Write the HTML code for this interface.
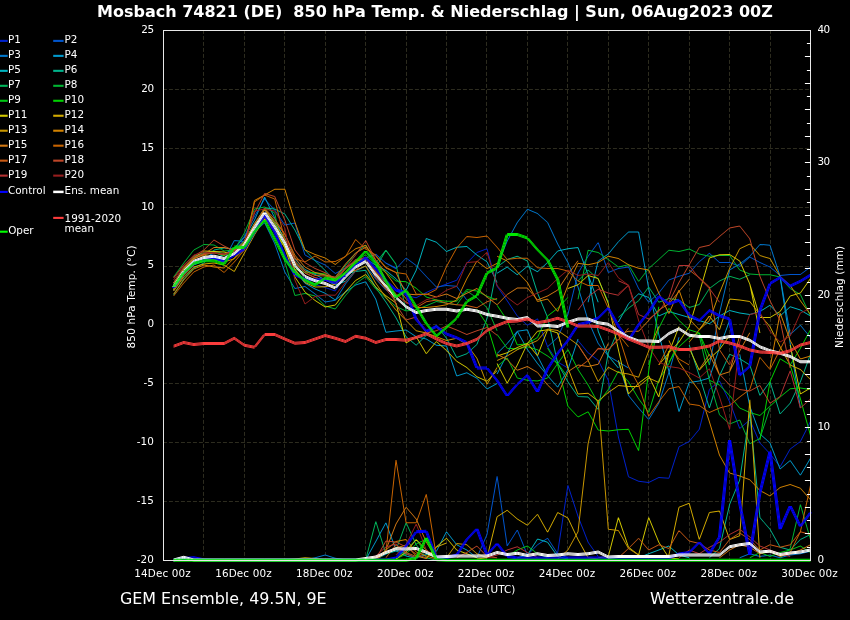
<!DOCTYPE html>
<html lang="de"><head><meta charset="utf-8"><title>Mosbach 74821 (DE) 850 hPa Temp. &amp; Niederschlag</title>
<style>html,body{margin:0;padding:0;background:#000;}body{width:850px;height:620px;overflow:hidden;}svg{display:block;}text{font-family:"DejaVu Sans", "Liberation Sans", sans-serif;fill:#fff;}</style></head><body>
<svg width="850" height="620" viewBox="0 0 850 620">
<rect width="850" height="620" fill="#000"/>
<path d="M203.50 30.50V560.50M244.50 30.50V560.50M284.50 30.50V560.50M325.50 30.50V560.50M365.50 30.50V560.50M406.50 30.50V560.50M446.50 30.50V560.50M486.50 30.50V560.50M527.50 30.50V560.50M567.50 30.50V560.50M608.50 30.50V560.50M648.50 30.50V560.50M689.50 30.50V560.50M729.50 30.50V560.50M770.50 30.50V560.50" fill="none" stroke="#2d2c1f" stroke-width="1" stroke-dasharray="4 2" stroke-dashoffset="0.6"/>
<path d="M163.50 501.50H810.50M163.50 442.50H810.50M163.50 383.50H810.50M163.50 324.50H810.50M163.50 266.50H810.50M163.50 207.50H810.50M163.50 148.50H810.50M163.50 89.50H810.50" fill="none" stroke="#2d2c1f" stroke-width="1" stroke-dasharray="4 2" stroke-dashoffset="0.56"/>
<g stroke="none">
<path fill="#0022cc" d="M426.3 292L436.4 287.4L436.4 288.4L426.3 293ZM436.4 287.4L446.5 283.5L446.5 284.5L436.4 288.4ZM446.5 283.5L456.7 279.7L456.7 280.7L446.5 284.5ZM457.2 280.2L456.2 280.2L466.3 263.3L467.3 263.3ZM467.3 263.3L466.3 263.3L476.4 252.6L477.4 252.6ZM476.9 252.1L487 248.3L487 249.3L476.9 253.1ZM486.5 248.8L487.5 248.8L497.6 286.3L496.6 286.3ZM496.6 286.3L497.6 286.3L507.7 300.7L506.7 300.7ZM506.7 300.7L507.7 300.7L517.8 316L516.8 316ZM517.3 315.5L527.4 324.7L527.4 325.7L517.3 316.5ZM527.4 324.7L537.5 318.3L537.5 319.3L527.4 325.7ZM537 318.8L538 318.8L548.1 346.7L547.1 346.7ZM547.1 346.7L548.1 346.7L558.2 362L557.2 362ZM557.7 361.5L567.9 367.6L567.9 368.6L557.7 362.5ZM577.5 340.4L578.5 340.4L588.6 352.7L587.6 352.7ZM588.1 352.2L598.2 359.8L598.2 360.8L588.1 353.2ZM597.7 360.3L598.7 360.3L608.8 380.3L607.8 380.3ZM607.8 380.3L608.8 380.3L618.9 437L617.9 437ZM617.9 437L618.9 437L629 476.7L628 476.7ZM689.7 441.5L688.7 441.5L698.8 429.3L699.8 429.3ZM699.8 429.3L698.8 429.3L708.9 389.5L709.9 389.5ZM709.4 389L719.5 380.5L719.5 381.5L709.4 390ZM719 381L720 381L730.1 401.7L729.1 401.7ZM729.1 401.7L730.1 401.7L740.2 428.6L739.2 428.6ZM739.7 428.1L749.8 419.6L749.8 420.6L739.7 429.1ZM749.3 420.1L750.3 420.1L760.4 443L759.4 443ZM759.4 443L760.4 443L770.5 453.7L769.5 453.7ZM769.5 453.7L770.5 453.7L780.6 466.8L779.6 466.8ZM780.6 466.8L779.6 466.8L789.7 449.1L790.7 449.1ZM790.2 448.6L800.4 441L800.4 442L790.2 449.6ZM800.9 441.5L799.9 441.5L810 421.5L811 421.5ZM628.5 476.2L638.6 480.8L638.6 481.8L628.5 477.2ZM638.6 480.8L648.7 482L648.7 483L638.6 481.8ZM648.7 482L658.8 477L658.8 478L648.7 483ZM658.8 477L668.9 477.8L668.9 478.8L658.8 478ZM669.4 478.3L668.4 478.3L678.5 446.8L679.5 446.8ZM679 446.3L689.2 441L689.2 442L679 447.3ZM547.6 557.2L557.7 552L557.7 553L547.6 558.2ZM558.2 552.5L557.2 552.5L567.4 485.2L568.4 485.2ZM567.4 485.2L568.4 485.2L578.5 516.3L577.5 516.3ZM577.5 516.3L578.5 516.3L588.6 542.2L587.6 542.2ZM587.6 542.2L588.6 542.2L598.7 556.4L597.7 556.4ZM174.1 289.7L173.1 289.7L183.2 274.2L184.2 274.2ZM183.7 273.7L193.8 264.6L193.8 265.6L183.7 274.7ZM193.8 264.6L203.9 259.8L203.9 260.8L193.8 265.6ZM203.9 259.8L214 252.1L214 253.1L203.9 260.8ZM214 252.1L224.1 254.5L224.1 255.5L214 253.1ZM224.1 254.5L234.3 248.3L234.3 249.3L224.1 255.5ZM234.3 248.3L244.4 239.7L244.4 240.7L234.3 249.3ZM244.9 240.2L243.9 240.2L254 224.3L255 224.3ZM255 224.3L254 224.3L264.1 209.4L265.1 209.4ZM264.1 209.4L265.1 209.4L275.2 231.1L274.2 231.1ZM274.2 231.1L275.2 231.1L285.3 247.6L284.3 247.6ZM284.3 247.6L285.3 247.6L295.4 271.3L294.4 271.3ZM294.4 271.3L295.4 271.3L305.5 281.8L304.5 281.8ZM305 281.3L315.1 284.1L315.1 285.1L305 282.3ZM315.1 284.1L325.2 287L325.2 288L315.1 285.1ZM325.2 287L335.3 290.5L335.3 291.5L325.2 288ZM335.8 291L334.8 291L345 274.3L346 274.3ZM345.5 273.8L355.6 263.7L355.6 264.7L345.5 274.8ZM355.6 263.7L365.7 258.2L365.7 259.2L355.6 264.7ZM365.2 258.7L366.2 258.7L376.3 272.1L375.3 272.1ZM375.3 272.1L376.3 272.1L386.4 282.5L385.4 282.5ZM385.9 282L396 290.5L396 291.5L385.9 283ZM396 290.5L406.1 295L406.1 296L396 291.5ZM406.1 295L416.2 297.3L416.2 298.3L406.1 296ZM416.2 297.3L426.3 292L426.3 293L416.2 298.3Z"/>
<path fill="#0055cc" d="M375.8 253.6L385.9 262.8L385.9 263.8L375.8 254.6ZM385.9 262.8L396 268.2L396 269.2L385.9 263.8ZM396.5 268.7L395.5 268.7L405.6 258L406.6 258ZM406.1 257.5L416.2 265.1L416.2 266.1L406.1 258.5ZM415.7 265.6L416.7 265.6L426.8 276.4L425.8 276.4ZM425.8 276.4L426.8 276.4L436.9 287.1L435.9 287.1ZM436.4 286.6L446.5 285.1L446.5 286.1L436.4 287.6ZM446.5 285.1L456.7 285.8L456.7 286.8L446.5 286.1ZM456.2 286.3L457.2 286.3L467.3 300.1L466.3 300.1ZM568.4 314.5L567.4 314.5L577.5 273.2L578.5 273.2ZM578.5 273.2L577.5 273.2L587.6 256.3L588.6 256.3ZM588.6 256.3L587.6 256.3L597.7 242.5L598.7 242.5ZM597.7 242.5L598.7 242.5L608.8 272.4L607.8 272.4ZM608.3 271.9L618.4 268.1L618.4 269.1L608.3 272.9ZM618.4 268.1L628.5 266.6L628.5 267.6L618.4 269.1ZM547.6 346.2L557.7 337L557.7 338L547.6 347.2ZM558.2 337.5L557.2 337.5L567.4 314.5L568.4 314.5ZM628 267.1L629 267.1L639.1 288.5L638.1 288.5ZM638.1 288.5L639.1 288.5L649.2 302.3L648.2 302.3ZM648.7 301.8L658.8 292.6L658.8 293.6L648.7 302.8ZM659.3 293.1L658.3 293.1L668.4 280.1L669.4 280.1ZM668.9 279.6L679 275.8L679 276.8L668.9 280.6ZM679 275.8L689.2 272.7L689.2 273.7L679 276.8ZM689.7 273.2L688.7 273.2L698.8 261.7L699.8 261.7ZM699.3 261.2L709.4 252.8L709.4 253.8L699.3 262.2ZM709.4 252.8L719.5 262L719.5 263L709.4 253.8ZM719.5 262L729.6 262L729.6 263L719.5 263ZM729.6 262L739.7 265.8L739.7 266.8L729.6 263ZM739.7 265.8L749.8 256.6L749.8 257.6L739.7 266.8ZM749.8 256.6L759.9 262L759.9 263L749.8 257.6ZM759.9 262L770 266.6L770 267.6L759.9 263ZM770 266.6L780.1 275L780.1 276L770 267.6ZM780.1 275L790.2 273.9L790.2 274.9L780.1 276ZM790.2 273.9L800.4 273.9L800.4 274.9L790.2 274.9ZM800.4 273.9L810.5 266.6L810.5 267.6L800.4 274.9ZM477.4 557.7L476.4 557.7L486.5 534.4L487.5 534.4ZM487.5 534.4L486.5 534.4L496.6 476.2L497.6 476.2ZM496.6 476.2L497.6 476.2L507.7 546L506.7 546ZM507.7 546L506.7 546L516.8 530L517.8 530ZM516.8 530L517.8 530L527.9 555.1L526.9 555.1ZM527.9 555.1L526.9 555.1L537 544.8L538 544.8ZM537.5 544.3L547.6 537.8L547.6 538.8L537.5 545.3ZM547.1 538.3L548.1 538.3L558.2 553.8L557.2 553.8ZM557.7 553.3L567.9 557.2L567.9 558.2L557.7 554.3ZM174.1 290.7L173.1 290.7L183.2 275.2L184.2 275.2ZM184.2 275.2L183.2 275.2L193.3 264.7L194.3 264.7ZM193.8 264.2L203.9 259.8L203.9 260.8L193.8 265.2ZM203.9 259.8L214 252.3L214 253.3L203.9 260.8ZM214 252.3L224.1 254.8L224.1 255.8L214 253.3ZM224.1 254.8L234.3 248L234.3 249L224.1 255.8ZM234.8 248.5L233.8 248.5L243.9 236.3L244.9 236.3ZM244.9 236.3L243.9 236.3L254 216.3L255 216.3ZM255 216.3L254 216.3L264.1 198.9L265.1 198.9ZM264.1 198.9L265.1 198.9L275.2 210L274.2 210ZM274.2 210L275.2 210L285.3 225L284.3 225ZM284.8 224.5L294.9 222.5L294.9 223.5L284.8 225.5ZM294.4 223L295.4 223L305.5 255L304.5 255ZM305 254.5L315.1 260L315.1 261L305 255.5ZM315.1 260L325.2 264.5L325.2 265.5L315.1 261ZM325.2 264.5L335.3 273L335.3 274L325.2 265.5ZM335.3 273L345.5 267.5L345.5 268.5L335.3 274ZM345.5 267.5L355.6 260.5L355.6 261.5L345.5 268.5ZM355.6 260.5L365.7 257.5L365.7 258.5L355.6 261.5ZM365.7 257.5L375.8 254L375.8 255L365.7 258.5ZM375.8 254L385.9 262.5L385.9 263.5L375.8 255ZM385.9 262.5L396 267.5L396 268.5L385.9 263.5Z"/>
<path fill="#0077cc" d="M497.6 265.5L496.6 265.5L506.7 241L507.7 241ZM507.7 241L506.7 241L516.8 222.6L517.8 222.6ZM517.8 222.6L516.8 222.6L526.9 209.3L527.9 209.3ZM527.4 208.8L537.5 212.9L537.5 213.9L527.4 209.8ZM537.5 212.9L547.6 222.1L547.6 223.1L537.5 213.9ZM547.1 222.6L548.1 222.6L558.2 244.1L557.2 244.1ZM557.2 244.1L558.2 244.1L568.4 262.5L567.4 262.5ZM567.4 262.5L568.4 262.5L578.5 287L577.5 287ZM577.5 287L578.5 287L588.6 320.6L587.6 320.6ZM587.6 320.6L588.6 320.6L598.7 343.6L597.7 343.6ZM597.7 343.6L598.7 343.6L608.8 355.9L607.8 355.9ZM608.3 355.4L618.4 361.5L618.4 362.5L608.3 356.4ZM618.4 361.5L628.5 367.6L628.5 368.6L618.4 362.5ZM617.9 362L618.9 362L629 395.6L628 395.6ZM720 312.9L719 312.9L729.1 270.1L730.1 270.1ZM729.6 269.6L739.7 263.5L739.7 264.5L729.6 270.6ZM739.7 263.5L749.8 255.8L749.8 256.8L739.7 264.5ZM709.9 365L708.9 365L719 312.9L720 312.9ZM628 395.6L629 395.6L639.1 407.9L638.1 407.9ZM638.1 407.9L639.1 407.9L649.2 419.4L648.2 419.4ZM649.2 419.4L648.2 419.4L658.3 403.3L659.3 403.3ZM659.3 403.3L658.3 403.3L668.4 372.6L669.4 372.6ZM669.4 372.6L668.4 372.6L678.5 337.3L679.5 337.3ZM750.3 256.3L749.3 256.3L759.4 244.4L760.4 244.4ZM759.9 243.9L770 244.8L770 245.8L759.9 244.9ZM769.5 245.3L770.5 245.3L780.6 276.3L779.6 276.3ZM779.6 276.3L780.6 276.3L790.7 334.4L789.7 334.4ZM790.2 333.9L800.4 324.7L800.4 325.7L790.2 334.9ZM799.9 325.2L800.9 325.2L811 337.5L810 337.5ZM739.7 557.2L749.8 553.3L749.8 554.3L739.7 558.2ZM749.8 553.3L759.9 555.9L759.9 556.9L749.8 554.3ZM759.9 555.9L770 554.6L770 555.6L759.9 556.9ZM770 554.6L780.1 557.2L780.1 558.2L770 555.6ZM780.1 557.2L790.2 554.6L790.2 555.6L780.1 558.2ZM790.2 554.6L800.4 553.3L800.4 554.3L790.2 555.6ZM800.4 553.3L810.5 550.7L810.5 551.7L800.4 554.3ZM305 559.3L315.1 557.2L315.1 558.2L305 560.3ZM315.1 557.2L325.2 554.6L325.2 555.6L315.1 558.2ZM325.2 554.6L335.3 557.7L335.3 558.7L325.2 555.6ZM335.3 557.7L345.5 559.3L345.5 560.3L335.3 558.7ZM174.1 289L173.1 289L183.2 274L184.2 274ZM183.7 273.5L193.8 263.5L193.8 264.5L183.7 274.5ZM193.8 263.5L203.9 259.5L203.9 260.5L193.8 264.5ZM203.9 259.5L214 258.5L214 259.5L203.9 260.5ZM214 258.5L224.1 259.5L224.1 260.5L214 259.5ZM224.6 260L223.6 260L233.8 240.5L234.8 240.5ZM234.3 240L244.4 241L244.4 242L234.3 241ZM244.4 241L254.5 231.2L254.5 232.2L244.4 242ZM254.5 231.2L264.6 222.3L264.6 223.3L254.5 232.2ZM264.1 222.8L265.1 222.8L275.2 243.5L274.2 243.5ZM274.2 243.5L275.2 243.5L285.3 272L284.3 272ZM284.3 272L285.3 272L295.4 288.5L294.4 288.5ZM294.9 288L305 286L305 287L294.9 289ZM305 286L315.1 293.5L315.1 294.5L305 287ZM315.1 293.5L325.2 301.5L325.2 302.5L315.1 294.5ZM325.2 301.5L335.3 299.7L335.3 300.7L325.2 302.5ZM335.8 300.2L334.8 300.2L345 283.9L346 283.9ZM346 283.9L345 283.9L355.1 270.9L356.1 270.9ZM355.6 270.4L365.7 265.4L365.7 266.4L355.6 271.4ZM365.2 265.9L366.2 265.9L376.3 278.9L375.3 278.9ZM375.3 278.9L376.3 278.9L386.4 289.9L385.4 289.9ZM385.9 289.4L396 293L396 294L385.9 290.4Z"/>
<path fill="#0099cc" d="M375.3 299.2L376.3 299.2L386.4 332.2L385.4 332.2ZM385.9 331.7L396 330.5L396 331.5L385.9 332.7ZM396 330.5L406.1 329.4L406.1 330.4L396 331.5ZM406.1 329.4L416.2 336.3L416.2 337.3L406.1 330.4ZM416.2 336.3L426.3 338.6L426.3 339.6L416.2 337.3ZM426.3 338.6L436.4 344.7L436.4 345.7L426.3 339.6ZM436.4 344.7L446.5 345.5L446.5 346.5L436.4 345.7ZM446 346L447 346L457.2 375.9L456.2 375.9ZM456.7 375.4L466.8 372.3L466.8 373.3L456.7 376.4ZM466.8 372.3L476.9 377.7L476.9 378.7L466.8 373.3ZM476.4 378.2L477.4 378.2L487.5 388.9L486.5 388.9ZM487 388.4L497.1 383.1L497.1 384.1L487 389.4ZM588.6 302.3L587.6 302.3L597.7 260.9L598.7 260.9ZM598.2 260.4L608.3 253.5L608.3 254.5L598.2 261.4ZM608.8 254L607.8 254L617.9 241.8L618.9 241.8ZM618.4 241.3L628.5 231.6L628.5 232.6L618.4 242.3ZM497.1 353.1L507.2 343.1L507.2 344.1L497.1 354.1ZM507.7 343.6L506.7 343.6L516.8 331.3L517.8 331.3ZM517.3 330.8L527.4 329.3L527.4 330.3L517.3 331.8ZM526.9 329.8L527.9 329.8L538 355.9L537 355.9ZM537 355.9L538 355.9L548.1 375.7L547.1 375.7ZM497.6 374.1L496.6 374.1L506.7 354.2L507.7 354.2ZM507.7 354.2L506.7 354.2L516.8 331.3L517.8 331.3ZM516.8 331.3L517.8 331.3L527.9 349.6L526.9 349.6ZM526.9 349.6L527.9 349.6L538 363.4L537 363.4ZM537 363.4L538 363.4L548.1 375.7L547.1 375.7ZM547.1 375.7L548.1 375.7L558.2 387.2L557.2 387.2ZM558.2 387.2L557.2 387.2L567.4 369.5L568.4 369.5ZM568.4 369.5L567.4 369.5L577.5 338.9L578.5 338.9ZM628.5 231.6L638.6 231.6L638.6 232.6L628.5 232.6ZM638.1 232.1L639.1 232.1L649.2 288.5L648.2 288.5ZM648.2 288.5L649.2 288.5L659.3 334.4L658.3 334.4ZM658.3 334.4L659.3 334.4L669.4 371.1L668.4 371.1ZM668.4 371.1L669.4 371.1L679.5 411.7L678.5 411.7ZM679.5 411.7L678.5 411.7L688.7 382.6L689.7 382.6ZM689.2 382.1L699.3 380.5L699.3 381.5L689.2 383.1ZM699.3 380.5L709.4 377.5L709.4 378.5L699.3 381.5ZM709.9 378L708.9 378L719 348.1L720 348.1ZM720 348.1L719 348.1L729.1 320.5L730.1 320.5ZM779.6 276.9L780.6 276.9L790.7 343.6L789.7 343.6ZM789.7 343.6L790.7 343.6L800.9 408L799.9 408ZM739.2 354.2L740.2 354.2L750.3 406.3L749.3 406.3ZM749.3 406.3L750.3 406.3L760.4 433.9L759.4 433.9ZM759.9 433.4L770 442.5L770 443.5L759.9 434.4ZM769.5 443L770.5 443L780.6 469.1L779.6 469.1ZM780.1 468.6L790.2 460.1L790.2 461.1L780.1 469.6ZM789.7 460.6L790.7 460.6L800.9 475.2L799.9 475.2ZM800.9 475.2L799.9 475.2L810 458.3L811 458.3ZM385.4 522.8L386.4 522.8L396.5 549.9L395.5 549.9ZM396 549.4L406.1 553.3L406.1 554.3L396 550.4ZM406.1 553.3L416.2 557.2L416.2 558.2L406.1 554.3ZM416.2 557.2L436.4 550.7L436.4 551.7L416.2 558.2ZM436.9 551.2L435.9 551.2L446 531.8L447 531.8ZM446 531.8L447 531.8L457.2 544.8L456.2 544.8ZM456.7 544.3L466.8 549.4L466.8 550.4L456.7 545.3ZM466.8 549.4L476.9 557.2L476.9 558.2L466.8 550.4ZM366.2 559.8L365.2 559.8L375.3 541.4L376.3 541.4ZM376.3 541.4L375.3 541.4L385.4 522.8L386.4 522.8ZM174.1 290L173.1 290L183.2 274L184.2 274ZM183.7 273.5L193.8 263.5L193.8 264.5L183.7 274.5ZM193.8 263.5L203.9 260L203.9 261L193.8 264.5ZM203.9 260L214 258.8L214 259.8L203.9 261ZM214 258.8L224.1 253.7L224.1 254.7L214 259.8ZM224.1 253.7L234.3 247.7L234.3 248.7L224.1 254.7ZM234.8 248.2L233.8 248.2L243.9 237.6L244.9 237.6ZM244.9 237.6L243.9 237.6L254 220L255 220ZM255 220L254 220L264.1 197L265.1 197ZM264.1 197L265.1 197L275.2 218L274.2 218ZM274.2 218L275.2 218L285.3 242L284.3 242ZM284.3 242L285.3 242L295.4 270.2L294.4 270.2ZM294.4 270.2L295.4 270.2L305.5 283.3L304.5 283.3ZM305 282.8L315.1 288.4L315.1 289.4L305 283.8ZM315.1 288.4L325.2 292.7L325.2 293.7L315.1 289.4ZM325.2 292.7L335.3 299.6L335.3 300.6L325.2 293.7ZM335.3 299.6L345.5 291.6L345.5 292.6L335.3 300.6ZM345.5 291.6L355.6 284.5L355.6 285.5L345.5 292.6ZM355.6 284.5L365.7 281.3L365.7 282.3L355.6 285.5ZM365.2 281.8L366.2 281.8L376.3 299.2L375.3 299.2Z"/>
<path fill="#00b4c0" d="M395.5 278.7L396.5 278.7L406.6 290.2L405.6 290.2ZM406.6 290.2L405.6 290.2L415.7 270.2L416.7 270.2ZM416.7 270.2L415.7 270.2L425.8 238.5L426.8 238.5ZM426.3 238L436.4 241.7L436.4 242.7L426.3 239ZM436.4 241.7L446.5 250.9L446.5 251.9L436.4 242.7ZM446.5 250.9L456.7 246.7L456.7 247.7L446.5 251.9ZM456.7 246.7L466.8 246L466.8 247L456.7 247.7ZM466.8 246L476.9 254.4L476.9 255.4L466.8 247ZM476.9 254.4L487 261.3L487 262.3L476.9 255.4ZM486.5 261.8L487.5 261.8L497.6 282.5L496.6 282.5ZM497.1 272.7L507.2 266.6L507.2 267.6L497.1 273.7ZM507.2 266.6L517.3 274.2L517.3 275.2L507.2 267.6ZM517.3 274.2L527.4 265.8L527.4 266.8L517.3 275.2ZM527.4 265.8L537.5 271.2L537.5 272.2L527.4 266.8ZM537.5 271.2L547.6 262L547.6 263L537.5 272.2ZM548.1 262.5L547.1 262.5L557.2 251L558.2 251ZM557.7 250.5L567.9 248.2L567.9 249.2L557.7 251.5ZM567.9 248.2L578 246.9L578 247.9L567.9 249.2ZM577.5 247.4L578.5 247.4L588.6 274.7L587.6 274.7ZM587.6 274.7L588.6 274.7L598.7 302.3L597.7 302.3ZM587.6 274.7L588.6 274.7L598.7 331.3L597.7 331.3ZM597.7 331.3L598.7 331.3L608.8 355.9L607.8 355.9ZM607.8 355.9L608.8 355.9L618.9 368.1L617.9 368.1ZM618.9 322.1L617.9 322.1L628 303.7L629 303.7ZM628.5 303.2L638.6 293.3L638.6 294.3L628.5 304.2ZM638.6 293.3L648.7 297.1L648.7 298.1L638.6 294.3ZM648.2 297.6L649.2 297.6L659.3 316L658.3 316ZM658.8 315.5L668.9 310.9L668.9 311.9L658.8 316.5ZM668.9 310.9L679 314L679 315L668.9 311.9ZM679 314L689.2 317L689.2 318L679 315ZM689.2 317L699.3 320.1L699.3 321.1L689.2 318ZM699.3 320.1L709.4 323.2L709.4 324.2L699.3 321.1ZM709.4 323.2L719.5 315.5L719.5 316.5L709.4 324.2ZM719.5 315.5L729.6 310.1L729.6 311.1L719.5 316.5ZM729.6 310.1L739.7 312.4L739.7 313.4L729.6 311.1ZM739.7 312.4L749.8 314L749.8 315L739.7 313.4ZM749.8 314L759.9 310.9L759.9 311.9L749.8 315ZM759.9 310.9L770 304.8L770 305.8L759.9 311.9ZM769.5 305.3L770.5 305.3L780.6 316L779.6 316ZM780.1 315.5L790.2 306.3L790.2 307.3L780.1 316.5ZM790.2 306.3L800.4 309.4L800.4 310.4L790.2 307.3ZM800.4 309.4L810.5 315.5L810.5 316.5L800.4 310.4ZM517.3 557.2L527.4 554.6L527.4 555.6L517.3 558.2ZM527.9 555.1L526.9 555.1L537 539.1L538 539.1ZM537.5 538.6L547.6 541.7L547.6 542.7L537.5 539.6ZM547.1 542.2L548.1 542.2L558.2 556.4L557.2 556.4ZM557.7 555.9L567.9 558.5L567.9 559.5L557.7 556.9ZM638.6 557.2L648.7 553.3L648.7 554.3L638.6 558.2ZM648.7 553.3L658.8 549.4L658.8 550.4L648.7 554.3ZM658.8 549.4L668.9 545.5L668.9 546.5L658.8 550.4ZM668.9 545.5L679 554.6L679 555.6L668.9 546.5ZM679 554.6L689.2 557.2L689.2 558.2L679 555.6ZM375.8 559L385.9 553.5L385.9 554.5L375.8 560ZM385.9 553.5L396 550.5L396 551.5L385.9 554.5ZM396 550.5L406.1 555.5L406.1 556.5L396 551.5ZM406.1 555.5L416.2 558L416.2 559L406.1 556.5ZM173.6 283.1L183.7 273.6L183.7 274.6L173.6 284.1ZM183.7 273.6L193.8 264.2L193.8 265.2L183.7 274.6ZM193.8 264.2L203.9 260.5L203.9 261.5L193.8 265.2ZM203.9 260.5L214 258.7L214 259.7L203.9 261.5ZM214 258.7L224.1 254.6L224.1 255.6L214 259.7ZM224.1 254.6L234.3 250.3L234.3 251.3L224.1 255.6ZM234.3 250.3L244.4 240.6L244.4 241.6L234.3 251.3ZM244.9 241.1L243.9 241.1L254 223.4L255 223.4ZM255 223.4L254 223.4L264.1 208.4L265.1 208.4ZM264.1 208.4L265.1 208.4L275.2 222.7L274.2 222.7ZM274.2 222.7L275.2 222.7L285.3 237.9L284.3 237.9ZM284.3 237.9L285.3 237.9L295.4 259.1L294.4 259.1ZM294.4 259.1L295.4 259.1L305.5 269.6L304.5 269.6ZM305 269.1L315.1 274.1L315.1 275.1L305 270.1ZM315.1 274.1L325.2 279.2L325.2 280.2L315.1 275.1ZM325.2 279.2L335.3 284.6L335.3 285.6L325.2 280.2ZM335.3 284.6L345.5 280.7L345.5 281.7L335.3 285.6ZM346 281.2L345 281.2L355.1 270.5L356.1 270.5ZM356.1 270.5L355.1 270.5L365.2 258.7L366.2 258.7ZM365.7 258.2L375.8 264.8L375.8 265.8L365.7 259.2ZM375.8 264.8L385.9 269.9L385.9 270.9L375.8 265.8ZM385.9 269.9L396 278.2L396 279.2L385.9 270.9Z"/>
<path fill="#00b48c" d="M406.1 336.3L416.2 344.7L416.2 345.7L406.1 337.3ZM416.2 344.7L426.3 334.8L426.3 335.8L416.2 345.7ZM426.3 334.8L436.4 324.8L436.4 325.8L426.3 335.8ZM435.9 325.3L436.9 325.3L447 338.3L446 338.3ZM446 338.3L447 338.3L457.2 357.5L456.2 357.5ZM456.7 357L466.8 353.2L466.8 354.2L456.7 358ZM466.8 353.2L476.9 344L476.9 345L466.8 354.2ZM477.4 344.5L476.4 344.5L486.5 318.4L487.5 318.4ZM487.5 318.4L486.5 318.4L496.6 267.1L497.6 267.1ZM497.1 266.6L507.2 258.9L507.2 259.9L497.1 267.6ZM507.2 258.9L517.3 255.8L517.3 256.8L507.2 259.9ZM517.3 255.8L527.4 260.4L527.4 261.4L517.3 256.8ZM526.9 260.9L527.9 260.9L538 293L537 293ZM537 293L538 293L548.1 317.5L547.1 317.5ZM547.1 317.5L548.1 317.5L558.2 363.5L557.2 363.5ZM557.2 363.5L558.2 363.5L568.4 381.8L567.4 381.8ZM567.4 381.8L568.4 381.8L578.5 396.4L577.5 396.4ZM578 395.9L588.1 396.6L588.1 397.6L578 396.9ZM587.6 397.1L588.6 397.1L598.7 409.4L597.7 409.4ZM598.7 409.4L597.7 409.4L607.8 352.7L608.8 352.7ZM608.8 352.7L607.8 352.7L617.9 329.7L618.9 329.7ZM688.7 345L689.7 345L699.8 375.7L698.8 375.7ZM698.8 375.7L699.8 375.7L709.9 407.9L708.9 407.9ZM709.9 407.9L708.9 407.9L719 375.7L720 375.7ZM720 375.7L719 375.7L729.1 354.2L730.1 354.2ZM729.6 353.7L739.7 358.3L739.7 359.3L729.6 354.7ZM739.7 358.3L749.8 364.4L749.8 365.4L739.7 359.3ZM749.3 364.9L750.3 364.9L760.4 395.6L759.4 395.6ZM760.4 395.6L759.4 395.6L769.5 381.8L770.5 381.8ZM769.5 381.8L770.5 381.8L780.6 414L779.6 414ZM780.6 414L779.6 414L789.7 403.3L790.7 403.3ZM790.7 403.3L789.7 403.3L799.9 381.8L800.9 381.8ZM800.9 381.8L799.9 381.8L810 354.2L811 354.2ZM709.4 557.2L719.5 548.1L719.5 549.1L709.4 558.2ZM720 548.6L719 548.6L729.1 504.6L730.1 504.6ZM730.1 504.6L729.1 504.6L739.2 480.1L740.2 480.1ZM740.2 480.1L739.2 480.1L749.3 412.8L750.3 412.8ZM749.3 412.8L750.3 412.8L760.4 517.6L759.4 517.6ZM759.4 517.6L760.4 517.6L770.5 529.2L769.5 529.2ZM769.5 529.2L770.5 529.2L780.6 547.3L779.6 547.3ZM780.1 546.8L790.2 549.4L790.2 550.4L780.1 547.8ZM790.7 549.9L789.7 549.9L799.9 539.6L800.9 539.6ZM800.4 539.1L810.5 533.9L810.5 534.9L800.4 540.1ZM174.1 295L173.1 295L183.2 279L184.2 279ZM184.2 279L183.2 279L193.3 268L194.3 268ZM193.8 267.5L203.9 262.5L203.9 263.5L193.8 268.5ZM204.4 263L203.4 263L213.5 250L214.5 250ZM214 249.5L224.1 247.5L224.1 248.5L214 250.5ZM224.1 247.5L234.3 248.5L234.3 249.5L224.1 248.5ZM234.3 248.5L244.4 249.5L244.4 250.5L234.3 249.5ZM244.9 250L243.9 250L254 230.3L255 230.3ZM255 230.3L254 230.3L264.1 208L265.1 208ZM264.6 207.5L274.7 208.5L274.7 209.5L264.6 208.5ZM274.7 208.5L284.8 213.5L284.8 214.5L274.7 209.5ZM284.3 214L285.3 214L295.4 230L294.4 230ZM294.4 230L295.4 230L305.5 250L304.5 250ZM304.5 250L305.5 250L315.6 260.8L314.6 260.8ZM315.1 260.3L325.2 270.1L325.2 271.1L315.1 261.3ZM324.7 270.6L325.7 270.6L335.8 281.7L334.8 281.7ZM335.3 281.2L345.5 273.5L345.5 274.5L335.3 282.2ZM345.5 273.5L355.6 271L355.6 272L345.5 274.5ZM355.6 271L365.7 269.8L365.7 270.8L355.6 272ZM365.2 270.3L366.2 270.3L376.3 287.5L375.3 287.5ZM375.3 287.5L376.3 287.5L386.4 302L385.4 302ZM385.4 302L386.4 302L396.5 317.7L395.5 317.7ZM395.5 317.7L396.5 317.7L406.6 336.8L405.6 336.8Z"/>
<path fill="#00b45a" d="M376.3 267.9L375.3 267.9L385.4 250.3L386.4 250.3ZM385.4 250.3L386.4 250.3L396.5 264.6L395.5 264.6ZM395.5 264.6L396.5 264.6L406.6 310.9L405.6 310.9ZM578.5 280.9L577.5 280.9L587.6 270.1L588.6 270.1ZM588.1 269.6L598.2 278.8L598.2 279.8L588.1 270.6ZM597.7 279.3L598.7 279.3L608.8 302.3L607.8 302.3ZM709.4 288L719.5 280.4L719.5 281.4L709.4 289ZM719.5 280.4L729.6 275.8L729.6 276.8L719.5 281.4ZM729.6 275.8L739.7 278.8L739.7 279.8L729.6 276.8ZM739.7 278.8L749.8 274.2L749.8 275.2L739.7 279.8ZM618.4 317L628.5 307.8L628.5 308.8L618.4 318ZM628.5 307.8L638.6 300.2L638.6 301.2L628.5 308.8ZM639.1 300.7L638.1 300.7L648.2 286.9L649.2 286.9ZM648.2 286.9L649.2 286.9L659.3 302.2L658.3 302.2ZM658.8 301.7L668.9 297.9L668.9 298.9L658.8 302.7ZM668.9 297.9L679 299.4L679 300.4L668.9 298.9ZM679 299.4L689.2 307.1L689.2 308.1L679 300.4ZM689.2 307.1L699.3 304L699.3 305L689.2 308.1ZM699.8 304.5L698.8 304.5L708.9 288.5L709.9 288.5ZM375.3 521.5L376.3 521.5L386.4 553.8L385.4 553.8ZM385.9 553.3L396 549.4L396 550.4L385.9 554.3ZM396.5 549.9L395.5 549.9L405.6 522.8L406.6 522.8ZM405.6 522.8L406.6 522.8L416.7 544.8L415.7 544.8ZM415.7 544.8L416.7 544.8L426.8 557.7L425.8 557.7ZM426.3 557.2L436.4 559.8L436.4 560.8L426.3 558.2ZM366.2 559.8L365.2 559.8L375.3 521.5L376.3 521.5ZM174.1 282.9L173.1 282.9L183.2 267.7L184.2 267.7ZM184.2 267.7L183.2 267.7L193.3 256.6L194.3 256.6ZM193.8 256.1L203.9 252L203.9 253L193.8 257.1ZM203.9 252L214 250.5L214 251.5L203.9 253ZM214 250.5L224.1 253.5L224.1 254.5L214 251.5ZM224.1 253.5L234.3 250.2L234.3 251.2L224.1 254.5ZM234.3 250.2L244.4 241.1L244.4 242.1L234.3 251.2ZM244.9 241.6L243.9 241.6L254 231.2L255 231.2ZM255 231.2L254 231.2L264.1 215.3L265.1 215.3ZM264.1 215.3L265.1 215.3L275.2 231.3L274.2 231.3ZM274.2 231.3L275.2 231.3L285.3 246L284.3 246ZM284.3 246L285.3 246L295.4 261.2L294.4 261.2ZM294.9 260.7L305 270.7L305 271.7L294.9 261.7ZM305 270.7L315.1 272.9L315.1 273.9L305 271.7ZM315.1 272.9L325.2 274.7L325.2 275.7L315.1 273.9ZM325.2 274.7L335.3 277.8L335.3 278.8L325.2 275.7ZM335.8 278.3L334.8 278.3L345 265.6L346 265.6ZM346 265.6L345 265.6L355.1 253.3L356.1 253.3ZM355.6 252.8L365.7 244.5L365.7 245.5L355.6 253.8ZM365.2 245L366.2 245L376.3 263L375.3 263ZM376.3 263L375.3 263L385.4 250L386.4 250ZM385.4 250L386.4 250L396.5 264L395.5 264Z"/>
<path fill="#00b432" d="M446.5 302.7L456.7 304.2L456.7 305.2L446.5 303.7ZM457.2 304.7L456.2 304.7L466.3 290.9L467.3 290.9ZM466.8 290.4L476.9 297.3L476.9 298.3L466.8 291.4ZM476.9 297.3L487 307.3L487 308.3L476.9 298.3ZM486.5 307.8L487.5 307.8L497.6 330.8L496.6 330.8ZM578.5 299.2L577.5 299.2L587.6 250.2L588.6 250.2ZM588.1 249.7L598.2 252L598.2 253L588.1 250.7ZM598.2 252L608.3 258.9L608.3 259.9L598.2 253ZM608.3 258.9L618.4 266.6L618.4 267.6L608.3 259.9ZM618.4 266.6L628.5 264.3L628.5 265.3L618.4 267.6ZM628 264.8L629 264.8L639.1 281.6L638.1 281.6ZM639.1 281.6L638.1 281.6L648.2 268.6L649.2 268.6ZM648.7 268.1L658.8 258.9L658.8 259.9L648.7 269.1ZM658.8 258.9L668.9 249.7L668.9 250.7L658.8 259.9ZM668.9 249.7L679 250.9L679 251.9L668.9 250.7ZM679 250.9L689.2 248.6L689.2 249.6L679 251.9ZM689.2 248.6L699.3 253.5L699.3 254.5L689.2 249.6ZM699.3 253.5L709.4 255.8L709.4 256.8L699.3 254.5ZM709.4 255.8L719.5 255.1L719.5 256.1L709.4 256.8ZM719.5 255.1L729.6 255.1L729.6 256.1L719.5 256.1ZM729.1 255.6L730.1 255.6L740.2 270.1L739.2 270.1ZM739.7 269.6L749.8 273.5L749.8 274.5L739.7 270.6ZM698.8 335.8L699.8 335.8L709.9 380.3L708.9 380.3ZM708.9 380.3L709.9 380.3L720 414.8L719 414.8ZM719.5 414.3L729.6 423.5L729.6 424.5L719.5 415.3ZM729.6 423.5L739.7 419.6L739.7 420.6L729.6 424.5ZM739.2 420.1L740.2 420.1L750.3 443.8L749.3 443.8ZM749.8 273.5L759.9 274.2L759.9 275.2L749.8 274.5ZM759.9 274.2L770 274.2L770 275.2L759.9 275.2ZM770 274.2L780.1 276.5L780.1 277.5L770 275.2ZM779.6 277L780.6 277L790.7 288.5L789.7 288.5ZM790.2 288L800.4 294L800.4 295L790.2 289ZM799.9 294.5L800.9 294.5L811 316L810 316ZM749.8 443.3L759.9 437.9L759.9 438.9L749.8 444.3ZM760.4 438.4L759.4 438.4L769.5 407.7L770.5 407.7ZM396 557.2L406.1 549.4L406.1 550.4L396 558.2ZM406.6 549.9L405.6 549.9L415.7 539.6L416.7 539.6ZM415.7 539.6L416.7 539.6L426.8 553.8L425.8 553.8ZM426.3 553.3L436.4 557.2L436.4 558.2L426.3 554.3ZM780.1 557.2L790.2 548.1L790.2 549.1L780.1 558.2ZM790.7 548.6L789.7 548.6L799.9 504.6L800.9 504.6ZM799.9 504.6L800.9 504.6L811 539.6L810 539.6ZM174.1 277L173.1 277L183.2 263L184.2 263ZM184.2 263L183.2 263L193.3 250L194.3 250ZM193.8 249.5L203.9 244L203.9 245L193.8 250.5ZM203.9 244L214 244.5L214 245.5L203.9 245ZM214 244.5L224.1 250.5L224.1 251.5L214 245.5ZM224.1 250.5L234.3 249.5L234.3 250.5L224.1 251.5ZM234.8 250L233.8 250L243.9 233.1L244.9 233.1ZM244.9 233.1L243.9 233.1L254 209L255 209ZM254.5 208.5L264.6 206.5L264.6 207.5L254.5 209.5ZM264.6 206.5L274.7 212.5L274.7 213.5L264.6 207.5ZM274.2 213L275.2 213L285.3 262L284.3 262ZM284.3 262L285.3 262L295.4 295.5L294.4 295.5ZM294.9 295L305 293L305 294L294.9 296ZM305 293L315.1 295.5L315.1 296.5L305 294ZM315.1 295.5L325.2 305.5L325.2 306.5L315.1 296.5ZM325.2 305.5L335.3 308.5L335.3 309.5L325.2 306.5ZM335.8 309L334.8 309L345 295.6L346 295.6ZM346 295.6L345 295.6L355.1 283.7L356.1 283.7ZM355.6 283.2L365.7 276.1L365.7 277.1L355.6 284.2ZM365.2 276.6L366.2 276.6L376.3 288.9L375.3 288.9ZM375.8 288.4L385.9 297.5L385.9 298.5L375.8 289.4ZM385.9 297.5L396 306L396 307L385.9 298.5ZM396 306L406.1 310.5L406.1 311.5L396 307ZM406.1 310.5L416.2 309.1L416.2 310.1L406.1 311.5ZM416.2 309.1L426.3 305.3L426.3 306.3L416.2 310.1ZM426.3 305.3L436.4 301L436.4 302L426.3 306.3ZM436.4 301L446.5 302.7L446.5 303.7L436.4 302Z"/>
<path fill="#00c814" d="M396 280.5L406.1 281.2L406.1 282.2L396 281.5ZM406.1 281.2L416.2 287.7L416.2 288.7L406.1 282.2ZM416.2 287.7L426.3 296.6L426.3 297.6L416.2 288.7ZM426.3 296.6L436.4 299.6L436.4 300.6L426.3 297.6ZM436.4 299.6L446.5 300.8L446.5 301.8L436.4 300.6ZM446.5 300.8L456.7 300.7L456.7 301.7L446.5 301.8ZM457.2 301.2L456.2 301.2L466.3 289.4L467.3 289.4ZM466.8 288.9L476.9 290.4L476.9 291.4L466.8 289.9ZM476.9 290.4L487 295.8L487 296.8L476.9 291.4ZM487 295.8L497.1 299.6L497.1 300.6L487 296.8ZM496.6 334.4L497.6 334.4L507.7 348.2L506.7 348.2ZM507.2 347.7L517.3 348.5L517.3 349.5L507.2 348.7ZM517.3 348.5L527.4 346.2L527.4 347.2L517.3 349.5ZM527.4 346.2L537.5 349.2L537.5 350.2L527.4 347.2ZM537.5 349.2L547.6 355.4L547.6 356.4L537.5 350.2ZM547.6 355.4L557.7 362.9L557.7 363.9L547.6 356.4ZM557.2 363.4L558.2 363.4L568.4 377.3L567.4 377.3ZM497.1 366L507.2 357.5L507.2 358.5L497.1 367ZM506.7 358L507.7 358L517.8 378L516.8 378ZM517.3 377.5L527.4 379.8L527.4 380.8L517.3 378.5ZM527.4 379.8L537.5 380.5L537.5 381.5L527.4 380.8ZM537.5 380.5L547.6 377.5L547.6 378.5L537.5 381.5ZM548.1 378L547.1 378L557.2 363.4L558.2 363.4ZM558.2 363.4L557.2 363.4L567.4 349.6L568.4 349.6ZM567.4 349.6L568.4 349.6L578.5 369.5L577.5 369.5ZM577.5 369.5L578.5 369.5L588.6 384.9L587.6 384.9ZM587.6 384.9L588.6 384.9L598.7 403.3L597.7 403.3ZM598.7 403.3L597.7 403.3L607.8 389.5L608.8 389.5ZM608.8 389.5L607.8 389.5L617.9 371.1L618.9 371.1ZM617.9 371.1L618.9 371.1L629 381.8L628 381.8ZM649.2 365L648.2 365L658.3 328.3L659.3 328.3ZM659.3 328.3L658.3 328.3L668.4 308.3L669.4 308.3ZM668.4 308.3L669.4 308.3L679.5 320.6L678.5 320.6ZM679 320.1L689.2 329.3L689.2 330.3L679 321.1ZM689.2 329.3L699.3 332.4L699.3 333.4L689.2 330.3ZM698.8 332.9L699.8 332.9L709.9 365L708.9 365ZM628 381.8L629 381.8L639.1 398.7L638.1 398.7ZM638.1 398.7L639.1 398.7L649.2 412.5L648.2 412.5ZM649.2 412.5L648.2 412.5L658.3 380.3L659.3 380.3ZM659.3 380.3L658.3 380.3L668.4 363.4L669.4 363.4ZM669.4 363.4L668.4 363.4L678.5 340.4L679.5 340.4ZM709.4 379.8L719.5 384.4L719.5 385.4L709.4 380.8ZM719 384.9L720 384.9L730.1 395.6L729.1 395.6ZM729.1 395.6L730.1 395.6L740.2 407.9L739.2 407.9ZM739.7 407.4L749.8 412L749.8 413L739.7 408.4ZM749.8 412L759.9 415L759.9 416L749.8 413ZM759.9 415L770 405.8L770 406.8L759.9 416ZM770 405.8L780.1 396.6L780.1 397.6L770 406.8ZM780.1 396.6L790.2 388.2L790.2 389.2L780.1 397.6ZM790.2 388.2L800.4 387.4L800.4 388.4L790.2 389.2ZM800.4 387.4L810.5 389L810.5 390L800.4 388.4ZM507.2 555.9L517.3 549.4L517.3 550.4L507.2 556.9ZM517.3 549.4L527.4 545.5L527.4 546.5L517.3 550.4ZM527.4 545.5L537.5 553.3L537.5 554.3L527.4 546.5ZM537.5 553.3L547.6 557.2L547.6 558.2L537.5 554.3ZM749.8 557.2L759.9 552L759.9 553L749.8 558.2ZM759.9 552L770 555.9L770 556.9L759.9 553ZM770 555.9L780.1 552L780.1 553L770 556.9ZM780.1 552L790.2 549.4L790.2 550.4L780.1 553ZM790.2 549.4L800.4 545.5L800.4 546.5L790.2 550.4ZM800.4 545.5L810.5 552L810.5 553L800.4 546.5ZM396 558.5L406.1 553.5L406.1 554.5L396 559.5ZM406.1 553.5L416.2 543.5L416.2 544.5L406.1 554.5ZM416.2 543.5L426.3 538.5L426.3 539.5L416.2 544.5ZM425.8 539L426.8 539L436.9 557L435.9 557ZM174.1 290.1L173.1 290.1L183.2 268L184.2 268ZM183.7 267.5L193.8 257.6L193.8 258.6L183.7 268.5ZM193.8 257.6L203.9 252.7L203.9 253.7L193.8 258.6ZM203.9 252.7L214 251.3L214 252.3L203.9 253.7ZM214 251.3L224.1 254.7L224.1 255.7L214 252.3ZM224.1 254.7L234.3 249.2L234.3 250.2L224.1 255.7ZM234.3 249.2L244.4 240.8L244.4 241.8L234.3 250.2ZM244.9 241.3L243.9 241.3L254 223.9L255 223.9ZM255 223.9L254 223.9L264.1 208.5L265.1 208.5ZM264.1 208.5L265.1 208.5L275.2 223.6L274.2 223.6ZM274.2 223.6L275.2 223.6L285.3 246.6L284.3 246.6ZM284.3 246.6L285.3 246.6L295.4 269.6L294.4 269.6ZM294.4 269.6L295.4 269.6L305.5 280.5L304.5 280.5ZM305 280L315.1 283.3L315.1 284.3L305 281ZM315.1 283.3L325.2 278.5L325.2 279.5L315.1 284.3ZM325.2 278.5L335.3 279.7L335.3 280.7L325.2 279.5ZM335.8 280.2L334.8 280.2L345 269.2L346 269.2ZM345.5 268.7L355.6 260.5L355.6 261.5L345.5 269.7ZM355.6 260.5L365.7 254.2L365.7 255.2L355.6 261.5ZM365.2 254.7L366.2 254.7L376.3 265.3L375.3 265.3ZM375.8 264.8L385.9 272.1L385.9 273.1L375.8 265.8ZM385.9 272.1L396 280.5L396 281.5L385.9 273.1Z"/>
<path fill="#00d200" d="M476.4 309.2L477.4 309.2L487.5 324.5L486.5 324.5ZM486.5 324.5L487.5 324.5L497.6 357.5L496.6 357.5ZM496.6 305.3L497.6 305.3L507.7 320.6L506.7 320.6ZM506.7 320.6L507.7 320.6L517.8 345.1L516.8 345.1ZM517.3 344.6L527.4 343.1L527.4 344.1L517.3 345.6ZM527.4 343.1L537.5 337L537.5 338L527.4 344.1ZM538 337.5L537 337.5L547.1 316L548.1 316ZM547.6 315.5L557.7 307.8L557.7 308.8L547.6 316.5ZM558.2 308.3L557.2 308.3L567.4 297.6L568.4 297.6ZM547.1 348.1L548.1 348.1L558.2 364.9L557.2 364.9ZM557.2 364.9L558.2 364.9L568.4 406.3L567.4 406.3ZM567.4 406.3L568.4 406.3L578.5 417.1L577.5 417.1ZM578 416.6L588.1 411.2L588.1 412.2L578 417.6ZM587.6 411.7L588.6 411.7L598.7 430.1L597.7 430.1ZM598.2 429.6L608.3 430.4L608.3 431.4L598.2 430.6ZM608.3 430.4L618.4 429.3L618.4 430.3L608.3 431.4ZM618.4 429.3L628.5 428.8L628.5 429.8L618.4 430.3ZM669.4 362L668.4 362L678.5 346.7L679.5 346.7ZM679 346.2L689.2 337L689.2 338L679 347.2ZM689.2 337L699.3 332.4L699.3 333.4L689.2 338ZM698.8 332.9L699.8 332.9L709.9 355.9L708.9 355.9ZM628 429.3L629 429.3L639.1 450.7L638.1 450.7ZM639.1 450.7L638.1 450.7L648.2 371.1L649.2 371.1ZM649.2 371.1L648.2 371.1L658.3 306.7L659.3 306.7ZM790.7 364.9L789.7 364.9L799.9 348.2L800.9 348.2ZM800.9 348.2L799.9 348.2L810 329.8L811 329.8ZM760.4 440L759.4 440L769.5 381.8L770.5 381.8ZM770.5 381.8L769.5 381.8L779.6 358.8L780.6 358.8ZM780.1 358.3L790.2 364.4L790.2 365.4L780.1 359.3ZM789.7 364.9L790.7 364.9L800.9 398.7L799.9 398.7ZM799.9 398.7L800.9 398.7L811 435.4L810 435.4ZM174.1 283.2L173.1 283.2L183.2 267.5L184.2 267.5ZM184.2 267.5L183.2 267.5L193.3 257L194.3 257ZM193.8 256.5L203.9 254L203.9 255L193.8 257.5ZM203.9 254L214 252.1L214 253.1L203.9 255ZM214 252.1L224.1 255.2L224.1 256.2L214 253.1ZM224.1 255.2L234.3 250.3L234.3 251.3L224.1 256.2ZM234.3 250.3L244.4 240.9L244.4 241.9L234.3 251.3ZM244.9 241.4L243.9 241.4L254 224.4L255 224.4ZM254.5 223.9L264.6 215.2L264.6 216.2L254.5 224.9ZM264.1 215.7L265.1 215.7L275.2 230.1L274.2 230.1ZM274.2 230.1L275.2 230.1L285.3 246.8L284.3 246.8ZM284.3 246.8L285.3 246.8L295.4 269L294.4 269ZM294.9 268.5L305 272.2L305 273.2L294.9 269.5ZM305 272.2L315.1 272.2L315.1 273.2L305 273.2ZM315.1 272.2L325.2 273.6L325.2 274.6L315.1 273.2ZM325.2 273.6L335.3 280.8L335.3 281.8L325.2 274.6ZM335.3 280.8L345.5 273.3L345.5 274.3L335.3 281.8ZM346 273.8L345 273.8L355.1 263.6L356.1 263.6ZM355.6 263.1L365.7 257.7L365.7 258.7L355.6 264.1ZM365.2 258.2L366.2 258.2L376.3 271.1L375.3 271.1ZM375.3 271.1L376.3 271.1L386.4 282.2L385.4 282.2ZM385.4 282.2L386.4 282.2L396.5 300.9L395.5 300.9Z"/>
<path fill="#d2c800" d="M395.5 303.1L396.5 303.1L406.6 342.9L405.6 342.9ZM406.1 342.4L416.2 336.3L416.2 337.3L406.1 343.4ZM415.7 336.8L416.7 336.8L426.8 353.7L425.8 353.7ZM426.8 353.7L425.8 353.7L435.9 341.4L436.9 341.4ZM436.4 340.9L446.5 350.1L446.5 351.1L436.4 341.9ZM446 350.6L447 350.6L457.2 361.3L456.2 361.3ZM456.7 360.8L466.8 367L466.8 368L456.7 361.8ZM466.8 367L476.9 376.2L476.9 377.2L466.8 368ZM476.9 376.2L487 380.8L487 381.8L476.9 377.2ZM487.5 381.3L486.5 381.3L496.6 370.5L497.6 370.5ZM567.9 288L578 284.2L578 285.2L567.9 289ZM578 284.2L588.1 275L588.1 276L578 285.2ZM588.1 275L598.2 278.1L598.2 279.1L588.1 276ZM597.7 278.6L598.7 278.6L608.8 303.7L607.8 303.7ZM607.8 303.7L608.8 303.7L618.9 349.7L617.9 349.7ZM617.9 349.7L618.9 349.7L629 394.1L628 394.1ZM497.1 355.4L507.2 352.3L507.2 353.3L497.1 356.4ZM507.2 352.3L517.3 346.9L517.3 347.9L507.2 353.3ZM517.3 346.9L527.4 343.1L527.4 344.1L517.3 347.9ZM527.9 343.6L526.9 343.6L537 331.3L538 331.3ZM537.5 330.8L547.6 329.3L547.6 330.3L537.5 331.8ZM547.6 329.3L557.7 332.4L557.7 333.4L547.6 330.3ZM557.2 332.9L558.2 332.9L568.4 368.1L567.4 368.1ZM496.6 363.4L497.6 363.4L507.7 383.3L506.7 383.3ZM507.7 383.3L506.7 383.3L516.8 364.9L517.8 364.9ZM517.8 364.9L516.8 364.9L526.9 343.6L527.9 343.6ZM526.9 343.6L527.9 343.6L538 355.7L537 355.7ZM538 355.7L537 355.7L547.1 329.8L548.1 329.8ZM699.8 293L698.8 293L708.9 257.9L709.9 257.9ZM709.4 257.4L719.5 254.3L719.5 255.3L709.4 258.4ZM719.5 254.3L729.6 254L729.6 255L719.5 255.3ZM729.6 254L739.7 260.4L739.7 261.4L729.6 255ZM739.2 260.9L740.2 260.9L750.3 283.9L749.3 283.9ZM659.3 365L658.3 365L668.4 352.8L669.4 352.8ZM669.4 352.8L668.4 352.8L678.5 342.1L679.5 342.1ZM679.5 342.1L678.5 342.1L688.7 326.7L689.7 326.7ZM689.7 326.7L688.7 326.7L698.8 293L699.8 293ZM617.9 360.3L618.9 360.3L629 394.1L628 394.1ZM629 394.1L628 394.1L638.1 383.3L639.1 383.3ZM638.6 382.8L648.7 375.2L648.7 376.2L638.6 383.8ZM648.2 375.7L649.2 375.7L659.3 397.1L658.3 397.1ZM659.3 397.1L658.3 397.1L668.4 352.8L669.4 352.8ZM669.4 352.8L668.4 352.8L678.5 326.6L679.5 326.6ZM688.7 348.1L689.7 348.1L699.8 370.3L698.8 370.3ZM699.8 370.3L698.8 370.3L708.9 358.8L709.9 358.8ZM709.4 358.3L719.5 349.1L719.5 350.1L709.4 359.3ZM720 349.6L719 349.6L729.1 335.8L730.1 335.8ZM749.3 283.9L750.3 283.9L760.4 333L759.4 333ZM800.9 293L799.9 293L810 278.6L811 278.6ZM749.3 283.9L750.3 283.9L760.4 317.5L759.4 317.5ZM759.9 317L770 317L770 318L759.9 318ZM770 317L780.1 310.9L780.1 311.9L770 318ZM780.6 311.4L779.6 311.4L789.7 296.1L790.7 296.1ZM790.2 295.6L800.4 292.5L800.4 293.5L790.2 296.6ZM789.7 345L790.7 345L800.9 394.1L799.9 394.1ZM800.4 393.6L810.5 387.4L810.5 388.4L800.4 394.6ZM426.8 557.7L425.8 557.7L435.9 546.8L436.9 546.8ZM436.4 546.3L446.5 537.8L446.5 538.8L436.4 547.3ZM446 538.3L447 538.3L457.2 549.9L456.2 549.9ZM456.7 549.4L466.8 553.3L466.8 554.3L456.7 550.4ZM466.8 553.3L476.9 557.2L476.9 558.2L466.8 554.3ZM598.2 557.2L608.3 555.9L608.3 556.9L598.2 558.2ZM608.8 556.4L607.8 556.4L617.9 517.6L618.9 517.6ZM617.9 517.6L618.9 517.6L629 547.3L628 547.3ZM628.5 546.8L638.6 554.6L638.6 555.6L628.5 547.8ZM639.1 555.1L638.1 555.1L648.2 517.6L649.2 517.6ZM648.2 517.6L649.2 517.6L659.3 542.2L658.3 542.2ZM658.3 542.2L659.3 542.2L669.4 557.7L668.4 557.7ZM668.9 557.2L679 558.5L679 559.5L668.9 558.2ZM396 558.5L406.1 551.5L406.1 552.5L396 559.5ZM406.6 552L405.6 552L415.7 539.5L416.7 539.5ZM415.7 539.5L416.7 539.5L426.8 550L425.8 550ZM426.3 549.5L436.4 557.5L436.4 558.5L426.3 550.5ZM174.1 283L173.1 283L183.2 269L184.2 269ZM184.2 269L183.2 269L193.3 258L194.3 258ZM193.8 257.5L203.9 250.5L203.9 251.5L193.8 258.5ZM203.9 250.5L214 251L214 252L203.9 251.5ZM214 251L224.1 251.5L224.1 252.5L214 252ZM224.1 251.5L234.3 254.5L234.3 255.5L224.1 252.5ZM234.3 254.5L244.4 244.5L244.4 245.5L234.3 255.5ZM244.9 245L243.9 245L254 230.6L255 230.6ZM255 230.6L254 230.6L264.1 216L265.1 216ZM264.1 216L265.1 216L275.2 230.8L274.2 230.8ZM274.2 230.8L275.2 230.8L285.3 248.1L284.3 248.1ZM284.3 248.1L285.3 248.1L295.4 277L294.4 277ZM294.4 277L295.4 277L305.5 292L304.5 292ZM305 291.5L315.1 300L315.1 301L305 292.5ZM315.1 300L325.2 306.5L325.2 307.5L315.1 301ZM325.2 306.5L335.3 304.4L335.3 305.4L325.2 307.5ZM335.8 304.9L334.8 304.9L345 291.7L346 291.7ZM346 291.7L345 291.7L355.1 280.6L356.1 280.6ZM355.6 280.1L365.7 274.1L365.7 275.1L355.6 281.1ZM365.2 274.6L366.2 274.6L376.3 287.1L375.3 287.1ZM375.8 286.6L385.9 295.2L385.9 296.2L375.8 287.6ZM385.9 295.2L396 302.6L396 303.6L385.9 296.2Z"/>
<path fill="#d2aa00" d="M557.2 332.7L558.2 332.7L568.4 368L567.4 368ZM567.4 368L568.4 368L578.5 394.1L577.5 394.1ZM578 393.6L588.1 392.8L588.1 393.8L578 394.6ZM588.1 392.8L598.2 400.5L598.2 401.5L588.1 393.8ZM598.2 400.5L608.3 392L608.3 393L598.2 401.5ZM608.3 392L618.4 385.1L618.4 386.1L608.3 393ZM618.4 385.1L628.5 385.9L628.5 386.9L618.4 386.1ZM699.8 329.8L698.8 329.8L708.9 316L709.9 316ZM708.9 316L709.9 316L720 329.8L719 329.8ZM720 329.8L719 329.8L729.1 299.1L730.1 299.1ZM729.6 298.6L739.7 299.4L739.7 300.4L729.6 299.6ZM739.7 299.4L749.8 300.9L749.8 301.9L739.7 300.4ZM628.5 385.9L638.6 385.9L638.6 386.9L628.5 386.9ZM638.6 385.9L648.7 377.5L648.7 378.5L638.6 386.9ZM648.7 377.5L658.8 382.1L658.8 383.1L648.7 378.5ZM659.3 382.6L658.3 382.6L668.4 351.1L669.4 351.1ZM749.3 301.4L750.3 301.4L760.4 314.5L759.4 314.5ZM759.4 314.5L760.4 314.5L770.5 326.7L769.5 326.7ZM769.5 326.7L770.5 326.7L780.6 346.7L779.6 346.7ZM779.6 346.7L780.6 346.7L790.7 365.1L789.7 365.1ZM790.2 364.6L800.4 369L800.4 370L790.2 365.6ZM800.4 369L810.5 379L810.5 380L800.4 370ZM476.9 558.5L487 557.2L487 558.2L476.9 559.5ZM487.5 557.7L486.5 557.7L496.6 516.8L497.6 516.8ZM497.1 516.3L507.2 509.8L507.2 510.8L497.1 517.3ZM507.2 509.8L517.3 518.4L517.3 519.4L507.2 510.8ZM517.3 518.4L527.4 524.8L527.4 525.8L517.3 519.4ZM527.9 525.3L526.9 525.3L537 514.2L538 514.2ZM537 514.2L538 514.2L548.1 532.3L547.1 532.3ZM548.1 532.3L547.1 532.3L557.2 512.4L558.2 512.4ZM557.7 511.9L567.9 517.6L567.9 518.6L557.7 512.9ZM567.4 518.1L568.4 518.1L578.5 539.6L577.5 539.6ZM577.5 539.6L578.5 539.6L588.6 557.7L587.6 557.7ZM588.1 557.2L598.2 558.5L598.2 559.5L588.1 558.2ZM658.8 557.2L668.9 554.6L668.9 555.6L658.8 558.2ZM669.4 555.1L668.4 555.1L678.5 507.2L679.5 507.2ZM679 506.7L689.2 502.8L689.2 503.8L679 507.7ZM688.7 503.3L689.7 503.3L699.8 539.6L698.8 539.6ZM699.8 539.6L698.8 539.6L708.9 512.4L709.9 512.4ZM709.4 511.9L719.5 510.6L719.5 511.6L709.4 512.9ZM719 511.1L720 511.1L730.1 539.6L729.1 539.6ZM729.6 539.1L739.7 535.2L739.7 536.2L729.6 540.1ZM740.2 535.7L739.2 535.7L749.3 399.8L750.3 399.8ZM749.3 399.8L750.3 399.8L760.4 557.7L759.4 557.7ZM284.8 559.3L294.9 558.5L294.9 559.5L284.8 560.3ZM294.9 558.5L305 557.2L305 558.2L294.9 559.5ZM305 557.2L315.1 558L315.1 559L305 558.2ZM315.1 558L325.2 559.3L325.2 560.3L315.1 559ZM426.8 559L425.8 559L435.9 547L436.9 547ZM436.4 546.5L446.5 542.5L446.5 543.5L436.4 547.5ZM174.1 291L173.1 291L183.2 277L184.2 277ZM183.7 276.5L193.8 266.5L193.8 267.5L183.7 277.5ZM193.8 266.5L203.9 263.5L203.9 264.5L193.8 267.5ZM203.9 263.5L214 262.5L214 263.5L203.9 264.5ZM214 262.5L224.1 264.5L224.1 265.5L214 263.5ZM224.1 264.5L234.3 271L234.3 272L224.1 265.5ZM234.8 271.5L233.8 271.5L243.9 253L244.9 253ZM244.9 253L243.9 253L254 234.7L255 234.7ZM255 234.7L254 234.7L264.1 218.5L265.1 218.5ZM264.1 218.5L265.1 218.5L275.2 230.9L274.2 230.9ZM274.2 230.9L275.2 230.9L285.3 247.1L284.3 247.1ZM284.3 247.1L285.3 247.1L295.4 269.3L294.4 269.3ZM294.4 269.3L295.4 269.3L305.5 282.4L304.5 282.4ZM305 281.9L315.1 286.5L315.1 287.5L305 282.9ZM315.1 286.5L325.2 286.3L325.2 287.3L315.1 287.5ZM325.2 286.3L335.3 283.8L335.3 284.8L325.2 287.3ZM335.8 284.3L334.8 284.3L345 272.1L346 272.1ZM346 272.1L345 272.1L355.1 261.5L356.1 261.5ZM355.6 261L365.7 257.6L365.7 258.6L355.6 262ZM365.2 258.1L366.2 258.1L376.3 271.8L375.3 271.8ZM375.3 271.8L376.3 271.8L386.4 288.9L385.4 288.9ZM385.9 288.4L396 294.2L396 295.2L385.9 289.4Z"/>
<path fill="#c89600" d="M416.2 330.2L426.3 332.5L426.3 333.5L416.2 331.2ZM426.3 332.5L436.4 336.3L436.4 337.3L426.3 333.5ZM436.4 336.3L446.5 340.1L446.5 341.1L436.4 337.3ZM446.5 340.1L456.7 337.8L456.7 338.8L446.5 341.1ZM456.7 337.8L466.8 344L466.8 345L456.7 338.8ZM466.3 344.5L467.3 344.5L477.4 358.3L476.4 358.3ZM476.4 358.3L477.4 358.3L487.5 384.3L486.5 384.3ZM487.5 384.3L486.5 384.3L496.6 367.5L497.6 367.5ZM497.1 359.9L507.2 355.4L507.2 356.4L497.1 360.9ZM507.2 355.4L517.3 349.2L517.3 350.2L507.2 356.4ZM517.3 349.2L527.4 344.6L527.4 345.6L517.3 350.2ZM527.4 344.6L537.5 340L537.5 341L527.4 345.6ZM538 340.5L537 340.5L547.1 329L548.1 329ZM547.6 328.5L557.7 330.1L557.7 331.1L547.6 329.5ZM557.7 330.1L567.9 337L567.9 338L557.7 331.1ZM567.9 337L578 344.6L578 345.6L567.9 338ZM577.5 345.1L578.5 345.1L588.6 360.4L587.6 360.4ZM587.6 360.4L588.6 360.4L598.7 381.8L597.7 381.8ZM598.7 381.8L597.7 381.8L607.8 367.2L608.8 367.2ZM608.3 366.7L618.4 372.1L618.4 373.1L608.3 367.7ZM618.4 372.1L628.5 373.6L628.5 374.6L618.4 373.1ZM720 293L719 293L729.1 268.6L730.1 268.6ZM730.1 268.6L729.1 268.6L739.2 248.7L740.2 248.7ZM739.7 248.2L749.8 243.6L749.8 244.6L739.7 249.2ZM689.7 342.1L688.7 342.1L698.8 329.8L699.8 329.8ZM699.3 329.3L709.4 320.1L709.4 321.1L699.3 330.3ZM709.9 320.6L708.9 320.6L719 293L720 293ZM628.5 373.6L638.6 376.7L638.6 377.7L628.5 374.6ZM639.1 377.2L638.1 377.2L648.2 351.1L649.2 351.1ZM649.2 351.1L648.2 351.1L658.3 326.6L659.3 326.6ZM749.3 244.1L750.3 244.1L760.4 255.6L759.4 255.6ZM759.9 255.1L770 258.1L770 259.1L759.9 256.1ZM769.5 258.6L770.5 258.6L780.6 276.3L779.6 276.3ZM780.1 275.8L790.2 284.9L790.2 285.9L780.1 276.8ZM789.7 285.4L790.7 285.4L800.9 300.7L799.9 300.7ZM799.9 300.7L800.9 300.7L811 314.5L810 314.5ZM447 557.7L446 557.7L456.2 543.5L457.2 543.5ZM456.7 543L466.8 544.3L466.8 545.3L456.7 544ZM466.8 544.3L476.9 553.3L476.9 554.3L466.8 545.3ZM476.9 553.3L487 557.2L487 558.2L476.9 554.3ZM557.7 558.5L567.9 549.4L567.9 550.4L557.7 559.5ZM568.4 549.9L567.4 549.9L577.5 531.8L578.5 531.8ZM578.5 531.8L577.5 531.8L587.6 443.8L588.6 443.8ZM588.6 443.8L587.6 443.8L597.7 399.8L598.7 399.8ZM597.7 399.8L598.7 399.8L608.8 529.2L607.8 529.2ZM608.3 528.7L618.4 530L618.4 531L608.3 529.7ZM617.9 530.5L618.9 530.5L629 548.6L628 548.6ZM628.5 548.1L638.6 554.6L638.6 555.6L628.5 549.1ZM638.6 554.6L648.7 557.2L648.7 558.2L638.6 555.6ZM365.7 559L375.8 557L375.8 558L365.7 560ZM375.8 557L385.9 551.5L385.9 552.5L375.8 558ZM385.9 551.5L396 547.5L396 548.5L385.9 552.5ZM396 547.5L406.1 544.5L406.1 545.5L396 548.5ZM405.6 545L406.6 545L416.7 556L415.7 556ZM416.2 555.5L426.3 558L426.3 559L416.2 556.5ZM174.1 289.7L173.1 289.7L183.2 268.7L184.2 268.7ZM184.2 268.7L183.2 268.7L193.3 258.4L194.3 258.4ZM193.8 257.9L203.9 254.3L203.9 255.3L193.8 258.9ZM203.9 254.3L214 259.3L214 260.3L203.9 255.3ZM214 259.3L224.1 261.4L224.1 262.4L214 260.3ZM224.1 261.4L234.3 258.2L234.3 259.2L224.1 262.4ZM234.3 258.2L244.4 248.8L244.4 249.8L234.3 259.2ZM244.9 249.3L243.9 249.3L254 230.6L255 230.6ZM255 230.6L254 230.6L264.1 209.6L265.1 209.6ZM264.1 209.6L265.1 209.6L275.2 223.6L274.2 223.6ZM274.2 223.6L275.2 223.6L285.3 238.7L284.3 238.7ZM284.3 238.7L285.3 238.7L295.4 262.4L294.4 262.4ZM294.4 262.4L295.4 262.4L305.5 273L304.5 273ZM305 272.5L315.1 277.3L315.1 278.3L305 273.5ZM315.1 277.3L325.2 279.4L325.2 280.4L315.1 278.3ZM325.2 279.4L335.3 283.3L335.3 284.3L325.2 280.4ZM335.8 283.8L334.8 283.8L345 273.3L346 273.3ZM345.5 272.8L355.6 269.8L355.6 270.8L345.5 273.8ZM355.6 269.8L365.7 265.6L365.7 266.6L355.6 270.8ZM365.2 266.1L366.2 266.1L376.3 283.3L375.3 283.3ZM375.3 283.3L376.3 283.3L386.4 297.6L385.4 297.6ZM385.4 297.6L386.4 297.6L396.5 310L395.5 310ZM395.5 310L396.5 310L406.6 320.6L405.6 320.6ZM406.1 320.1L416.2 330.2L416.2 331.2L406.1 321.1Z"/>
<path fill="#d28200" d="M446.5 304.2L456.7 299.6L456.7 300.6L446.5 305.2ZM457.2 300.1L456.2 300.1L466.3 278.7L467.3 278.7ZM467.3 278.7L466.3 278.7L476.4 261L477.4 261ZM476.9 260.5L487 268.2L487 269.2L476.9 261.5ZM487 268.2L497.1 262.8L497.1 263.8L487 269.2ZM497.1 255.8L507.2 260.4L507.2 261.4L497.1 256.8ZM506.7 260.9L507.7 260.9L517.8 271.7L516.8 271.7ZM516.8 271.7L517.8 271.7L527.9 282.4L526.9 282.4ZM526.9 282.4L527.9 282.4L538 301.4L537 301.4ZM568.4 285.4L567.4 285.4L577.5 263.2L578.5 263.2ZM578 262.7L588.1 264.3L588.1 265.3L578 263.7ZM588.1 264.3L598.2 262L598.2 263L588.1 265.3ZM598.2 262L608.3 255.8L608.3 256.8L598.2 263ZM608.3 255.8L618.4 258.1L618.4 259.1L608.3 256.8ZM618.4 258.1L628.5 264.3L628.5 265.3L618.4 259.1ZM537.5 300.9L547.6 298.6L547.6 299.6L537.5 301.9ZM547.1 299.1L548.1 299.1L558.2 311.4L557.2 311.4ZM558.2 311.4L557.2 311.4L567.4 285.4L568.4 285.4ZM628.5 264.3L638.6 267.8L638.6 268.8L628.5 265.3ZM638.6 267.8L648.7 269.6L648.7 270.6L638.6 268.8ZM648.2 270.1L649.2 270.1L659.3 293L658.3 293ZM658.3 293L659.3 293L669.4 313.7L668.4 313.7ZM669.4 313.7L668.4 313.7L678.5 289.9L679.5 289.9ZM678.5 289.9L679.5 289.9L689.7 319.1L688.7 319.1ZM688.7 319.1L689.7 319.1L699.8 329.8L698.8 329.8ZM699.8 329.8L698.8 329.8L708.9 316L709.9 316ZM668.4 340.4L669.4 340.4L679.5 361.9L678.5 361.9ZM678.5 361.9L679.5 361.9L689.7 377.2L688.7 377.2ZM688.7 377.2L689.7 377.2L699.8 391L698.8 391ZM698.8 391L699.8 391L709.9 421.7L708.9 421.7ZM708.9 421.7L709.9 421.7L720 455.3L719 455.3ZM770.5 368.1L769.5 368.1L779.6 312.9L780.6 312.9ZM779.6 312.9L780.6 312.9L790.7 340.5L789.7 340.5ZM789.7 340.5L790.7 340.5L800.9 358.9L799.9 358.9ZM800.4 358.4L810.5 355.4L810.5 356.4L800.4 359.4ZM719 455.3L720 455.3L730.1 472.9L729.1 472.9ZM729.6 472.4L739.7 475.5L739.7 476.5L729.6 473.4ZM739.7 475.5L749.8 479.3L749.8 480.3L739.7 476.5ZM749.3 479.8L750.3 479.8L760.4 490.5L759.4 490.5ZM759.9 490L770 495.4L770 496.4L759.9 491ZM770 495.4L780.1 487L780.1 488L770 496.4ZM780.1 487L790.2 483.9L790.2 484.9L780.1 488ZM790.2 483.9L800.4 487.7L800.4 488.7L790.2 484.9ZM799.9 488.2L800.9 488.2L811 499.7L810 499.7ZM375.8 558.5L385.9 549.5L385.9 550.5L375.8 559.5ZM385.9 549.5L396 541L396 542L385.9 550.5ZM396 541L406.1 539L406.1 540L396 542ZM405.6 539.5L406.6 539.5L416.7 552L415.7 552ZM416.2 551.5L426.3 555.5L426.3 556.5L416.2 552.5ZM426.3 555.5L436.4 558.5L436.4 559.5L426.3 556.5ZM174.1 294L173.1 294L183.2 280L184.2 280ZM184.2 280L183.2 280L193.3 269L194.3 269ZM193.8 268.5L203.9 264.5L203.9 265.5L193.8 269.5ZM203.9 264.5L214 266.5L214 267.5L203.9 265.5ZM214 266.5L224.1 267.5L224.1 268.5L214 267.5ZM224.1 267.5L234.3 257.5L234.3 258.5L224.1 268.5ZM234.8 258L233.8 258L243.9 247L244.9 247ZM244.9 247L243.9 247L254 200.5L255 200.5ZM254.5 200L264.6 194.5L264.6 195.5L254.5 201ZM264.6 194.5L274.7 188.8L274.7 189.8L264.6 195.5ZM274.7 188.8L284.8 188.8L284.8 189.8L274.7 189.8ZM284.3 189.3L285.3 189.3L295.4 222L294.4 222ZM294.4 222L295.4 222L305.5 250L304.5 250ZM305 249.5L315.1 254L315.1 255L305 250.5ZM315.1 254L325.2 257.4L325.2 258.4L315.1 255ZM325.2 257.4L335.3 264L335.3 265L325.2 258.4ZM335.3 264L345.5 255.7L345.5 256.7L335.3 265ZM345.5 255.7L355.6 248.2L355.6 249.2L345.5 256.7ZM355.6 248.2L365.7 244.7L365.7 245.7L355.6 249.2ZM365.2 245.2L366.2 245.2L376.3 260.3L375.3 260.3ZM375.3 260.3L376.3 260.3L386.4 272.8L385.4 272.8ZM385.4 272.8L386.4 272.8L396.5 286.7L395.5 286.7ZM395.5 286.7L396.5 286.7L406.6 298.7L405.6 298.7ZM406.1 298.2L416.2 307L416.2 308L406.1 299.2ZM416.2 307L426.3 307L426.3 308L416.2 308ZM426.3 307L436.4 306.1L436.4 307.1L426.3 308ZM436.4 306.1L446.5 304.2L446.5 305.2L436.4 307.1Z"/>
<path fill="#d27814" d="M406.1 293.5L416.2 294.3L416.2 295.3L406.1 294.5ZM416.2 294.3L426.3 293.5L426.3 294.5L416.2 295.3ZM426.3 293.5L436.4 296.6L436.4 297.6L426.3 294.5ZM436.4 296.6L446.5 293.5L446.5 294.5L436.4 297.6ZM446.5 293.5L456.7 298.1L456.7 299.1L446.5 294.5ZM456.7 298.1L466.8 292.7L466.8 293.7L456.7 299.1ZM466.8 292.7L476.9 288.1L476.9 289.1L466.8 293.7ZM476.9 288.1L487 296.6L487 297.6L476.9 289.1ZM487 296.6L497.1 304.2L497.1 305.2L487 297.6ZM497.6 304.7L496.6 304.7L506.7 294.5L507.7 294.5ZM507.2 294L517.3 287.6L517.3 288.6L507.2 295ZM517.3 287.6L527.4 287.6L527.4 288.6L517.3 288.6ZM526.9 288.1L527.9 288.1L538 299.9L537 299.9ZM537.5 299.4L547.6 295.6L547.6 296.6L537.5 300.4ZM547.6 295.6L557.7 289.4L557.7 290.4L547.6 296.6ZM558.2 289.9L557.2 289.9L567.4 274.6L568.4 274.6ZM568.4 274.6L567.4 274.6L577.5 260.8L578.5 260.8ZM497.1 353.7L507.2 359.1L507.2 360.1L497.1 354.7ZM506.7 359.6L507.7 359.6L517.8 370.3L516.8 370.3ZM517.3 369.8L527.4 366L527.4 367L517.3 370.8ZM527.4 366L537.5 372.1L537.5 373.1L527.4 367ZM537 372.6L538 372.6L548.1 384.9L547.1 384.9ZM547.6 384.4L557.7 394.3L557.7 395.3L547.6 385.4ZM558.2 394.8L557.2 394.8L567.4 371.8L568.4 371.8ZM567.9 371.3L578 364.4L578 365.4L567.9 372.3ZM578 364.4L588.1 366L588.1 367L578 365.4ZM588.1 366L598.2 363.7L598.2 364.7L588.1 367ZM598.7 364.2L597.7 364.2L607.8 343.5L608.8 343.5ZM618.4 333.9L628.5 330.8L628.5 331.8L618.4 334.9ZM628.5 330.8L638.6 330.8L638.6 331.8L628.5 331.8ZM639.1 331.3L638.1 331.3L648.2 320.6L649.2 320.6ZM649.2 320.6L648.2 320.6L658.3 309.9L659.3 309.9ZM658.8 309.4L668.9 303.2L668.9 304.2L658.8 310.4ZM669.4 303.7L668.4 303.7L678.5 291.5L679.5 291.5ZM679.5 291.5L678.5 291.5L688.7 279.2L689.7 279.2ZM708.9 345L709.9 345L720 374.9L719 374.9ZM719.5 374.4L729.6 371.3L729.6 372.3L719.5 375.4ZM730.1 371.8L729.1 371.8L739.2 351.1L740.2 351.1ZM740.2 351.1L739.2 351.1L749.3 332.7L750.3 332.7ZM699.8 369.5L698.8 369.5L708.9 354.2L709.9 354.2ZM708.9 354.2L709.9 354.2L720 374.9L719 374.9ZM730.1 371.8L729.1 371.8L739.2 335.8L740.2 335.8ZM376.3 560.3L375.3 560.3L385.4 549.9L386.4 549.9ZM386.4 549.9L385.4 549.9L395.5 524L396.5 524ZM396.5 524L395.5 524L405.6 507.2L406.6 507.2ZM405.6 507.2L406.6 507.2L416.7 518.9L415.7 518.9ZM415.7 518.9L416.7 518.9L426.8 542.2L425.8 542.2ZM425.8 542.2L426.8 542.2L436.9 557.7L435.9 557.7ZM436.4 557.2L446.5 559.8L446.5 560.8L436.4 558.2ZM719.5 557.2L729.6 549.4L729.6 550.4L719.5 558.2ZM729.6 549.4L739.7 544.3L739.7 545.3L729.6 550.4ZM739.7 544.3L749.8 546.8L749.8 547.8L739.7 545.3ZM749.8 546.8L759.9 553.3L759.9 554.3L749.8 547.8ZM759.9 553.3L770 550.7L770 551.7L759.9 554.3ZM770 550.7L780.1 555.9L780.1 556.9L770 551.7ZM780.1 555.9L790.2 553.3L790.2 554.3L780.1 556.9ZM790.2 553.3L800.4 549.4L800.4 550.4L790.2 554.3ZM800.4 549.4L810.5 544.3L810.5 545.3L800.4 550.4ZM174.1 285L173.1 285L183.2 270L184.2 270ZM184.2 270L183.2 270L193.3 259L194.3 259ZM193.8 258.5L203.9 253.5L203.9 254.5L193.8 259.5ZM203.9 253.5L214 247L214 248L203.9 254.5ZM214 247L224.1 247L224.1 248L214 248ZM224.1 247L234.3 249.5L234.3 250.5L224.1 248ZM234.3 249.5L244.4 242.5L244.4 243.5L234.3 250.5ZM244.9 243L243.9 243L254 223.6L255 223.6ZM255 223.6L254 223.6L264.1 209.3L265.1 209.3ZM264.1 209.3L265.1 209.3L275.2 221.2L274.2 221.2ZM274.2 221.2L275.2 221.2L285.3 234.3L284.3 234.3ZM284.3 234.3L285.3 234.3L295.4 255.3L294.4 255.3ZM294.4 255.3L295.4 255.3L305.5 266.9L304.5 266.9ZM305 266.4L315.1 271.9L315.1 272.9L305 267.4ZM315.1 271.9L325.2 274.4L325.2 275.4L315.1 272.9ZM325.2 274.4L335.3 276.8L335.3 277.8L325.2 275.4ZM335.8 277.3L334.8 277.3L345 264L346 264ZM346 264L345 264L355.1 253L356.1 253ZM355.6 252.5L365.7 246.8L365.7 247.8L355.6 253.5ZM365.7 246.8L375.8 255.5L375.8 256.5L365.7 247.8ZM375.3 256L376.3 256L386.4 268L385.4 268ZM385.9 267.5L396 272L396 273L385.9 268.5ZM395.5 272.5L396.5 272.5L406.6 294L405.6 294Z"/>
<path fill="#c86400" d="M375.3 255.7L376.3 255.7L386.4 267.2L385.4 267.2ZM385.9 266.7L396 272L396 273L385.9 267.7ZM396 272L406.1 273.6L406.1 274.6L396 273ZM405.6 274.1L406.6 274.1L416.7 294L415.7 294ZM416.2 293.5L426.3 294.3L426.3 295.3L416.2 294.5ZM426.3 294.3L436.4 288.9L436.4 289.9L426.3 295.3ZM436.9 289.4L435.9 289.4L446 266.4L447 266.4ZM447 266.4L446 266.4L456.2 248L457.2 248ZM457.2 248L456.2 248L466.3 236.5L467.3 236.5ZM466.8 236L476.9 237.1L476.9 238.1L466.8 237ZM476.9 237.1L487 235.5L487 236.5L476.9 238.1ZM486.5 236L487.5 236L497.6 247.2L496.6 247.2ZM496.6 247.2L497.6 247.2L507.7 259.4L506.7 259.4ZM507.2 258.9L517.3 257.7L517.3 258.7L507.2 259.9ZM517.3 257.7L527.4 257.7L527.4 258.7L517.3 258.7ZM527.4 257.7L537.5 267.3L537.5 268.3L527.4 258.7ZM537.5 267.3L547.6 268.1L547.6 269.1L537.5 268.3ZM547.6 268.1L557.7 268.1L557.7 269.1L547.6 269.1ZM557.7 268.1L567.9 270.4L567.9 271.4L557.7 269.1ZM567.9 270.4L578 280.4L578 281.4L567.9 271.4ZM578 280.4L588.1 284.9L588.1 285.9L578 281.4ZM588.1 284.9L598.2 284.9L598.2 285.9L588.1 285.9ZM597.7 285.4L598.7 285.4L608.8 308.3L607.8 308.3ZM607.8 308.3L608.8 308.3L618.9 334.4L617.9 334.4ZM617.9 334.4L618.9 334.4L629 346.7L628 346.7ZM659.3 365L658.3 365L668.4 345.1L669.4 345.1ZM668.4 345.1L669.4 345.1L679.5 358.9L678.5 358.9ZM679 358.4L689.2 364.5L689.2 365.5L679 359.4ZM617.9 334.4L618.9 334.4L629 366.5L628 366.5ZM628 366.5L629 366.5L639.1 384.9L638.1 384.9ZM638.1 384.9L639.1 384.9L649.2 416.3L648.2 416.3ZM649.2 416.3L648.2 416.3L658.3 401.7L659.3 401.7ZM659.3 401.7L658.3 401.7L668.4 388.7L669.4 388.7ZM668.9 388.2L679 385.9L679 386.9L668.9 389.2ZM678.5 386.4L679.5 386.4L689.7 404L688.7 404ZM689.2 403.5L699.3 405.1L699.3 406.1L689.2 404.5ZM699.3 405.1L709.4 412L709.4 413L699.3 406.1ZM709.4 412L719.5 407.4L719.5 408.4L709.4 413ZM719.5 407.4L729.6 405.1L729.6 406.1L719.5 408.4ZM729.6 405.1L739.7 396.6L739.7 397.6L729.6 406.1ZM739.7 396.6L749.8 389L749.8 390L739.7 397.6ZM750.3 389.5L749.3 389.5L759.4 357.3L760.4 357.3ZM759.4 357.3L760.4 357.3L770.5 369.5L769.5 369.5ZM770.5 369.5L769.5 369.5L779.6 349.6L780.6 349.6ZM780.6 349.6L779.6 349.6L789.7 329.7L790.7 329.7ZM375.8 559.8L385.9 552L385.9 553L375.8 560.8ZM386.4 552.5L385.4 552.5L395.5 460.1L396.5 460.1ZM395.5 460.1L396.5 460.1L406.6 522.8L405.6 522.8ZM406.1 522.3L416.2 522.3L416.2 523.3L406.1 523.3ZM416.7 522.8L415.7 522.8L425.8 494.3L426.8 494.3ZM425.8 494.3L426.8 494.3L436.9 556.4L435.9 556.4ZM436.4 555.9L446.5 559.8L446.5 560.8L436.4 556.9ZM780.1 554.6L790.2 552L790.2 553L780.1 555.6ZM790.7 552.5L789.7 552.5L799.9 531.8L800.9 531.8ZM800.9 531.8L799.9 531.8L810 485.2L811 485.2ZM174.1 296L173.1 296L183.2 283L184.2 283ZM184.2 283L183.2 283L193.3 272L194.3 272ZM193.8 271.5L203.9 266.5L203.9 267.5L193.8 272.5ZM203.9 266.5L214 264.5L214 265.5L203.9 267.5ZM214 264.5L224.1 272L224.1 273L214 265.5ZM224.6 272.5L223.6 272.5L233.8 262L234.8 262ZM234.8 262L233.8 262L243.9 250L244.9 250ZM244.9 250L243.9 250L254 202L255 202ZM254.5 201.5L264.6 194.5L264.6 195.5L254.5 202.5ZM264.6 194.5L274.7 198.5L274.7 199.5L264.6 195.5ZM274.2 199L275.2 199L285.3 240L284.3 240ZM284.3 240L285.3 240L295.4 258.5L294.4 258.5ZM294.9 258L305 261.5L305 262.5L294.9 259ZM305 261.5L315.1 255.5L315.1 256.5L305 262.5ZM315.1 255.5L325.2 261.5L325.2 262.5L315.1 256.5ZM325.2 261.5L335.3 261L335.3 262L325.2 262.5ZM335.3 261L345.5 256L345.5 257L335.3 262ZM346 256.5L345 256.5L355.1 239.5L356.1 239.5ZM355.6 239L365.7 248.5L365.7 249.5L355.6 240ZM365.7 248.5L375.8 254.5L375.8 255.5L365.7 249.5Z"/>
<path fill="#c85a14" d="M416.2 307.3L426.3 301.2L426.3 302.2L416.2 308.3ZM426.3 301.2L436.4 299.6L436.4 300.6L426.3 302.2ZM436.4 299.6L446.5 302.7L446.5 303.7L436.4 300.6ZM446.5 302.7L456.7 304.2L456.7 305.2L446.5 303.7ZM456.7 304.2L466.8 305L466.8 306L456.7 305.2ZM466.8 305L476.9 307.3L476.9 308.3L466.8 306ZM476.9 307.3L487 301.2L487 302.2L476.9 308.3ZM487 301.2L497.1 298.1L497.1 299.1L487 302.2ZM578 367.6L588.1 359.9L588.1 360.9L578 368.6ZM588.6 360.4L587.6 360.4L597.7 348.2L598.7 348.2ZM598.2 347.7L608.3 349.2L608.3 350.2L598.2 348.7ZM608.3 349.2L618.4 339.3L618.4 340.3L608.3 350.2ZM618.9 339.8L617.9 339.8L628 328.3L629 328.3ZM689.2 269.5L699.3 277.2L699.3 278.2L689.2 270.5ZM699.3 277.2L709.4 286.4L709.4 287.4L699.3 278.2ZM708.9 286.9L709.9 286.9L720 349.7L719 349.7ZM719 349.7L720 349.7L730.1 365L729.1 365ZM386.4 557.7L385.4 557.7L395.5 544.8L396.5 544.8ZM396 544.3L406.1 552L406.1 553L396 545.3ZM406.1 552L416.2 555.9L416.2 556.9L406.1 553ZM416.2 555.9L426.3 549.4L426.3 550.4L416.2 556.9ZM426.3 549.4L436.4 557.2L436.4 558.2L426.3 550.4ZM618.4 557.2L628.5 548.1L628.5 549.1L618.4 558.2ZM629 548.6L628 548.6L638.1 538.3L639.1 538.3ZM638.1 538.3L639.1 538.3L649.2 549.9L648.2 549.9ZM648.7 549.4L658.8 544.3L658.8 545.3L648.7 550.4ZM658.8 544.3L668.9 548.1L668.9 549.1L658.8 545.3ZM669.4 548.6L668.4 548.6L678.5 530.5L679.5 530.5ZM678.5 530.5L679.5 530.5L689.7 540.9L688.7 540.9ZM689.2 540.4L699.3 543L699.3 544L689.2 541.4ZM699.3 543L709.4 549.4L709.4 550.4L699.3 544ZM709.4 549.4L719.5 552L719.5 553L709.4 550.4ZM720 552.5L719 552.5L729.1 539.6L730.1 539.6ZM729.6 539.1L739.7 532.6L739.7 533.6L729.6 540.1ZM739.7 532.6L749.8 539.1L749.8 540.1L739.7 533.6ZM749.3 539.6L750.3 539.6L760.4 549.9L759.4 549.9ZM759.9 549.4L770 544.3L770 545.3L759.9 550.4ZM770 544.3L780.1 546.8L780.1 547.8L770 545.3ZM780.1 546.8L790.2 544.3L790.2 545.3L780.1 547.8ZM790.7 544.8L789.7 544.8L799.9 531.8L800.9 531.8ZM800.4 531.3L810.5 533.9L810.5 534.9L800.4 532.3ZM174.1 290.3L173.1 290.3L183.2 275.2L184.2 275.2ZM184.2 275.2L183.2 275.2L193.3 264.6L194.3 264.6ZM193.8 264.1L203.9 254.2L203.9 255.2L193.8 265.1ZM203.9 254.2L214 252.3L214 253.3L203.9 255.2ZM214 252.3L224.1 254.6L224.1 255.6L214 253.3ZM224.1 254.6L234.3 250.3L234.3 251.3L224.1 255.6ZM234.3 250.3L244.4 246.9L244.4 247.9L234.3 251.3ZM244.9 247.4L243.9 247.4L254 224.2L255 224.2ZM255 224.2L254 224.2L264.1 208L265.1 208ZM264.1 208L265.1 208L275.2 219.1L274.2 219.1ZM274.2 219.1L275.2 219.1L285.3 233.8L284.3 233.8ZM284.3 233.8L285.3 233.8L295.4 257.6L294.4 257.6ZM294.4 257.6L295.4 257.6L305.5 270.9L304.5 270.9ZM305 270.4L315.1 274.9L315.1 275.9L305 271.4ZM315.1 274.9L325.2 275.5L325.2 276.5L315.1 275.9ZM325.2 275.5L335.3 278.3L335.3 279.3L325.2 276.5ZM335.8 278.8L334.8 278.8L345 268.3L346 268.3ZM345.5 267.8L355.6 260.4L355.6 261.4L345.5 268.8ZM355.6 260.4L365.7 256.7L365.7 257.7L355.6 261.4ZM365.2 257.2L366.2 257.2L376.3 272.4L375.3 272.4ZM375.8 271.9L385.9 281.9L385.9 282.9L375.8 272.9ZM385.4 282.4L386.4 282.4L396.5 293.9L395.5 293.9ZM396 293.4L406.1 301.6L406.1 302.6L396 294.4ZM406.1 301.6L416.2 307.3L416.2 308.3L406.1 302.6Z"/>
<path fill="#be4628" d="M395.5 304.6L396.5 304.6L406.6 319.9L405.6 319.9ZM406.1 319.4L416.2 316.4L416.2 317.4L406.1 320.4ZM415.7 316.9L416.7 316.9L426.8 333L425.8 333ZM426.3 332.5L436.4 330.2L436.4 331.2L426.3 333.5ZM436.4 330.2L446.5 325.6L446.5 326.6L436.4 331.2ZM446.5 325.6L456.7 329.4L456.7 330.4L446.5 326.6ZM456.7 329.4L466.8 334L466.8 335L456.7 330.4ZM466.8 334L476.9 330.2L476.9 331.2L466.8 335ZM476.9 330.2L487 327.1L487 328.1L476.9 331.2ZM487 327.1L497.1 334.8L497.1 335.8L487 328.1ZM577.5 345L578.5 345L588.6 360.3L587.6 360.3ZM588.6 360.3L587.6 360.3L597.7 348.8L598.7 348.8ZM598.2 348.3L608.3 349.1L608.3 350.1L598.2 349.3ZM608.8 349.6L607.8 349.6L617.9 338.9L618.9 338.9ZM669.4 302.3L668.4 302.3L678.5 282.4L679.5 282.4ZM679.5 282.4L678.5 282.4L688.7 264.8L689.7 264.8ZM689.7 264.8L688.7 264.8L698.8 247.4L699.8 247.4ZM699.3 246.9L709.4 244.8L709.4 245.8L699.3 247.9ZM709.4 244.8L719.5 235.9L719.5 236.9L709.4 245.8ZM719.5 235.9L729.6 227.5L729.6 228.5L719.5 236.9ZM729.6 227.5L739.7 225.6L739.7 226.6L729.6 228.5ZM739.2 226.1L740.2 226.1L750.3 238.7L749.3 238.7ZM719 374.1L720 374.1L730.1 384.9L729.1 384.9ZM729.6 384.4L739.7 389L739.7 390L729.6 385.4ZM739.7 389L749.8 390.5L749.8 391.5L739.7 390ZM749.3 238.7L750.3 238.7L760.4 276.3L759.4 276.3ZM759.4 276.3L760.4 276.3L770.5 300.7L769.5 300.7ZM769.5 300.7L770.5 300.7L780.6 320.6L779.6 320.6ZM779.6 320.6L780.6 320.6L790.7 368.1L789.7 368.1ZM749.8 390.5L759.9 385.1L759.9 386.1L749.8 391.5ZM759.4 385.6L760.4 385.6L770.5 403.3L769.5 403.3ZM770 402.8L780.1 395.9L780.1 396.9L770 403.8ZM456.7 557.2L466.8 552L466.8 553L456.7 558.2ZM466.8 552L476.9 545.5L476.9 546.5L466.8 553ZM476.4 546L477.4 546L487.5 556.4L486.5 556.4ZM487 555.9L497.1 557.2L497.1 558.2L487 556.9ZM376.3 559L375.3 559L385.4 541L386.4 541ZM385.9 540.5L396 541.5L396 542.5L385.9 541.5ZM396 541.5L406.1 546.5L406.1 547.5L396 542.5ZM406.1 546.5L416.2 553.5L416.2 554.5L406.1 547.5ZM416.2 553.5L426.3 557.5L426.3 558.5L416.2 554.5ZM174.1 278L173.1 278L183.2 265L184.2 265ZM183.7 264.5L193.8 255.5L193.8 256.5L183.7 265.5ZM193.8 255.5L203.9 249.5L203.9 250.5L193.8 256.5ZM203.9 249.5L214 239.5L214 240.5L203.9 250.5ZM214 239.5L224.1 245.5L224.1 246.5L214 240.5ZM224.1 245.5L234.3 250.5L234.3 251.5L224.1 246.5ZM234.3 250.5L244.4 240.5L244.4 241.5L234.3 251.5ZM244.9 241L243.9 241L254 213L255 213ZM255 213L254 213L264.1 193.5L265.1 193.5ZM264.6 193L274.7 196L274.7 197L264.6 194ZM274.2 196.5L275.2 196.5L285.3 220L284.3 220ZM284.3 220L285.3 220L295.4 250L294.4 250ZM294.4 250L295.4 250L305.5 262.8L304.5 262.8ZM305 262.3L315.1 268L315.1 269L305 263.3ZM315.1 268L325.2 272.2L325.2 273.2L315.1 269ZM325.2 272.2L335.3 278L335.3 279L325.2 273.2ZM335.8 278.5L334.8 278.5L345 268L346 268ZM346 268L345 268L355.1 255L356.1 255ZM356.1 255L355.1 255L365.2 240.5L366.2 240.5ZM365.2 240.5L366.2 240.5L376.3 260L375.3 260ZM375.3 260L376.3 260L386.4 280.4L385.4 280.4ZM385.4 280.4L386.4 280.4L396.5 304.6L395.5 304.6Z"/>
<path fill="#b43232" d="M578.5 309.9L577.5 309.9L587.6 296.8L588.6 296.8ZM588.1 296.3L598.2 288.7L598.2 289.7L588.1 297.3ZM598.2 288.7L608.3 292.5L608.3 293.5L598.2 289.7ZM608.3 292.5L618.4 294.8L618.4 295.8L608.3 293.5ZM618.4 294.8L628.5 284.8L628.5 285.8L618.4 295.8ZM669.4 297.6L668.4 297.6L678.5 265.5L679.5 265.5ZM679 265L689.2 265L689.2 266L679 266ZM688.7 265.5L689.7 265.5L699.8 278.6L698.8 278.6ZM699.3 278.1L709.4 288L709.4 289L699.3 279.1ZM708.9 288.5L709.9 288.5L720 302.3L719 302.3ZM618.4 280.2L628.5 284.8L628.5 285.8L618.4 281.2ZM628 285.3L629 285.3L639.1 314.5L638.1 314.5ZM638.6 314L648.7 318.6L648.7 319.6L638.6 315ZM648.7 318.6L658.8 310.9L658.8 311.9L648.7 319.6ZM659.3 311.4L658.3 311.4L668.4 297.6L669.4 297.6ZM780.6 396.4L779.6 396.4L789.7 370.8L790.7 370.8ZM789.7 370.8L790.7 370.8L800.9 407.9L799.9 407.9ZM800.4 407.4L810.5 398.5L810.5 399.5L800.4 408.4ZM487 557.2L497.1 554.6L497.1 555.6L487 558.2ZM497.1 554.6L507.2 549.4L507.2 550.4L497.1 555.6ZM507.2 549.4L517.3 546.3L517.3 547.3L507.2 550.4ZM517.3 546.3L527.4 552L527.4 553L517.3 547.3ZM527.4 552L537.5 557.2L537.5 558.2L527.4 553ZM679 557.2L689.2 549.4L689.2 550.4L679 558.2ZM689.2 549.4L699.3 553.3L699.3 554.3L689.2 550.4ZM699.3 553.3L709.4 546.8L709.4 547.8L699.3 554.3ZM709.4 546.8L719.5 541.7L719.5 542.7L709.4 547.8ZM719.5 541.7L729.6 533.9L729.6 534.9L719.5 542.7ZM729.6 533.9L739.7 528.7L739.7 529.7L729.6 534.9ZM739.7 528.7L749.8 536.5L749.8 537.5L739.7 529.7ZM749.8 536.5L759.9 545.5L759.9 546.5L749.8 537.5ZM759.9 545.5L770 549.4L770 550.4L759.9 546.5ZM770 549.4L780.1 553.3L780.1 554.3L770 550.4ZM780.1 553.3L790.2 555.9L790.2 556.9L780.1 554.3ZM365.7 559L375.8 555.5L375.8 556.5L365.7 560ZM375.8 555.5L385.9 546.5L385.9 547.5L375.8 556.5ZM385.9 546.5L396 543.5L396 544.5L385.9 547.5ZM396 543.5L406.1 553.5L406.1 554.5L396 544.5ZM406.1 553.5L416.2 557.5L416.2 558.5L406.1 554.5ZM174.1 282.9L173.1 282.9L183.2 267.3L184.2 267.3ZM183.7 266.8L193.8 257L193.8 258L183.7 267.8ZM193.8 257L203.9 253L203.9 254L193.8 258ZM203.9 253L214 252.3L214 253.3L203.9 254ZM214 252.3L224.1 253.6L224.1 254.6L214 253.3ZM224.1 253.6L234.3 249.9L234.3 250.9L224.1 254.6ZM234.3 249.9L244.4 246.7L244.4 247.7L234.3 250.9ZM244.9 247.2L243.9 247.2L254 230.8L255 230.8ZM255 230.8L254 230.8L264.1 216.5L265.1 216.5ZM264.1 216.5L265.1 216.5L275.2 230.9L274.2 230.9ZM274.7 230.4L284.8 239.2L284.8 240.2L274.7 231.4ZM284.3 239.7L285.3 239.7L295.4 261.3L294.4 261.3ZM294.4 261.3L295.4 261.3L305.5 272.9L304.5 272.9ZM305 272.4L315.1 277L315.1 278L305 273.4ZM315.1 277L325.2 279.9L325.2 280.9L315.1 278ZM325.2 279.9L335.3 281L335.3 282L325.2 280.9ZM335.8 281.5L334.8 281.5L345 268.5L346 268.5ZM345.5 268L355.6 258.9L355.6 259.9L345.5 269ZM355.6 258.9L365.7 257.3L365.7 258.3L355.6 259.9ZM365.2 257.8L366.2 257.8L376.3 278L375.3 278ZM375.3 278L376.3 278L386.4 289L385.4 289ZM385.4 289L386.4 289L396.5 301.7L395.5 301.7Z"/>
<path fill="#961e1e" d="M436.4 296.6L446.5 289.7L446.5 290.7L436.4 297.6ZM446.5 289.7L456.7 285.8L456.7 286.8L446.5 290.7ZM457.2 286.3L456.2 286.3L466.3 262.6L467.3 262.6ZM466.8 262.1L476.9 261.3L476.9 262.3L466.8 263.1ZM476.9 261.3L487 251.8L487 252.8L476.9 262.3ZM486.5 252.3L487.5 252.3L497.6 285.6L496.6 285.6ZM547.6 288L557.7 278.1L557.7 279.1L547.6 289ZM557.7 278.1L567.9 269.6L567.9 270.6L557.7 279.1ZM567.9 269.6L578 275L578 276L567.9 270.6ZM578 275L588.1 273.5L588.1 274.5L578 276ZM588.1 273.5L598.2 275L598.2 276L588.1 274.5ZM598.7 275.5L597.7 275.5L607.8 262.5L608.8 262.5ZM607.8 262.5L608.8 262.5L618.9 277.8L617.9 277.8ZM618.4 277.3L628.5 284.8L628.5 285.8L618.4 278.3ZM496.6 285.6L497.6 285.6L507.7 297.3L506.7 297.3ZM507.2 296.8L517.3 304.5L517.3 305.5L507.2 297.8ZM517.3 304.5L527.4 297.1L527.4 298.1L517.3 305.5ZM527.4 297.1L537.5 292.5L537.5 293.5L527.4 298.1ZM537.5 292.5L547.6 288L547.6 289L537.5 293.5ZM618.4 293.3L628.5 284.8L628.5 285.8L618.4 294.3ZM628 285.3L629 285.3L639.1 320.6L638.1 320.6ZM638.1 320.6L639.1 320.6L649.2 346.7L648.2 346.7ZM648.2 346.7L649.2 346.7L659.3 361.9L658.3 361.9ZM730.1 365L729.1 365L739.2 342.1L740.2 342.1ZM740.2 342.1L739.2 342.1L749.3 314.5L750.3 314.5ZM658.8 361.4L668.9 366L668.9 367L658.8 362.4ZM668.9 366L679 367.5L679 368.5L668.9 367ZM679 367.5L689.2 372.1L689.2 373.1L679 368.5ZM689.2 372.1L699.3 377.5L699.3 378.5L689.2 373.1ZM699.3 377.5L709.4 368.3L709.4 369.3L699.3 378.5ZM708.9 368.8L709.9 368.8L720 397.1L719 397.1ZM719 397.1L720 397.1L730.1 429.3L729.1 429.3ZM730.1 429.3L729.1 429.3L739.2 342.1L740.2 342.1ZM749.8 314L759.9 311.7L759.9 312.7L749.8 315ZM759.4 312.2L760.4 312.2L770.5 331.3L769.5 331.3ZM769.5 331.3L770.5 331.3L780.6 342.1L779.6 342.1ZM780.1 341.6L790.2 335.4L790.2 336.4L780.1 342.6ZM790.7 335.9L789.7 335.9L799.9 312.9L800.9 312.9ZM800.4 312.4L810.5 307.8L810.5 308.8L800.4 313.4ZM396.5 555.1L395.5 555.1L405.6 544.8L406.6 544.8ZM406.6 544.8L405.6 544.8L415.7 524L416.7 524ZM415.7 524L416.7 524L426.8 549.9L425.8 549.9ZM426.3 549.4L436.4 557.2L436.4 558.2L426.3 550.4ZM174.1 280L173.1 280L183.2 266L184.2 266ZM184.2 266L183.2 266L193.3 255L194.3 255ZM193.8 254.5L203.9 251.5L203.9 252.5L193.8 255.5ZM203.9 251.5L214 252.5L214 253.5L203.9 252.5ZM214 252.5L224.1 253.5L224.1 254.5L214 253.5ZM224.1 253.5L234.3 252.5L234.3 253.5L224.1 254.5ZM234.3 252.5L244.4 243.5L244.4 244.5L234.3 253.5ZM244.9 244L243.9 244L254 211L255 211ZM254.5 210.5L264.6 208.5L264.6 209.5L254.5 211.5ZM264.6 208.5L274.7 210.5L274.7 211.5L264.6 209.5ZM274.2 211L275.2 211L285.3 228L284.3 228ZM284.3 228L285.3 228L295.4 280L294.4 280ZM294.4 280L295.4 280L305.5 304L304.5 304ZM305 303.5L315.1 296L315.1 297L305 304.5ZM315.1 296L325.2 294.5L325.2 295.5L315.1 297ZM325.2 294.5L335.3 294.7L335.3 295.7L325.2 295.5ZM335.8 295.2L334.8 295.2L345 282.2L346 282.2ZM346 282.2L345 282.2L355.1 270.9L356.1 270.9ZM356.1 270.9L355.1 270.9L365.2 258L366.2 258ZM365.2 258L366.2 258L376.3 271.3L375.3 271.3ZM375.3 271.3L376.3 271.3L386.4 282.1L385.4 282.1ZM385.4 282.1L386.4 282.1L396.5 294.6L395.5 294.6ZM396 294.1L406.1 302.5L406.1 303.5L396 295.1ZM406.1 302.5L416.2 305.3L416.2 306.3L406.1 303.5ZM416.2 305.3L426.3 299.2L426.3 300.2L416.2 306.3ZM426.3 299.2L436.4 296.6L436.4 297.6L426.3 300.2Z"/>
<path fill="#0000ff" d="M173.6 558.5L183.7 557L183.7 558L173.6 559.5ZM183.7 557L193.8 556.3L193.8 557.3L183.7 558ZM193.8 556.3L203.9 558.3L203.9 559.3L193.8 557.3ZM203.9 558.3L214 558.5L214 559.5L203.9 559.3ZM214 558.5L224.1 558.5L224.1 559.5L214 559.5ZM224.1 558.5L234.3 558.5L234.3 559.5L224.1 559.5ZM234.3 558.5L244.4 558.5L244.4 559.5L234.3 559.5ZM244.4 558.5L254.5 558.5L254.5 559.5L244.4 559.5ZM254.5 558.5L264.6 558.5L264.6 559.5L254.5 559.5ZM264.6 558.5L274.7 558.5L274.7 559.5L264.6 559.5ZM274.7 558.5L284.8 558.5L284.8 559.5L274.7 559.5ZM284.8 558.5L294.9 558.5L294.9 559.5L284.8 559.5ZM294.9 558.5L305 558.5L305 559.5L294.9 559.5ZM305 558.5L315.1 558.5L315.1 559.5L305 559.5ZM315.1 558.5L325.2 558.5L325.2 559.5L315.1 559.5ZM325.2 558.5L335.3 558.5L335.3 559.5L325.2 559.5ZM335.3 558.5L345.5 558.5L345.5 559.5L335.3 559.5ZM345.5 558.5L355.6 558.5L355.6 559.5L345.5 559.5ZM355.6 558.5L365.7 558.5L365.7 559.5L355.6 559.5ZM365.7 558.5L375.8 558.5L375.8 559.5L365.7 559.5ZM375.8 558.5L385.9 558.5L385.9 559.5L375.8 559.5ZM385.9 558.5L396 556.5L396 557.5L385.9 559.5ZM395.5 558L394.5 558L404.6 546L405.6 546ZM405.6 546L404.6 546L414.7 531.8L415.7 531.8ZM416.2 530.3L426.3 529.8L426.3 530.8L416.2 531.3ZM424.8 531.3L425.8 531.3L435.9 557.7L434.9 557.7ZM436.4 556.2L446.5 556.2L446.5 557.2L436.4 557.2ZM446.5 556.2L456.7 553.5L456.7 554.5L446.5 557.2ZM456.2 555L455.2 555L465.3 539.6L466.3 539.6ZM466.3 539.6L465.3 539.6L475.4 528.7L476.4 528.7ZM475.4 528.7L476.4 528.7L486.5 555L485.5 555ZM486.5 555L485.5 555L495.6 543.5L496.6 543.5ZM495.6 543.5L496.6 543.5L506.7 556.5L505.7 556.5ZM507.2 555L517.3 556.5L517.3 557.5L507.2 556ZM517.3 556.5L527.4 556.5L527.4 557.5L517.3 557.5ZM527.4 556.5L537.5 556.5L537.5 557.5L527.4 557.5ZM537.5 556.5L547.6 556.5L547.6 557.5L537.5 557.5ZM547.6 556.5L557.7 556.5L557.7 557.5L547.6 557.5ZM557.7 556.5L567.9 556.5L567.9 557.5L557.7 557.5ZM567.9 556.5L578 556.5L578 557.5L567.9 557.5ZM578 556.5L588.1 556.5L588.1 557.5L578 557.5ZM588.1 556.5L598.2 556.5L598.2 557.5L588.1 557.5ZM598.2 556.5L608.3 556.5L608.3 557.5L598.2 557.5ZM608.3 556.5L618.4 556.5L618.4 557.5L608.3 557.5ZM618.4 556.5L628.5 556.5L628.5 557.5L618.4 557.5ZM628.5 556.5L638.6 556.5L638.6 557.5L628.5 557.5ZM638.6 556.5L648.7 556.5L648.7 557.5L638.6 557.5ZM648.7 556.5L658.8 556.5L658.8 557.5L648.7 557.5ZM658.8 556.5L668.9 556.5L668.9 557.5L658.8 557.5ZM668.9 556.5L679 552.5L679 553.5L668.9 557.5ZM679 552.5L689.2 551L689.2 552L679 553.5ZM688.7 552.5L687.7 552.5L697.8 542.2L698.8 542.2ZM697.8 542.2L698.8 542.2L708.9 553.8L707.9 553.8ZM708.9 553.8L707.9 553.8L718 537L719 537ZM719 537L718 537L728.1 439.9L729.1 439.9ZM728.1 439.9L729.1 439.9L739.2 503.3L738.2 503.3ZM738.2 503.3L739.2 503.3L749.3 555.1L748.3 555.1ZM749.3 555.1L748.3 555.1L758.4 493L759.4 493ZM759.4 493L758.4 493L768.5 451.6L769.5 451.6ZM768.5 451.6L769.5 451.6L779.6 529.2L778.6 529.2ZM779.6 529.2L778.6 529.2L788.7 505.9L789.7 505.9ZM788.7 505.9L789.7 505.9L799.9 526.6L798.9 526.6ZM799.9 526.6L798.9 526.6L809 512.4L810 512.4ZM173.1 288L172.1 288L182.2 271.5L183.2 271.5ZM183.7 270L193.8 260.5L193.8 261.5L183.7 271ZM193.8 260.5L203.9 257.7L203.9 258.7L193.8 261.5ZM203.9 257.7L214 256.7L214 257.7L203.9 258.7ZM214 256.7L224.1 259.7L224.1 260.7L214 257.7ZM224.1 259.7L234.3 253.5L234.3 254.5L224.1 260.7ZM234.3 253.5L244.4 247.5L244.4 248.5L234.3 254.5ZM243.9 249L242.9 249L253 232L254 232ZM254 232L253 232L263.1 215L264.1 215ZM263.1 215L264.1 215L274.2 232L273.2 232ZM273.2 232L274.2 232L284.3 256L283.3 256ZM283.3 256L284.3 256L294.4 275L293.4 275ZM294.9 273.5L305 277.5L305 278.5L294.9 274.5ZM305 277.5L315.1 278.5L315.1 279.5L305 278.5ZM315.1 278.5L325.2 278L325.2 279L315.1 279.5ZM325.2 278L335.3 281.5L335.3 282.5L325.2 279ZM335.3 281.5L345.5 273.5L345.5 274.5L335.3 282.5ZM345.5 273.5L355.6 264.5L355.6 265.5L345.5 274.5ZM355.6 264.5L365.7 256L365.7 257L355.6 265.5ZM364.2 257.5L365.2 257.5L375.3 269L374.3 269ZM374.3 269L375.3 269L385.4 280.8L384.4 280.8ZM385.9 279.3L396 288.4L396 289.4L385.9 280.3ZM396 288.4L406.1 291L406.1 292L396 289.4ZM404.6 292.5L405.6 292.5L415.7 319.6L414.7 319.6ZM414.7 319.6L415.7 319.6L425.8 331.3L424.8 331.3ZM426.3 329.8L436.4 325.1L436.4 326.1L426.3 330.8ZM436.4 325.1L446.5 332.4L446.5 333.4L436.4 326.1ZM446.5 332.4L456.7 336.3L456.7 337.3L446.5 333.4ZM456.7 336.3L466.8 341L466.8 342L456.7 337.3ZM465.3 342.5L466.3 342.5L476.4 368L475.4 368ZM476.9 366.5L487 366.5L487 367.5L476.9 367.5ZM485.5 368L486.5 368L496.6 380.5L495.6 380.5ZM495.6 380.5L496.6 380.5L506.7 396L505.7 396ZM506.7 396L505.7 396L515.8 384.3L516.8 384.3ZM517.3 382.8L527.4 373.8L527.4 374.8L517.3 383.8ZM525.9 375.3L526.9 375.3L537 392.1L536 392.1ZM537 392.1L536 392.1L546.1 368.8L547.1 368.8ZM547.1 368.8L546.1 368.8L556.2 353.3L557.2 353.3ZM557.2 353.3L556.2 353.3L566.4 340.4L567.4 340.4ZM567.4 340.4L566.4 340.4L576.5 324.8L577.5 324.8ZM578 323.3L588.1 320.7L588.1 321.7L578 324.3ZM588.1 320.7L598.2 316.5L598.2 317.5L588.1 321.7ZM598.2 316.5L608.3 306.5L608.3 307.5L598.2 317.5ZM606.8 308L607.8 308L617.9 326.1L616.9 326.1ZM616.9 326.1L617.9 326.1L628 340.3L627 340.3ZM628 340.3L627 340.3L637.1 324.8L638.1 324.8ZM638.1 324.8L637.1 324.8L647.2 311.9L648.2 311.9ZM648.2 311.9L647.2 311.9L657.3 296.3L658.3 296.3ZM658.8 294.8L668.9 302.6L668.9 303.6L658.8 295.8ZM668.9 302.6L679 298.7L679 299.7L668.9 303.6ZM677.5 300.2L678.5 300.2L688.7 315.2L687.7 315.2ZM689.2 313.7L699.3 318.9L699.3 319.9L689.2 314.7ZM699.3 318.9L709.4 309.1L709.4 310.1L699.3 319.9ZM709.4 309.1L719.5 314.3L719.5 315.3L709.4 310.1ZM719.5 314.3L729.6 317.6L729.6 318.6L719.5 315.3ZM728.1 319.1L729.1 319.1L739.2 375.3L738.2 375.3ZM739.7 373.8L749.8 364.7L749.8 365.7L739.7 374.8ZM749.3 366.2L748.3 366.2L758.4 310.6L759.4 310.6ZM759.4 310.6L758.4 310.6L768.5 283.4L769.5 283.4ZM770 281.9L780.1 276L780.1 277L770 282.9ZM780.1 276L790.2 284.5L790.2 285.5L780.1 277ZM790.2 284.5L800.4 279.8L800.4 280.8L790.2 285.5ZM800.4 279.8L810.5 273.6L810.5 274.6L800.4 280.8Z"/>
<path fill="#0000ff" d="M173.6 559.5L183.7 558L183.7 559L173.6 560.5ZM183.7 558L193.8 557.3L193.8 558.3L183.7 559ZM193.8 557.3L203.9 559.3L203.9 560.3L193.8 558.3ZM203.9 559.3L214 559.5L214 560.5L203.9 560.3ZM214 559.5L224.1 559.5L224.1 560.5L214 560.5ZM224.1 559.5L234.3 559.5L234.3 560.5L224.1 560.5ZM234.3 559.5L244.4 559.5L244.4 560.5L234.3 560.5ZM244.4 559.5L254.5 559.5L254.5 560.5L244.4 560.5ZM254.5 559.5L264.6 559.5L264.6 560.5L254.5 560.5ZM264.6 559.5L274.7 559.5L274.7 560.5L264.6 560.5ZM274.7 559.5L284.8 559.5L284.8 560.5L274.7 560.5ZM284.8 559.5L294.9 559.5L294.9 560.5L284.8 560.5ZM294.9 559.5L305 559.5L305 560.5L294.9 560.5ZM305 559.5L315.1 559.5L315.1 560.5L305 560.5ZM315.1 559.5L325.2 559.5L325.2 560.5L315.1 560.5ZM325.2 559.5L335.3 559.5L335.3 560.5L325.2 560.5ZM335.3 559.5L345.5 559.5L345.5 560.5L335.3 560.5ZM345.5 559.5L355.6 559.5L355.6 560.5L345.5 560.5ZM355.6 559.5L365.7 559.5L365.7 560.5L355.6 560.5ZM365.7 559.5L375.8 559.5L375.8 560.5L365.7 560.5ZM375.8 559.5L385.9 559.5L385.9 560.5L375.8 560.5ZM385.9 559.5L396 557.5L396 558.5L385.9 560.5ZM396.5 558L395.5 558L405.6 546L406.6 546ZM406.6 546L405.6 546L415.7 531.8L416.7 531.8ZM416.2 531.3L426.3 530.8L426.3 531.8L416.2 532.3ZM425.8 531.3L426.8 531.3L436.9 557.7L435.9 557.7ZM436.4 557.2L446.5 557.2L446.5 558.2L436.4 558.2ZM446.5 557.2L456.7 554.5L456.7 555.5L446.5 558.2ZM457.2 555L456.2 555L466.3 539.6L467.3 539.6ZM467.3 539.6L466.3 539.6L476.4 528.7L477.4 528.7ZM476.4 528.7L477.4 528.7L487.5 555L486.5 555ZM487.5 555L486.5 555L496.6 543.5L497.6 543.5ZM496.6 543.5L497.6 543.5L507.7 556.5L506.7 556.5ZM507.2 556L517.3 557.5L517.3 558.5L507.2 557ZM517.3 557.5L527.4 557.5L527.4 558.5L517.3 558.5ZM527.4 557.5L537.5 557.5L537.5 558.5L527.4 558.5ZM537.5 557.5L547.6 557.5L547.6 558.5L537.5 558.5ZM547.6 557.5L557.7 557.5L557.7 558.5L547.6 558.5ZM557.7 557.5L567.9 557.5L567.9 558.5L557.7 558.5ZM567.9 557.5L578 557.5L578 558.5L567.9 558.5ZM578 557.5L588.1 557.5L588.1 558.5L578 558.5ZM588.1 557.5L598.2 557.5L598.2 558.5L588.1 558.5ZM598.2 557.5L608.3 557.5L608.3 558.5L598.2 558.5ZM608.3 557.5L618.4 557.5L618.4 558.5L608.3 558.5ZM618.4 557.5L628.5 557.5L628.5 558.5L618.4 558.5ZM628.5 557.5L638.6 557.5L638.6 558.5L628.5 558.5ZM638.6 557.5L648.7 557.5L648.7 558.5L638.6 558.5ZM648.7 557.5L658.8 557.5L658.8 558.5L648.7 558.5ZM658.8 557.5L668.9 557.5L668.9 558.5L658.8 558.5ZM668.9 557.5L679 553.5L679 554.5L668.9 558.5ZM679 553.5L689.2 552L689.2 553L679 554.5ZM689.7 552.5L688.7 552.5L698.8 542.2L699.8 542.2ZM698.8 542.2L699.8 542.2L709.9 553.8L708.9 553.8ZM709.9 553.8L708.9 553.8L719 537L720 537ZM720 537L719 537L729.1 439.9L730.1 439.9ZM729.1 439.9L730.1 439.9L740.2 503.3L739.2 503.3ZM739.2 503.3L740.2 503.3L750.3 555.1L749.3 555.1ZM750.3 555.1L749.3 555.1L759.4 493L760.4 493ZM760.4 493L759.4 493L769.5 451.6L770.5 451.6ZM769.5 451.6L770.5 451.6L780.6 529.2L779.6 529.2ZM780.6 529.2L779.6 529.2L789.7 505.9L790.7 505.9ZM789.7 505.9L790.7 505.9L800.9 526.6L799.9 526.6ZM800.9 526.6L799.9 526.6L810 512.4L811 512.4ZM174.1 288L173.1 288L183.2 271.5L184.2 271.5ZM183.7 271L193.8 261.5L193.8 262.5L183.7 272ZM193.8 261.5L203.9 258.7L203.9 259.7L193.8 262.5ZM203.9 258.7L214 257.7L214 258.7L203.9 259.7ZM214 257.7L224.1 260.7L224.1 261.7L214 258.7ZM224.1 260.7L234.3 254.5L234.3 255.5L224.1 261.7ZM234.3 254.5L244.4 248.5L244.4 249.5L234.3 255.5ZM244.9 249L243.9 249L254 232L255 232ZM255 232L254 232L264.1 215L265.1 215ZM264.1 215L265.1 215L275.2 232L274.2 232ZM274.2 232L275.2 232L285.3 256L284.3 256ZM284.3 256L285.3 256L295.4 275L294.4 275ZM294.9 274.5L305 278.5L305 279.5L294.9 275.5ZM305 278.5L315.1 279.5L315.1 280.5L305 279.5ZM315.1 279.5L325.2 279L325.2 280L315.1 280.5ZM325.2 279L335.3 282.5L335.3 283.5L325.2 280ZM335.3 282.5L345.5 274.5L345.5 275.5L335.3 283.5ZM345.5 274.5L355.6 265.5L355.6 266.5L345.5 275.5ZM355.6 265.5L365.7 257L365.7 258L355.6 266.5ZM365.2 257.5L366.2 257.5L376.3 269L375.3 269ZM375.3 269L376.3 269L386.4 280.8L385.4 280.8ZM385.9 280.3L396 289.4L396 290.4L385.9 281.3ZM396 289.4L406.1 292L406.1 293L396 290.4ZM405.6 292.5L406.6 292.5L416.7 319.6L415.7 319.6ZM415.7 319.6L416.7 319.6L426.8 331.3L425.8 331.3ZM426.3 330.8L436.4 326.1L436.4 327.1L426.3 331.8ZM436.4 326.1L446.5 333.4L446.5 334.4L436.4 327.1ZM446.5 333.4L456.7 337.3L456.7 338.3L446.5 334.4ZM456.7 337.3L466.8 342L466.8 343L456.7 338.3ZM466.3 342.5L467.3 342.5L477.4 368L476.4 368ZM476.9 367.5L487 367.5L487 368.5L476.9 368.5ZM486.5 368L487.5 368L497.6 380.5L496.6 380.5ZM496.6 380.5L497.6 380.5L507.7 396L506.7 396ZM507.7 396L506.7 396L516.8 384.3L517.8 384.3ZM517.3 383.8L527.4 374.8L527.4 375.8L517.3 384.8ZM526.9 375.3L527.9 375.3L538 392.1L537 392.1ZM538 392.1L537 392.1L547.1 368.8L548.1 368.8ZM548.1 368.8L547.1 368.8L557.2 353.3L558.2 353.3ZM558.2 353.3L557.2 353.3L567.4 340.4L568.4 340.4ZM568.4 340.4L567.4 340.4L577.5 324.8L578.5 324.8ZM578 324.3L588.1 321.7L588.1 322.7L578 325.3ZM588.1 321.7L598.2 317.5L598.2 318.5L588.1 322.7ZM598.2 317.5L608.3 307.5L608.3 308.5L598.2 318.5ZM607.8 308L608.8 308L618.9 326.1L617.9 326.1ZM617.9 326.1L618.9 326.1L629 340.3L628 340.3ZM629 340.3L628 340.3L638.1 324.8L639.1 324.8ZM639.1 324.8L638.1 324.8L648.2 311.9L649.2 311.9ZM649.2 311.9L648.2 311.9L658.3 296.3L659.3 296.3ZM658.8 295.8L668.9 303.6L668.9 304.6L658.8 296.8ZM668.9 303.6L679 299.7L679 300.7L668.9 304.6ZM678.5 300.2L679.5 300.2L689.7 315.2L688.7 315.2ZM689.2 314.7L699.3 319.9L699.3 320.9L689.2 315.7ZM699.3 319.9L709.4 310.1L709.4 311.1L699.3 320.9ZM709.4 310.1L719.5 315.3L719.5 316.3L709.4 311.1ZM719.5 315.3L729.6 318.6L729.6 319.6L719.5 316.3ZM729.1 319.1L730.1 319.1L740.2 375.3L739.2 375.3ZM739.7 374.8L749.8 365.7L749.8 366.7L739.7 375.8ZM750.3 366.2L749.3 366.2L759.4 310.6L760.4 310.6ZM760.4 310.6L759.4 310.6L769.5 283.4L770.5 283.4ZM770 282.9L780.1 277L780.1 278L770 283.9ZM780.1 277L790.2 285.5L790.2 286.5L780.1 278ZM790.2 285.5L800.4 280.8L800.4 281.8L790.2 286.5ZM800.4 280.8L810.5 274.6L810.5 275.6L800.4 281.8Z"/>
<path fill="#0000ff" d="M173.6 560.5L183.7 559L183.7 560L173.6 561.5ZM183.7 559L193.8 558.3L193.8 559.3L183.7 560ZM193.8 558.3L203.9 560.3L203.9 561.3L193.8 559.3ZM203.9 560.3L214 560.5L214 561.5L203.9 561.3ZM214 560.5L224.1 560.5L224.1 561.5L214 561.5ZM224.1 560.5L234.3 560.5L234.3 561.5L224.1 561.5ZM234.3 560.5L244.4 560.5L244.4 561.5L234.3 561.5ZM244.4 560.5L254.5 560.5L254.5 561.5L244.4 561.5ZM254.5 560.5L264.6 560.5L264.6 561.5L254.5 561.5ZM264.6 560.5L274.7 560.5L274.7 561.5L264.6 561.5ZM274.7 560.5L284.8 560.5L284.8 561.5L274.7 561.5ZM284.8 560.5L294.9 560.5L294.9 561.5L284.8 561.5ZM294.9 560.5L305 560.5L305 561.5L294.9 561.5ZM305 560.5L315.1 560.5L315.1 561.5L305 561.5ZM315.1 560.5L325.2 560.5L325.2 561.5L315.1 561.5ZM325.2 560.5L335.3 560.5L335.3 561.5L325.2 561.5ZM335.3 560.5L345.5 560.5L345.5 561.5L335.3 561.5ZM345.5 560.5L355.6 560.5L355.6 561.5L345.5 561.5ZM355.6 560.5L365.7 560.5L365.7 561.5L355.6 561.5ZM365.7 560.5L375.8 560.5L375.8 561.5L365.7 561.5ZM375.8 560.5L385.9 560.5L385.9 561.5L375.8 561.5ZM385.9 560.5L396 558.5L396 559.5L385.9 561.5ZM397.5 558L396.5 558L406.6 546L407.6 546ZM407.6 546L406.6 546L416.7 531.8L417.7 531.8ZM416.2 532.3L426.3 531.8L426.3 532.8L416.2 533.3ZM426.8 531.3L427.8 531.3L437.9 557.7L436.9 557.7ZM436.4 558.2L446.5 558.2L446.5 559.2L436.4 559.2ZM446.5 558.2L456.7 555.5L456.7 556.5L446.5 559.2ZM458.2 555L457.2 555L467.3 539.6L468.3 539.6ZM468.3 539.6L467.3 539.6L477.4 528.7L478.4 528.7ZM477.4 528.7L478.4 528.7L488.5 555L487.5 555ZM488.5 555L487.5 555L497.6 543.5L498.6 543.5ZM497.6 543.5L498.6 543.5L508.7 556.5L507.7 556.5ZM507.2 557L517.3 558.5L517.3 559.5L507.2 558ZM517.3 558.5L527.4 558.5L527.4 559.5L517.3 559.5ZM527.4 558.5L537.5 558.5L537.5 559.5L527.4 559.5ZM537.5 558.5L547.6 558.5L547.6 559.5L537.5 559.5ZM547.6 558.5L557.7 558.5L557.7 559.5L547.6 559.5ZM557.7 558.5L567.9 558.5L567.9 559.5L557.7 559.5ZM567.9 558.5L578 558.5L578 559.5L567.9 559.5ZM578 558.5L588.1 558.5L588.1 559.5L578 559.5ZM588.1 558.5L598.2 558.5L598.2 559.5L588.1 559.5ZM598.2 558.5L608.3 558.5L608.3 559.5L598.2 559.5ZM608.3 558.5L618.4 558.5L618.4 559.5L608.3 559.5ZM618.4 558.5L628.5 558.5L628.5 559.5L618.4 559.5ZM628.5 558.5L638.6 558.5L638.6 559.5L628.5 559.5ZM638.6 558.5L648.7 558.5L648.7 559.5L638.6 559.5ZM648.7 558.5L658.8 558.5L658.8 559.5L648.7 559.5ZM658.8 558.5L668.9 558.5L668.9 559.5L658.8 559.5ZM668.9 558.5L679 554.5L679 555.5L668.9 559.5ZM679 554.5L689.2 553L689.2 554L679 555.5ZM690.7 552.5L689.7 552.5L699.8 542.2L700.8 542.2ZM699.8 542.2L700.8 542.2L710.9 553.8L709.9 553.8ZM710.9 553.8L709.9 553.8L720 537L721 537ZM721 537L720 537L730.1 439.9L731.1 439.9ZM730.1 439.9L731.1 439.9L741.2 503.3L740.2 503.3ZM740.2 503.3L741.2 503.3L751.3 555.1L750.3 555.1ZM751.3 555.1L750.3 555.1L760.4 493L761.4 493ZM761.4 493L760.4 493L770.5 451.6L771.5 451.6ZM770.5 451.6L771.5 451.6L781.6 529.2L780.6 529.2ZM781.6 529.2L780.6 529.2L790.7 505.9L791.7 505.9ZM790.7 505.9L791.7 505.9L801.9 526.6L800.9 526.6ZM801.9 526.6L800.9 526.6L811 512.4L812 512.4ZM175.1 288L174.1 288L184.2 271.5L185.2 271.5ZM183.7 272L193.8 262.5L193.8 263.5L183.7 273ZM193.8 262.5L203.9 259.7L203.9 260.7L193.8 263.5ZM203.9 259.7L214 258.7L214 259.7L203.9 260.7ZM214 258.7L224.1 261.7L224.1 262.7L214 259.7ZM224.1 261.7L234.3 255.5L234.3 256.5L224.1 262.7ZM234.3 255.5L244.4 249.5L244.4 250.5L234.3 256.5ZM245.9 249L244.9 249L255 232L256 232ZM256 232L255 232L265.1 215L266.1 215ZM265.1 215L266.1 215L276.2 232L275.2 232ZM275.2 232L276.2 232L286.3 256L285.3 256ZM285.3 256L286.3 256L296.4 275L295.4 275ZM294.9 275.5L305 279.5L305 280.5L294.9 276.5ZM305 279.5L315.1 280.5L315.1 281.5L305 280.5ZM315.1 280.5L325.2 280L325.2 281L315.1 281.5ZM325.2 280L335.3 283.5L335.3 284.5L325.2 281ZM335.3 283.5L345.5 275.5L345.5 276.5L335.3 284.5ZM345.5 275.5L355.6 266.5L355.6 267.5L345.5 276.5ZM355.6 266.5L365.7 258L365.7 259L355.6 267.5ZM366.2 257.5L367.2 257.5L377.3 269L376.3 269ZM376.3 269L377.3 269L387.4 280.8L386.4 280.8ZM385.9 281.3L396 290.4L396 291.4L385.9 282.3ZM396 290.4L406.1 293L406.1 294L396 291.4ZM406.6 292.5L407.6 292.5L417.7 319.6L416.7 319.6ZM416.7 319.6L417.7 319.6L427.8 331.3L426.8 331.3ZM426.3 331.8L436.4 327.1L436.4 328.1L426.3 332.8ZM436.4 327.1L446.5 334.4L446.5 335.4L436.4 328.1ZM446.5 334.4L456.7 338.3L456.7 339.3L446.5 335.4ZM456.7 338.3L466.8 343L466.8 344L456.7 339.3ZM467.3 342.5L468.3 342.5L478.4 368L477.4 368ZM476.9 368.5L487 368.5L487 369.5L476.9 369.5ZM487.5 368L488.5 368L498.6 380.5L497.6 380.5ZM497.6 380.5L498.6 380.5L508.7 396L507.7 396ZM508.7 396L507.7 396L517.8 384.3L518.8 384.3ZM517.3 384.8L527.4 375.8L527.4 376.8L517.3 385.8ZM527.9 375.3L528.9 375.3L539 392.1L538 392.1ZM539 392.1L538 392.1L548.1 368.8L549.1 368.8ZM549.1 368.8L548.1 368.8L558.2 353.3L559.2 353.3ZM559.2 353.3L558.2 353.3L568.4 340.4L569.4 340.4ZM569.4 340.4L568.4 340.4L578.5 324.8L579.5 324.8ZM578 325.3L588.1 322.7L588.1 323.7L578 326.3ZM588.1 322.7L598.2 318.5L598.2 319.5L588.1 323.7ZM598.2 318.5L608.3 308.5L608.3 309.5L598.2 319.5ZM608.8 308L609.8 308L619.9 326.1L618.9 326.1ZM618.9 326.1L619.9 326.1L630 340.3L629 340.3ZM630 340.3L629 340.3L639.1 324.8L640.1 324.8ZM640.1 324.8L639.1 324.8L649.2 311.9L650.2 311.9ZM650.2 311.9L649.2 311.9L659.3 296.3L660.3 296.3ZM658.8 296.8L668.9 304.6L668.9 305.6L658.8 297.8ZM668.9 304.6L679 300.7L679 301.7L668.9 305.6ZM679.5 300.2L680.5 300.2L690.7 315.2L689.7 315.2ZM689.2 315.7L699.3 320.9L699.3 321.9L689.2 316.7ZM699.3 320.9L709.4 311.1L709.4 312.1L699.3 321.9ZM709.4 311.1L719.5 316.3L719.5 317.3L709.4 312.1ZM719.5 316.3L729.6 319.6L729.6 320.6L719.5 317.3ZM730.1 319.1L731.1 319.1L741.2 375.3L740.2 375.3ZM739.7 375.8L749.8 366.7L749.8 367.7L739.7 376.8ZM751.3 366.2L750.3 366.2L760.4 310.6L761.4 310.6ZM761.4 310.6L760.4 310.6L770.5 283.4L771.5 283.4ZM770 283.9L780.1 278L780.1 279L770 284.9ZM780.1 278L790.2 286.5L790.2 287.5L780.1 279ZM790.2 286.5L800.4 281.8L800.4 282.8L790.2 287.5ZM800.4 281.8L810.5 275.6L810.5 276.6L800.4 282.8Z"/>
<path fill="#ffffff" d="M173.6 558.5L183.7 555.8L183.7 556.8L173.6 559.5ZM183.7 555.8L193.8 558.5L193.8 559.5L183.7 556.8ZM193.8 558.5L203.9 558.5L203.9 559.5L193.8 559.5ZM203.9 558.5L214 558.5L214 559.5L203.9 559.5ZM214 558.5L224.1 558.5L224.1 559.5L214 559.5ZM224.1 558.5L234.3 558.5L234.3 559.5L224.1 559.5ZM234.3 558.5L244.4 558.5L244.4 559.5L234.3 559.5ZM244.4 558.5L254.5 558.5L254.5 559.5L244.4 559.5ZM254.5 558.5L264.6 558.5L264.6 559.5L254.5 559.5ZM264.6 558.5L274.7 558.5L274.7 559.5L264.6 559.5ZM274.7 558.5L284.8 558.5L284.8 559.5L274.7 559.5ZM284.8 558.5L294.9 558.5L294.9 559.5L284.8 559.5ZM294.9 558.5L305 558.5L305 559.5L294.9 559.5ZM305 558.5L315.1 558.5L315.1 559.5L305 559.5ZM315.1 558.5L325.2 558.5L325.2 559.5L315.1 559.5ZM325.2 558.5L335.3 558.5L335.3 559.5L325.2 559.5ZM335.3 558.5L345.5 558.5L345.5 559.5L335.3 559.5ZM345.5 558.5L355.6 558.5L355.6 559.5L345.5 559.5ZM355.6 558.5L365.7 557L365.7 558L355.6 559.5ZM365.7 557L375.8 555.5L375.8 556.5L365.7 558ZM375.8 555.5L385.9 551L385.9 552L375.8 556.5ZM385.9 551L396 547.3L396 548.3L385.9 552ZM396 547.3L406.1 547.5L406.1 548.5L396 548.3ZM406.1 547.5L416.2 547.1L416.2 548.1L406.1 548.5ZM416.2 547.1L426.3 550.8L426.3 551.8L416.2 548.1ZM426.3 550.8L436.4 555.5L436.4 556.5L426.3 551.8ZM436.4 555.5L446.5 554.9L446.5 555.9L436.4 556.5ZM446.5 554.9L456.7 554.4L456.7 555.4L446.5 555.9ZM456.7 554.4L466.8 554.4L466.8 555.4L456.7 555.4ZM466.8 554.4L476.9 554.4L476.9 555.4L466.8 555.4ZM476.9 554.4L487 554.4L487 555.4L476.9 555.4ZM487 554.4L497.1 551L497.1 552L487 555.4ZM497.1 551L507.2 553.1L507.2 554.1L497.1 552ZM507.2 553.1L517.3 551.8L517.3 552.8L507.2 554.1ZM517.3 551.8L527.4 554.1L527.4 555.1L517.3 552.8ZM527.4 554.1L537.5 552.3L537.5 553.3L527.4 555.1ZM537.5 552.3L547.6 554.1L547.6 555.1L537.5 553.3ZM547.6 554.1L557.7 553.6L557.7 554.6L547.6 555.1ZM557.7 553.6L567.9 552.3L567.9 553.3L557.7 554.6ZM567.9 552.3L578 553.1L578 554.1L567.9 553.3ZM578 553.1L588.1 552.3L588.1 553.3L578 554.1ZM588.1 552.3L598.2 550.5L598.2 551.5L588.1 553.3ZM598.2 550.5L608.3 555.5L608.3 556.5L598.2 551.5ZM608.3 555.5L618.4 554.9L618.4 555.9L608.3 556.5ZM618.4 554.9L628.5 554.9L628.5 555.9L618.4 555.9ZM628.5 554.9L638.6 554.9L638.6 555.9L628.5 555.9ZM638.6 554.9L648.7 554.9L648.7 555.9L638.6 555.9ZM648.7 554.9L658.8 554.9L658.8 555.9L648.7 555.9ZM658.8 554.9L668.9 554.9L668.9 555.9L658.8 555.9ZM668.9 554.9L679 553.6L679 554.6L668.9 555.9ZM679 553.6L689.2 553.6L689.2 554.6L679 554.6ZM689.2 553.6L699.3 553.6L699.3 554.6L689.2 554.6ZM699.3 553.6L709.4 553.6L709.4 554.6L699.3 554.6ZM709.4 553.6L719.5 553.6L719.5 554.6L709.4 554.6ZM719.5 553.6L729.6 545.3L729.6 546.3L719.5 554.6ZM729.6 545.3L739.7 543.3L739.7 544.3L729.6 546.3ZM739.7 543.3L749.8 542L749.8 543L739.7 544.3ZM749.8 542L759.9 550.5L759.9 551.5L749.8 543ZM759.9 550.5L770 549.7L770 550.7L759.9 551.5ZM770 549.7L780.1 553.1L780.1 554.1L770 550.7ZM780.1 553.1L790.2 551.5L790.2 552.5L780.1 554.1ZM790.2 551.5L800.4 550.5L800.4 551.5L790.2 552.5ZM800.4 550.5L810.5 548.5L810.5 549.5L800.4 551.5ZM173.1 287L172.1 287L182.2 271.3L183.2 271.3ZM183.7 269.8L193.8 259.7L193.8 260.7L183.7 270.8ZM193.8 259.7L203.9 256L203.9 257L193.8 260.7ZM203.9 256L214 254.8L214 255.8L203.9 257ZM214 254.8L224.1 257L224.1 258L214 255.8ZM224.1 257L234.3 252L234.3 253L224.1 258ZM234.3 252L244.4 243L244.4 244L234.3 253ZM243.9 244.5L242.9 244.5L253 227.5L254 227.5ZM254 227.5L253 227.5L263.1 212.5L264.1 212.5ZM263.1 212.5L264.1 212.5L274.2 227L273.2 227ZM273.2 227L274.2 227L284.3 243L283.3 243ZM283.3 243L284.3 243L294.4 265.5L293.4 265.5ZM293.4 265.5L294.4 265.5L304.5 276.5L303.5 276.5ZM305 275L315.1 279.3L315.1 280.3L305 276ZM315.1 279.3L325.2 282L325.2 283L315.1 280.3ZM325.2 282L335.3 286.5L335.3 287.5L325.2 283ZM334.8 288L333.8 288L344 277L345 277ZM345.5 275.5L355.6 265.5L355.6 266.5L345.5 276.5ZM355.6 265.5L365.7 260L365.7 261L355.6 266.5ZM364.2 261.5L365.2 261.5L375.3 275L374.3 275ZM374.3 275L375.3 275L385.4 286L384.4 286ZM384.4 286L385.4 286L395.5 297.6L394.5 297.6ZM396 296.1L406.1 305.2L406.1 306.2L396 297.1ZM406.1 305.2L416.2 311.1L416.2 312.1L406.1 306.2ZM416.2 311.1L426.3 309.1L426.3 310.1L416.2 312.1ZM426.3 309.1L436.4 307.8L436.4 308.8L426.3 310.1ZM436.4 307.8L446.5 307.8L446.5 308.8L436.4 308.8ZM446.5 307.8L456.7 309.6L456.7 310.6L446.5 308.8ZM456.7 309.6L466.8 307.8L466.8 308.8L456.7 310.6ZM466.8 307.8L476.9 309.6L476.9 310.6L466.8 308.8ZM476.9 309.6L487 313L487 314L476.9 310.6ZM487 313L497.1 314.8L497.1 315.8L487 314ZM497.1 314.8L507.2 316.8L507.2 317.8L497.1 315.8ZM507.2 316.8L517.3 318.1L517.3 319.1L507.2 317.8ZM517.3 318.1L527.4 316.1L527.4 317.1L517.3 319.1ZM527.4 316.1L537.5 324.6L537.5 325.6L527.4 317.1ZM537.5 324.6L547.6 324.1L547.6 325.1L537.5 325.6ZM547.6 324.1L557.7 325.1L557.7 326.1L547.6 325.1ZM557.7 325.1L567.9 320.7L567.9 321.7L557.7 326.1ZM567.9 320.7L578 317.4L578 318.4L567.9 321.7ZM578 317.4L588.1 317.6L588.1 318.6L578 318.4ZM588.1 317.6L598.2 321.2L598.2 322.2L588.1 318.6ZM598.2 321.2L608.3 322.8L608.3 323.8L598.2 322.2ZM608.3 322.8L618.4 329.8L618.4 330.8L608.3 323.8ZM618.4 329.8L628.5 335.7L628.5 336.7L618.4 330.8ZM628.5 335.7L638.6 339.6L638.6 340.6L628.5 336.7ZM638.6 339.6L648.7 339.6L648.7 340.6L638.6 340.6ZM648.7 339.6L658.8 340.1L658.8 341.1L648.7 340.6ZM658.8 340.1L668.9 331.9L668.9 332.9L658.8 341.1ZM668.9 331.9L679 327.2L679 328.2L668.9 332.9ZM679 327.2L689.2 333.7L689.2 334.7L679 328.2ZM689.2 333.7L699.3 335L699.3 336L689.2 334.7ZM699.3 335L709.4 335L709.4 336L699.3 336ZM709.4 335L719.5 337L719.5 338L709.4 336ZM719.5 337L729.6 335L729.6 336L719.5 338ZM729.6 335L739.7 335L739.7 336L729.6 336ZM739.7 335L749.8 338.8L749.8 339.8L739.7 336ZM749.8 338.8L759.9 345.3L759.9 346.3L749.8 339.8ZM759.9 345.3L770 349.2L770 350.2L759.9 346.3ZM770 349.2L780.1 351.8L780.1 352.8L770 350.2ZM780.1 351.8L790.2 354.9L790.2 355.9L780.1 352.8ZM790.2 354.9L800.4 360.3L800.4 361.3L790.2 355.9ZM800.4 360.3L810.5 360.3L810.5 361.3L800.4 361.3Z"/>
<path fill="#ffffff" d="M173.6 559.5L183.7 556.8L183.7 557.8L173.6 560.5ZM183.7 556.8L193.8 559.5L193.8 560.5L183.7 557.8ZM193.8 559.5L203.9 559.5L203.9 560.5L193.8 560.5ZM203.9 559.5L214 559.5L214 560.5L203.9 560.5ZM214 559.5L224.1 559.5L224.1 560.5L214 560.5ZM224.1 559.5L234.3 559.5L234.3 560.5L224.1 560.5ZM234.3 559.5L244.4 559.5L244.4 560.5L234.3 560.5ZM244.4 559.5L254.5 559.5L254.5 560.5L244.4 560.5ZM254.5 559.5L264.6 559.5L264.6 560.5L254.5 560.5ZM264.6 559.5L274.7 559.5L274.7 560.5L264.6 560.5ZM274.7 559.5L284.8 559.5L284.8 560.5L274.7 560.5ZM284.8 559.5L294.9 559.5L294.9 560.5L284.8 560.5ZM294.9 559.5L305 559.5L305 560.5L294.9 560.5ZM305 559.5L315.1 559.5L315.1 560.5L305 560.5ZM315.1 559.5L325.2 559.5L325.2 560.5L315.1 560.5ZM325.2 559.5L335.3 559.5L335.3 560.5L325.2 560.5ZM335.3 559.5L345.5 559.5L345.5 560.5L335.3 560.5ZM345.5 559.5L355.6 559.5L355.6 560.5L345.5 560.5ZM355.6 559.5L365.7 558L365.7 559L355.6 560.5ZM365.7 558L375.8 556.5L375.8 557.5L365.7 559ZM375.8 556.5L385.9 552L385.9 553L375.8 557.5ZM385.9 552L396 548.3L396 549.3L385.9 553ZM396 548.3L406.1 548.5L406.1 549.5L396 549.3ZM406.1 548.5L416.2 548.1L416.2 549.1L406.1 549.5ZM416.2 548.1L426.3 551.8L426.3 552.8L416.2 549.1ZM426.3 551.8L436.4 556.5L436.4 557.5L426.3 552.8ZM436.4 556.5L446.5 555.9L446.5 556.9L436.4 557.5ZM446.5 555.9L456.7 555.4L456.7 556.4L446.5 556.9ZM456.7 555.4L466.8 555.4L466.8 556.4L456.7 556.4ZM466.8 555.4L476.9 555.4L476.9 556.4L466.8 556.4ZM476.9 555.4L487 555.4L487 556.4L476.9 556.4ZM487 555.4L497.1 552L497.1 553L487 556.4ZM497.1 552L507.2 554.1L507.2 555.1L497.1 553ZM507.2 554.1L517.3 552.8L517.3 553.8L507.2 555.1ZM517.3 552.8L527.4 555.1L527.4 556.1L517.3 553.8ZM527.4 555.1L537.5 553.3L537.5 554.3L527.4 556.1ZM537.5 553.3L547.6 555.1L547.6 556.1L537.5 554.3ZM547.6 555.1L557.7 554.6L557.7 555.6L547.6 556.1ZM557.7 554.6L567.9 553.3L567.9 554.3L557.7 555.6ZM567.9 553.3L578 554.1L578 555.1L567.9 554.3ZM578 554.1L588.1 553.3L588.1 554.3L578 555.1ZM588.1 553.3L598.2 551.5L598.2 552.5L588.1 554.3ZM598.2 551.5L608.3 556.5L608.3 557.5L598.2 552.5ZM608.3 556.5L618.4 555.9L618.4 556.9L608.3 557.5ZM618.4 555.9L628.5 555.9L628.5 556.9L618.4 556.9ZM628.5 555.9L638.6 555.9L638.6 556.9L628.5 556.9ZM638.6 555.9L648.7 555.9L648.7 556.9L638.6 556.9ZM648.7 555.9L658.8 555.9L658.8 556.9L648.7 556.9ZM658.8 555.9L668.9 555.9L668.9 556.9L658.8 556.9ZM668.9 555.9L679 554.6L679 555.6L668.9 556.9ZM679 554.6L689.2 554.6L689.2 555.6L679 555.6ZM689.2 554.6L699.3 554.6L699.3 555.6L689.2 555.6ZM699.3 554.6L709.4 554.6L709.4 555.6L699.3 555.6ZM709.4 554.6L719.5 554.6L719.5 555.6L709.4 555.6ZM719.5 554.6L729.6 546.3L729.6 547.3L719.5 555.6ZM729.6 546.3L739.7 544.3L739.7 545.3L729.6 547.3ZM739.7 544.3L749.8 543L749.8 544L739.7 545.3ZM749.8 543L759.9 551.5L759.9 552.5L749.8 544ZM759.9 551.5L770 550.7L770 551.7L759.9 552.5ZM770 550.7L780.1 554.1L780.1 555.1L770 551.7ZM780.1 554.1L790.2 552.5L790.2 553.5L780.1 555.1ZM790.2 552.5L800.4 551.5L800.4 552.5L790.2 553.5ZM800.4 551.5L810.5 549.5L810.5 550.5L800.4 552.5ZM174.1 287L173.1 287L183.2 271.3L184.2 271.3ZM183.7 270.8L193.8 260.7L193.8 261.7L183.7 271.8ZM193.8 260.7L203.9 257L203.9 258L193.8 261.7ZM203.9 257L214 255.8L214 256.8L203.9 258ZM214 255.8L224.1 258L224.1 259L214 256.8ZM224.1 258L234.3 253L234.3 254L224.1 259ZM234.3 253L244.4 244L244.4 245L234.3 254ZM244.9 244.5L243.9 244.5L254 227.5L255 227.5ZM255 227.5L254 227.5L264.1 212.5L265.1 212.5ZM264.1 212.5L265.1 212.5L275.2 227L274.2 227ZM274.2 227L275.2 227L285.3 243L284.3 243ZM284.3 243L285.3 243L295.4 265.5L294.4 265.5ZM294.4 265.5L295.4 265.5L305.5 276.5L304.5 276.5ZM305 276L315.1 280.3L315.1 281.3L305 277ZM315.1 280.3L325.2 283L325.2 284L315.1 281.3ZM325.2 283L335.3 287.5L335.3 288.5L325.2 284ZM335.8 288L334.8 288L345 277L346 277ZM345.5 276.5L355.6 266.5L355.6 267.5L345.5 277.5ZM355.6 266.5L365.7 261L365.7 262L355.6 267.5ZM365.2 261.5L366.2 261.5L376.3 275L375.3 275ZM375.3 275L376.3 275L386.4 286L385.4 286ZM385.4 286L386.4 286L396.5 297.6L395.5 297.6ZM396 297.1L406.1 306.2L406.1 307.2L396 298.1ZM406.1 306.2L416.2 312.1L416.2 313.1L406.1 307.2ZM416.2 312.1L426.3 310.1L426.3 311.1L416.2 313.1ZM426.3 310.1L436.4 308.8L436.4 309.8L426.3 311.1ZM436.4 308.8L446.5 308.8L446.5 309.8L436.4 309.8ZM446.5 308.8L456.7 310.6L456.7 311.6L446.5 309.8ZM456.7 310.6L466.8 308.8L466.8 309.8L456.7 311.6ZM466.8 308.8L476.9 310.6L476.9 311.6L466.8 309.8ZM476.9 310.6L487 314L487 315L476.9 311.6ZM487 314L497.1 315.8L497.1 316.8L487 315ZM497.1 315.8L507.2 317.8L507.2 318.8L497.1 316.8ZM507.2 317.8L517.3 319.1L517.3 320.1L507.2 318.8ZM517.3 319.1L527.4 317.1L527.4 318.1L517.3 320.1ZM527.4 317.1L537.5 325.6L537.5 326.6L527.4 318.1ZM537.5 325.6L547.6 325.1L547.6 326.1L537.5 326.6ZM547.6 325.1L557.7 326.1L557.7 327.1L547.6 326.1ZM557.7 326.1L567.9 321.7L567.9 322.7L557.7 327.1ZM567.9 321.7L578 318.4L578 319.4L567.9 322.7ZM578 318.4L588.1 318.6L588.1 319.6L578 319.4ZM588.1 318.6L598.2 322.2L598.2 323.2L588.1 319.6ZM598.2 322.2L608.3 323.8L608.3 324.8L598.2 323.2ZM608.3 323.8L618.4 330.8L618.4 331.8L608.3 324.8ZM618.4 330.8L628.5 336.7L628.5 337.7L618.4 331.8ZM628.5 336.7L638.6 340.6L638.6 341.6L628.5 337.7ZM638.6 340.6L648.7 340.6L648.7 341.6L638.6 341.6ZM648.7 340.6L658.8 341.1L658.8 342.1L648.7 341.6ZM658.8 341.1L668.9 332.9L668.9 333.9L658.8 342.1ZM668.9 332.9L679 328.2L679 329.2L668.9 333.9ZM679 328.2L689.2 334.7L689.2 335.7L679 329.2ZM689.2 334.7L699.3 336L699.3 337L689.2 335.7ZM699.3 336L709.4 336L709.4 337L699.3 337ZM709.4 336L719.5 338L719.5 339L709.4 337ZM719.5 338L729.6 336L729.6 337L719.5 339ZM729.6 336L739.7 336L739.7 337L729.6 337ZM739.7 336L749.8 339.8L749.8 340.8L739.7 337ZM749.8 339.8L759.9 346.3L759.9 347.3L749.8 340.8ZM759.9 346.3L770 350.2L770 351.2L759.9 347.3ZM770 350.2L780.1 352.8L780.1 353.8L770 351.2ZM780.1 352.8L790.2 355.9L790.2 356.9L780.1 353.8ZM790.2 355.9L800.4 361.3L800.4 362.3L790.2 356.9ZM800.4 361.3L810.5 361.3L810.5 362.3L800.4 362.3Z"/>
<path fill="#ffffff" d="M173.6 560.5L183.7 557.8L183.7 558.8L173.6 561.5ZM183.7 557.8L193.8 560.5L193.8 561.5L183.7 558.8ZM193.8 560.5L203.9 560.5L203.9 561.5L193.8 561.5ZM203.9 560.5L214 560.5L214 561.5L203.9 561.5ZM214 560.5L224.1 560.5L224.1 561.5L214 561.5ZM224.1 560.5L234.3 560.5L234.3 561.5L224.1 561.5ZM234.3 560.5L244.4 560.5L244.4 561.5L234.3 561.5ZM244.4 560.5L254.5 560.5L254.5 561.5L244.4 561.5ZM254.5 560.5L264.6 560.5L264.6 561.5L254.5 561.5ZM264.6 560.5L274.7 560.5L274.7 561.5L264.6 561.5ZM274.7 560.5L284.8 560.5L284.8 561.5L274.7 561.5ZM284.8 560.5L294.9 560.5L294.9 561.5L284.8 561.5ZM294.9 560.5L305 560.5L305 561.5L294.9 561.5ZM305 560.5L315.1 560.5L315.1 561.5L305 561.5ZM315.1 560.5L325.2 560.5L325.2 561.5L315.1 561.5ZM325.2 560.5L335.3 560.5L335.3 561.5L325.2 561.5ZM335.3 560.5L345.5 560.5L345.5 561.5L335.3 561.5ZM345.5 560.5L355.6 560.5L355.6 561.5L345.5 561.5ZM355.6 560.5L365.7 559L365.7 560L355.6 561.5ZM365.7 559L375.8 557.5L375.8 558.5L365.7 560ZM375.8 557.5L385.9 553L385.9 554L375.8 558.5ZM385.9 553L396 549.3L396 550.3L385.9 554ZM396 549.3L406.1 549.5L406.1 550.5L396 550.3ZM406.1 549.5L416.2 549.1L416.2 550.1L406.1 550.5ZM416.2 549.1L426.3 552.8L426.3 553.8L416.2 550.1ZM426.3 552.8L436.4 557.5L436.4 558.5L426.3 553.8ZM436.4 557.5L446.5 556.9L446.5 557.9L436.4 558.5ZM446.5 556.9L456.7 556.4L456.7 557.4L446.5 557.9ZM456.7 556.4L466.8 556.4L466.8 557.4L456.7 557.4ZM466.8 556.4L476.9 556.4L476.9 557.4L466.8 557.4ZM476.9 556.4L487 556.4L487 557.4L476.9 557.4ZM487 556.4L497.1 553L497.1 554L487 557.4ZM497.1 553L507.2 555.1L507.2 556.1L497.1 554ZM507.2 555.1L517.3 553.8L517.3 554.8L507.2 556.1ZM517.3 553.8L527.4 556.1L527.4 557.1L517.3 554.8ZM527.4 556.1L537.5 554.3L537.5 555.3L527.4 557.1ZM537.5 554.3L547.6 556.1L547.6 557.1L537.5 555.3ZM547.6 556.1L557.7 555.6L557.7 556.6L547.6 557.1ZM557.7 555.6L567.9 554.3L567.9 555.3L557.7 556.6ZM567.9 554.3L578 555.1L578 556.1L567.9 555.3ZM578 555.1L588.1 554.3L588.1 555.3L578 556.1ZM588.1 554.3L598.2 552.5L598.2 553.5L588.1 555.3ZM598.2 552.5L608.3 557.5L608.3 558.5L598.2 553.5ZM608.3 557.5L618.4 556.9L618.4 557.9L608.3 558.5ZM618.4 556.9L628.5 556.9L628.5 557.9L618.4 557.9ZM628.5 556.9L638.6 556.9L638.6 557.9L628.5 557.9ZM638.6 556.9L648.7 556.9L648.7 557.9L638.6 557.9ZM648.7 556.9L658.8 556.9L658.8 557.9L648.7 557.9ZM658.8 556.9L668.9 556.9L668.9 557.9L658.8 557.9ZM668.9 556.9L679 555.6L679 556.6L668.9 557.9ZM679 555.6L689.2 555.6L689.2 556.6L679 556.6ZM689.2 555.6L699.3 555.6L699.3 556.6L689.2 556.6ZM699.3 555.6L709.4 555.6L709.4 556.6L699.3 556.6ZM709.4 555.6L719.5 555.6L719.5 556.6L709.4 556.6ZM719.5 555.6L729.6 547.3L729.6 548.3L719.5 556.6ZM729.6 547.3L739.7 545.3L739.7 546.3L729.6 548.3ZM739.7 545.3L749.8 544L749.8 545L739.7 546.3ZM749.8 544L759.9 552.5L759.9 553.5L749.8 545ZM759.9 552.5L770 551.7L770 552.7L759.9 553.5ZM770 551.7L780.1 555.1L780.1 556.1L770 552.7ZM780.1 555.1L790.2 553.5L790.2 554.5L780.1 556.1ZM790.2 553.5L800.4 552.5L800.4 553.5L790.2 554.5ZM800.4 552.5L810.5 550.5L810.5 551.5L800.4 553.5ZM175.1 287L174.1 287L184.2 271.3L185.2 271.3ZM183.7 271.8L193.8 261.7L193.8 262.7L183.7 272.8ZM193.8 261.7L203.9 258L203.9 259L193.8 262.7ZM203.9 258L214 256.8L214 257.8L203.9 259ZM214 256.8L224.1 259L224.1 260L214 257.8ZM224.1 259L234.3 254L234.3 255L224.1 260ZM234.3 254L244.4 245L244.4 246L234.3 255ZM245.9 244.5L244.9 244.5L255 227.5L256 227.5ZM256 227.5L255 227.5L265.1 212.5L266.1 212.5ZM265.1 212.5L266.1 212.5L276.2 227L275.2 227ZM275.2 227L276.2 227L286.3 243L285.3 243ZM285.3 243L286.3 243L296.4 265.5L295.4 265.5ZM295.4 265.5L296.4 265.5L306.5 276.5L305.5 276.5ZM305 277L315.1 281.3L315.1 282.3L305 278ZM315.1 281.3L325.2 284L325.2 285L315.1 282.3ZM325.2 284L335.3 288.5L335.3 289.5L325.2 285ZM336.8 288L335.8 288L346 277L347 277ZM345.5 277.5L355.6 267.5L355.6 268.5L345.5 278.5ZM355.6 267.5L365.7 262L365.7 263L355.6 268.5ZM366.2 261.5L367.2 261.5L377.3 275L376.3 275ZM376.3 275L377.3 275L387.4 286L386.4 286ZM386.4 286L387.4 286L397.5 297.6L396.5 297.6ZM396 298.1L406.1 307.2L406.1 308.2L396 299.1ZM406.1 307.2L416.2 313.1L416.2 314.1L406.1 308.2ZM416.2 313.1L426.3 311.1L426.3 312.1L416.2 314.1ZM426.3 311.1L436.4 309.8L436.4 310.8L426.3 312.1ZM436.4 309.8L446.5 309.8L446.5 310.8L436.4 310.8ZM446.5 309.8L456.7 311.6L456.7 312.6L446.5 310.8ZM456.7 311.6L466.8 309.8L466.8 310.8L456.7 312.6ZM466.8 309.8L476.9 311.6L476.9 312.6L466.8 310.8ZM476.9 311.6L487 315L487 316L476.9 312.6ZM487 315L497.1 316.8L497.1 317.8L487 316ZM497.1 316.8L507.2 318.8L507.2 319.8L497.1 317.8ZM507.2 318.8L517.3 320.1L517.3 321.1L507.2 319.8ZM517.3 320.1L527.4 318.1L527.4 319.1L517.3 321.1ZM527.4 318.1L537.5 326.6L537.5 327.6L527.4 319.1ZM537.5 326.6L547.6 326.1L547.6 327.1L537.5 327.6ZM547.6 326.1L557.7 327.1L557.7 328.1L547.6 327.1ZM557.7 327.1L567.9 322.7L567.9 323.7L557.7 328.1ZM567.9 322.7L578 319.4L578 320.4L567.9 323.7ZM578 319.4L588.1 319.6L588.1 320.6L578 320.4ZM588.1 319.6L598.2 323.2L598.2 324.2L588.1 320.6ZM598.2 323.2L608.3 324.8L608.3 325.8L598.2 324.2ZM608.3 324.8L618.4 331.8L618.4 332.8L608.3 325.8ZM618.4 331.8L628.5 337.7L628.5 338.7L618.4 332.8ZM628.5 337.7L638.6 341.6L638.6 342.6L628.5 338.7ZM638.6 341.6L648.7 341.6L648.7 342.6L638.6 342.6ZM648.7 341.6L658.8 342.1L658.8 343.1L648.7 342.6ZM658.8 342.1L668.9 333.9L668.9 334.9L658.8 343.1ZM668.9 333.9L679 329.2L679 330.2L668.9 334.9ZM679 329.2L689.2 335.7L689.2 336.7L679 330.2ZM689.2 335.7L699.3 337L699.3 338L689.2 336.7ZM699.3 337L709.4 337L709.4 338L699.3 338ZM709.4 337L719.5 339L719.5 340L709.4 338ZM719.5 339L729.6 337L729.6 338L719.5 340ZM729.6 337L739.7 337L739.7 338L729.6 338ZM739.7 337L749.8 340.8L749.8 341.8L739.7 338ZM749.8 340.8L759.9 347.3L759.9 348.3L749.8 341.8ZM759.9 347.3L770 351.2L770 352.2L759.9 348.3ZM770 351.2L780.1 353.8L780.1 354.8L770 352.2ZM780.1 353.8L790.2 356.9L790.2 357.9L780.1 354.8ZM790.2 356.9L800.4 362.3L800.4 363.3L790.2 357.9ZM800.4 362.3L810.5 362.3L810.5 363.3L800.4 363.3Z"/>
<path fill="#fc3d3d" d="M173.6 344.8L183.7 341L183.7 342L173.6 345.8ZM183.7 341L193.8 343L193.8 344L183.7 342ZM193.8 343L203.9 342L203.9 343L193.8 344ZM203.9 342L214 342L214 343L203.9 343ZM214 342L224.1 342L224.1 343L214 343ZM224.1 342L234.3 336.8L234.3 337.8L224.1 343ZM234.3 336.8L244.4 343.7L244.4 344.7L234.3 337.8ZM244.4 343.7L254.5 345.7L254.5 346.7L244.4 344.7ZM254 347.2L253 347.2L263.1 334.5L264.1 334.5ZM264.6 333L274.7 333L274.7 334L264.6 334ZM274.7 333L284.8 337.6L284.8 338.6L274.7 334ZM284.8 337.6L294.9 341.7L294.9 342.7L284.8 338.6ZM294.9 341.7L305 341.1L305 342.1L294.9 342.7ZM305 341.1L315.1 337.6L315.1 338.6L305 342.1ZM315.1 337.6L325.2 334.1L325.2 335.1L315.1 338.6ZM325.2 334.1L335.3 336.8L335.3 337.8L325.2 335.1ZM335.3 336.8L345.5 339.9L345.5 340.9L335.3 337.8ZM345.5 339.9L355.6 334.8L355.6 335.8L345.5 340.9ZM355.6 334.8L365.7 336.8L365.7 337.8L355.6 335.8ZM365.7 336.8L375.8 341L375.8 342L365.7 337.8ZM375.8 341L385.9 338.1L385.9 339.1L375.8 342ZM385.9 338.1L396 338.1L396 339.1L385.9 339.1ZM396 338.1L406.1 338.7L406.1 339.7L396 339.1ZM406.1 338.7L416.2 336.1L416.2 337.1L406.1 339.7ZM416.2 336.1L426.3 332.3L426.3 333.3L416.2 337.1ZM426.3 332.3L436.4 337.5L436.4 338.5L426.3 333.3ZM436.4 337.5L446.5 342.1L446.5 343.1L436.4 338.5ZM446.5 342.1L456.7 344.5L456.7 345.5L446.5 343.1ZM456.7 344.5L466.8 342.1L466.8 343.1L456.7 345.5ZM466.8 342.1L476.9 337.8L476.9 338.8L466.8 343.1ZM476.9 337.8L487 329L487 330L476.9 338.8ZM487 329L497.1 324L497.1 325L487 330ZM497.1 324L507.2 319.9L507.2 320.9L497.1 325ZM507.2 319.9L517.3 319.6L517.3 320.6L507.2 320.9ZM517.3 319.6L527.4 317.6L527.4 318.6L517.3 320.6ZM527.4 317.6L537.5 321.3L537.5 322.3L527.4 318.6ZM537.5 321.3L547.6 319.6L547.6 320.6L537.5 322.3ZM547.6 319.6L557.7 316.8L557.7 317.8L547.6 320.6ZM557.7 316.8L567.9 320.2L567.9 321.2L557.7 317.8ZM567.9 320.2L578 324.6L578 325.6L567.9 321.2ZM578 324.6L588.1 324.6L588.1 325.6L578 325.6ZM588.1 324.6L598.2 325.1L598.2 326.1L588.1 325.6ZM598.2 325.1L608.3 328.5L608.3 329.5L598.2 326.1ZM608.3 328.5L618.4 332.4L618.4 333.4L608.3 329.5ZM618.4 332.4L628.5 337.5L628.5 338.5L618.4 333.4ZM628.5 337.5L638.6 341.4L638.6 342.4L628.5 338.5ZM638.6 341.4L648.7 345.8L648.7 346.8L638.6 342.4ZM648.7 345.8L658.8 345.8L658.8 346.8L648.7 346.8ZM658.8 345.8L668.9 345.3L668.9 346.3L658.8 346.8ZM668.9 345.3L679 347.9L679 348.9L668.9 346.3ZM679 347.9L689.2 347.9L689.2 348.9L679 348.9ZM689.2 347.9L699.3 346.6L699.3 347.6L689.2 348.9ZM699.3 346.6L709.4 344.5L709.4 345.5L699.3 347.6ZM709.4 344.5L719.5 339.6L719.5 340.6L709.4 345.5ZM719.5 339.6L729.6 341.4L729.6 342.4L719.5 340.6ZM729.6 341.4L739.7 344.5L739.7 345.5L729.6 342.4ZM739.7 344.5L749.8 348.4L749.8 349.4L739.7 345.5ZM749.8 348.4L759.9 350.5L759.9 351.5L749.8 349.4ZM759.9 350.5L770 351L770 352L759.9 351.5ZM770 351L780.1 351.8L780.1 352.8L770 352ZM780.1 351.8L790.2 349.2L790.2 350.2L780.1 352.8ZM790.2 349.2L800.4 343.5L800.4 344.5L790.2 350.2ZM800.4 343.5L810.5 340.9L810.5 341.9L800.4 344.5Z"/>
<path fill="#fc3d3d" d="M173.6 345.8L183.7 342L183.7 343L173.6 346.8ZM183.7 342L193.8 344L193.8 345L183.7 343ZM193.8 344L203.9 343L203.9 344L193.8 345ZM203.9 343L214 343L214 344L203.9 344ZM214 343L224.1 343L224.1 344L214 344ZM224.1 343L234.3 337.8L234.3 338.8L224.1 344ZM234.3 337.8L244.4 344.7L244.4 345.7L234.3 338.8ZM244.4 344.7L254.5 346.7L254.5 347.7L244.4 345.7ZM255 347.2L254 347.2L264.1 334.5L265.1 334.5ZM264.6 334L274.7 334L274.7 335L264.6 335ZM274.7 334L284.8 338.6L284.8 339.6L274.7 335ZM284.8 338.6L294.9 342.7L294.9 343.7L284.8 339.6ZM294.9 342.7L305 342.1L305 343.1L294.9 343.7ZM305 342.1L315.1 338.6L315.1 339.6L305 343.1ZM315.1 338.6L325.2 335.1L325.2 336.1L315.1 339.6ZM325.2 335.1L335.3 337.8L335.3 338.8L325.2 336.1ZM335.3 337.8L345.5 340.9L345.5 341.9L335.3 338.8ZM345.5 340.9L355.6 335.8L355.6 336.8L345.5 341.9ZM355.6 335.8L365.7 337.8L365.7 338.8L355.6 336.8ZM365.7 337.8L375.8 342L375.8 343L365.7 338.8ZM375.8 342L385.9 339.1L385.9 340.1L375.8 343ZM385.9 339.1L396 339.1L396 340.1L385.9 340.1ZM396 339.1L406.1 339.7L406.1 340.7L396 340.1ZM406.1 339.7L416.2 337.1L416.2 338.1L406.1 340.7ZM416.2 337.1L426.3 333.3L426.3 334.3L416.2 338.1ZM426.3 333.3L436.4 338.5L436.4 339.5L426.3 334.3ZM436.4 338.5L446.5 343.1L446.5 344.1L436.4 339.5ZM446.5 343.1L456.7 345.5L456.7 346.5L446.5 344.1ZM456.7 345.5L466.8 343.1L466.8 344.1L456.7 346.5ZM466.8 343.1L476.9 338.8L476.9 339.8L466.8 344.1ZM476.9 338.8L487 330L487 331L476.9 339.8ZM487 330L497.1 325L497.1 326L487 331ZM497.1 325L507.2 320.9L507.2 321.9L497.1 326ZM507.2 320.9L517.3 320.6L517.3 321.6L507.2 321.9ZM517.3 320.6L527.4 318.6L527.4 319.6L517.3 321.6ZM527.4 318.6L537.5 322.3L537.5 323.3L527.4 319.6ZM537.5 322.3L547.6 320.6L547.6 321.6L537.5 323.3ZM547.6 320.6L557.7 317.8L557.7 318.8L547.6 321.6ZM557.7 317.8L567.9 321.2L567.9 322.2L557.7 318.8ZM567.9 321.2L578 325.6L578 326.6L567.9 322.2ZM578 325.6L588.1 325.6L588.1 326.6L578 326.6ZM588.1 325.6L598.2 326.1L598.2 327.1L588.1 326.6ZM598.2 326.1L608.3 329.5L608.3 330.5L598.2 327.1ZM608.3 329.5L618.4 333.4L618.4 334.4L608.3 330.5ZM618.4 333.4L628.5 338.5L628.5 339.5L618.4 334.4ZM628.5 338.5L638.6 342.4L638.6 343.4L628.5 339.5ZM638.6 342.4L648.7 346.8L648.7 347.8L638.6 343.4ZM648.7 346.8L658.8 346.8L658.8 347.8L648.7 347.8ZM658.8 346.8L668.9 346.3L668.9 347.3L658.8 347.8ZM668.9 346.3L679 348.9L679 349.9L668.9 347.3ZM679 348.9L689.2 348.9L689.2 349.9L679 349.9ZM689.2 348.9L699.3 347.6L699.3 348.6L689.2 349.9ZM699.3 347.6L709.4 345.5L709.4 346.5L699.3 348.6ZM709.4 345.5L719.5 340.6L719.5 341.6L709.4 346.5ZM719.5 340.6L729.6 342.4L729.6 343.4L719.5 341.6ZM729.6 342.4L739.7 345.5L739.7 346.5L729.6 343.4ZM739.7 345.5L749.8 349.4L749.8 350.4L739.7 346.5ZM749.8 349.4L759.9 351.5L759.9 352.5L749.8 350.4ZM759.9 351.5L770 352L770 353L759.9 352.5ZM770 352L780.1 352.8L780.1 353.8L770 353ZM780.1 352.8L790.2 350.2L790.2 351.2L780.1 353.8ZM790.2 350.2L800.4 344.5L800.4 345.5L790.2 351.2ZM800.4 344.5L810.5 341.9L810.5 342.9L800.4 345.5Z"/>
<path fill="#fc3d3d" d="M173.6 346.8L183.7 343L183.7 344L173.6 347.8ZM183.7 343L193.8 345L193.8 346L183.7 344ZM193.8 345L203.9 344L203.9 345L193.8 346ZM203.9 344L214 344L214 345L203.9 345ZM214 344L224.1 344L224.1 345L214 345ZM224.1 344L234.3 338.8L234.3 339.8L224.1 345ZM234.3 338.8L244.4 345.7L244.4 346.7L234.3 339.8ZM244.4 345.7L254.5 347.7L254.5 348.7L244.4 346.7ZM256 347.2L255 347.2L265.1 334.5L266.1 334.5ZM264.6 335L274.7 335L274.7 336L264.6 336ZM274.7 335L284.8 339.6L284.8 340.6L274.7 336ZM284.8 339.6L294.9 343.7L294.9 344.7L284.8 340.6ZM294.9 343.7L305 343.1L305 344.1L294.9 344.7ZM305 343.1L315.1 339.6L315.1 340.6L305 344.1ZM315.1 339.6L325.2 336.1L325.2 337.1L315.1 340.6ZM325.2 336.1L335.3 338.8L335.3 339.8L325.2 337.1ZM335.3 338.8L345.5 341.9L345.5 342.9L335.3 339.8ZM345.5 341.9L355.6 336.8L355.6 337.8L345.5 342.9ZM355.6 336.8L365.7 338.8L365.7 339.8L355.6 337.8ZM365.7 338.8L375.8 343L375.8 344L365.7 339.8ZM375.8 343L385.9 340.1L385.9 341.1L375.8 344ZM385.9 340.1L396 340.1L396 341.1L385.9 341.1ZM396 340.1L406.1 340.7L406.1 341.7L396 341.1ZM406.1 340.7L416.2 338.1L416.2 339.1L406.1 341.7ZM416.2 338.1L426.3 334.3L426.3 335.3L416.2 339.1ZM426.3 334.3L436.4 339.5L436.4 340.5L426.3 335.3ZM436.4 339.5L446.5 344.1L446.5 345.1L436.4 340.5ZM446.5 344.1L456.7 346.5L456.7 347.5L446.5 345.1ZM456.7 346.5L466.8 344.1L466.8 345.1L456.7 347.5ZM466.8 344.1L476.9 339.8L476.9 340.8L466.8 345.1ZM476.9 339.8L487 331L487 332L476.9 340.8ZM487 331L497.1 326L497.1 327L487 332ZM497.1 326L507.2 321.9L507.2 322.9L497.1 327ZM507.2 321.9L517.3 321.6L517.3 322.6L507.2 322.9ZM517.3 321.6L527.4 319.6L527.4 320.6L517.3 322.6ZM527.4 319.6L537.5 323.3L537.5 324.3L527.4 320.6ZM537.5 323.3L547.6 321.6L547.6 322.6L537.5 324.3ZM547.6 321.6L557.7 318.8L557.7 319.8L547.6 322.6ZM557.7 318.8L567.9 322.2L567.9 323.2L557.7 319.8ZM567.9 322.2L578 326.6L578 327.6L567.9 323.2ZM578 326.6L588.1 326.6L588.1 327.6L578 327.6ZM588.1 326.6L598.2 327.1L598.2 328.1L588.1 327.6ZM598.2 327.1L608.3 330.5L608.3 331.5L598.2 328.1ZM608.3 330.5L618.4 334.4L618.4 335.4L608.3 331.5ZM618.4 334.4L628.5 339.5L628.5 340.5L618.4 335.4ZM628.5 339.5L638.6 343.4L638.6 344.4L628.5 340.5ZM638.6 343.4L648.7 347.8L648.7 348.8L638.6 344.4ZM648.7 347.8L658.8 347.8L658.8 348.8L648.7 348.8ZM658.8 347.8L668.9 347.3L668.9 348.3L658.8 348.8ZM668.9 347.3L679 349.9L679 350.9L668.9 348.3ZM679 349.9L689.2 349.9L689.2 350.9L679 350.9ZM689.2 349.9L699.3 348.6L699.3 349.6L689.2 350.9ZM699.3 348.6L709.4 346.5L709.4 347.5L699.3 349.6ZM709.4 346.5L719.5 341.6L719.5 342.6L709.4 347.5ZM719.5 341.6L729.6 343.4L729.6 344.4L719.5 342.6ZM729.6 343.4L739.7 346.5L739.7 347.5L729.6 344.4ZM739.7 346.5L749.8 350.4L749.8 351.4L739.7 347.5ZM749.8 350.4L759.9 352.5L759.9 353.5L749.8 351.4ZM759.9 352.5L770 353L770 354L759.9 353.5ZM770 353L780.1 353.8L780.1 354.8L770 354ZM780.1 353.8L790.2 351.2L790.2 352.2L780.1 354.8ZM790.2 351.2L800.4 345.5L800.4 346.5L790.2 352.2ZM800.4 345.5L810.5 342.9L810.5 343.9L800.4 346.5Z"/>
<path fill="#00e800" d="M173.6 558.8L183.7 558.8L183.7 559.8L173.6 559.8ZM183.7 558.8L193.8 558.8L193.8 559.8L183.7 559.8ZM193.8 558.8L203.9 558.8L203.9 559.8L193.8 559.8ZM203.9 558.8L214 558.8L214 559.8L203.9 559.8ZM214 558.8L224.1 558.8L224.1 559.8L214 559.8ZM224.1 558.8L234.3 558.8L234.3 559.8L224.1 559.8ZM234.3 558.8L244.4 558.8L244.4 559.8L234.3 559.8ZM244.4 558.8L254.5 558.8L254.5 559.8L244.4 559.8ZM254.5 558.8L264.6 558.8L264.6 559.8L254.5 559.8ZM264.6 558.8L274.7 558.8L274.7 559.8L264.6 559.8ZM274.7 558.8L284.8 558.8L284.8 559.8L274.7 559.8ZM284.8 558.8L294.9 558.8L294.9 559.8L284.8 559.8ZM294.9 558.8L305 558.8L305 559.8L294.9 559.8ZM305 558.8L315.1 558.8L315.1 559.8L305 559.8ZM315.1 558.8L325.2 558.8L325.2 559.8L315.1 559.8ZM325.2 558.8L335.3 558.8L335.3 559.8L325.2 559.8ZM335.3 558.8L345.5 558.8L345.5 559.8L335.3 559.8ZM345.5 558.8L355.6 558.8L355.6 559.8L345.5 559.8ZM355.6 558.8L365.7 558.8L365.7 559.8L355.6 559.8ZM365.7 558.8L375.8 558.8L375.8 559.8L365.7 559.8ZM375.8 558.8L385.9 558.8L385.9 559.8L375.8 559.8ZM385.9 558.8L396 558.8L396 559.8L385.9 559.8ZM396 558.8L406.1 558.8L406.1 559.8L396 559.8ZM406.1 558.8L416.2 557L416.2 558L406.1 559.8ZM415.7 558.5L414.7 558.5L424.8 537.8L425.8 537.8ZM424.8 537.8L425.8 537.8L435.9 559.8L434.9 559.8ZM436.4 558.3L446.5 558.8L446.5 559.8L436.4 559.3ZM446.5 558.8L456.7 558.8L456.7 559.8L446.5 559.8ZM456.7 558.8L466.8 558.8L466.8 559.8L456.7 559.8ZM466.8 558.8L476.9 558.8L476.9 559.8L466.8 559.8ZM476.9 558.8L487 558.8L487 559.8L476.9 559.8ZM487 558.8L497.1 558.8L497.1 559.8L487 559.8ZM497.1 558.8L507.2 558.8L507.2 559.8L497.1 559.8ZM507.2 558.8L517.3 558.8L517.3 559.8L507.2 559.8ZM517.3 558.8L527.4 558.8L527.4 559.8L517.3 559.8ZM527.4 558.8L537.5 558.8L537.5 559.8L527.4 559.8ZM537.5 558.8L547.6 558.8L547.6 559.8L537.5 559.8ZM547.6 558.8L557.7 558.8L557.7 559.8L547.6 559.8ZM557.7 558.8L567.9 558.8L567.9 559.8L557.7 559.8ZM567.9 558.8L578 558.8L578 559.8L567.9 559.8ZM578 558.8L588.1 558.8L588.1 559.8L578 559.8ZM588.1 558.8L598.2 558.8L598.2 559.8L588.1 559.8ZM598.2 558.8L608.3 558.8L608.3 559.8L598.2 559.8ZM608.3 558.8L618.4 558.8L618.4 559.8L608.3 559.8ZM618.4 558.8L628.5 558.8L628.5 559.8L618.4 559.8ZM628.5 558.8L638.6 558.8L638.6 559.8L628.5 559.8ZM638.6 558.8L648.7 558.8L648.7 559.8L638.6 559.8ZM648.7 558.8L658.8 558.8L658.8 559.8L648.7 559.8ZM658.8 558.8L668.9 558.8L668.9 559.8L658.8 559.8ZM668.9 558.8L679 558.8L679 559.8L668.9 559.8ZM679 558.8L689.2 558.8L689.2 559.8L679 559.8ZM689.2 558.8L699.3 558.8L699.3 559.8L689.2 559.8ZM699.3 558.8L709.4 558.8L709.4 559.8L699.3 559.8ZM709.4 558.8L719.5 558.8L719.5 559.8L709.4 559.8ZM719.5 558.8L729.6 558.8L729.6 559.8L719.5 559.8ZM729.6 558.8L739.7 558.8L739.7 559.8L729.6 559.8ZM739.7 558.8L749.8 558.8L749.8 559.8L739.7 559.8ZM749.8 558.8L759.9 558.8L759.9 559.8L749.8 559.8ZM759.9 558.8L770 558.8L770 559.8L759.9 559.8ZM770 558.8L780.1 558.8L780.1 559.8L770 559.8ZM780.1 558.8L790.2 558.8L790.2 559.8L780.1 559.8ZM790.2 558.8L800.4 558.8L800.4 559.8L790.2 559.8ZM800.4 558.8L810.5 558.8L810.5 559.8L800.4 559.8ZM173.1 287L172.1 287L182.2 272.5L183.2 272.5ZM183.7 271L193.8 261.8L193.8 262.8L183.7 272ZM193.8 261.8L203.9 259.3L203.9 260.3L193.8 262.8ZM203.9 259.3L214 259.3L214 260.3L203.9 260.3ZM214 259.3L224.1 262.7L224.1 263.7L214 260.3ZM223.6 264.2L222.6 264.2L232.8 247L233.8 247ZM234.3 245.5L244.4 246L244.4 247L234.3 246.5ZM243.9 247.5L242.9 247.5L253 231.4L254 231.4ZM254 231.4L253 231.4L263.1 220L264.1 220ZM263.1 220L264.1 220L274.2 239L273.2 239ZM273.2 239L274.2 239L284.3 259L283.3 259ZM283.3 259L284.3 259L294.4 273L293.4 273ZM294.9 271.5L305 278.5L305 279.5L294.9 272.5ZM305 278.5L315.1 283.5L315.1 284.5L305 279.5ZM315.1 283.5L325.2 276.5L325.2 277.5L315.1 284.5ZM325.2 276.5L335.3 278.5L335.3 279.5L325.2 277.5ZM335.3 278.5L345.5 271.5L345.5 272.5L335.3 279.5ZM345 273L344 273L354.1 262L355.1 262ZM355.1 262L354.1 262L364.2 251L365.2 251ZM364.2 251L365.2 251L375.3 263L374.3 263ZM374.3 263L375.3 263L385.4 281L384.4 281ZM384.4 281L385.4 281L395.5 297L394.5 297ZM396 295.5L406.1 288.9L406.1 289.9L396 296.5ZM404.6 290.4L405.6 290.4L415.7 306.7L414.7 306.7ZM414.7 306.7L415.7 306.7L425.8 323.5L424.8 323.5ZM424.8 323.5L425.8 323.5L435.9 336L434.9 336ZM436.4 334.5L446.5 325.9L446.5 326.9L436.4 335.5ZM446.5 325.9L456.7 316.8L456.7 317.8L446.5 326.9ZM456.2 318.3L455.2 318.3L465.3 301.5L466.3 301.5ZM466.8 300L476.9 294.3L476.9 295.3L466.8 301ZM476.4 295.8L475.4 295.8L485.5 273L486.5 273ZM487 271.5L497.1 266.4L497.1 267.4L487 272.5ZM496.6 267.9L495.6 267.9L505.7 234.5L506.7 234.5ZM507.2 233L517.3 233L517.3 234L507.2 234ZM517.3 233L527.4 236.6L527.4 237.6L517.3 234ZM525.9 238.1L526.9 238.1L537 249.8L536 249.8ZM536 249.8L537 249.8L547.1 260.1L546.1 260.1ZM546.1 260.1L547.1 260.1L557.2 279.5L556.2 279.5ZM556.2 279.5L557.2 279.5L567.4 327.4L566.4 327.4Z"/>
<path fill="#00e800" d="M173.6 559.8L183.7 559.8L183.7 560.8L173.6 560.8ZM183.7 559.8L193.8 559.8L193.8 560.8L183.7 560.8ZM193.8 559.8L203.9 559.8L203.9 560.8L193.8 560.8ZM203.9 559.8L214 559.8L214 560.8L203.9 560.8ZM214 559.8L224.1 559.8L224.1 560.8L214 560.8ZM224.1 559.8L234.3 559.8L234.3 560.8L224.1 560.8ZM234.3 559.8L244.4 559.8L244.4 560.8L234.3 560.8ZM244.4 559.8L254.5 559.8L254.5 560.8L244.4 560.8ZM254.5 559.8L264.6 559.8L264.6 560.8L254.5 560.8ZM264.6 559.8L274.7 559.8L274.7 560.8L264.6 560.8ZM274.7 559.8L284.8 559.8L284.8 560.8L274.7 560.8ZM284.8 559.8L294.9 559.8L294.9 560.8L284.8 560.8ZM294.9 559.8L305 559.8L305 560.8L294.9 560.8ZM305 559.8L315.1 559.8L315.1 560.8L305 560.8ZM315.1 559.8L325.2 559.8L325.2 560.8L315.1 560.8ZM325.2 559.8L335.3 559.8L335.3 560.8L325.2 560.8ZM335.3 559.8L345.5 559.8L345.5 560.8L335.3 560.8ZM345.5 559.8L355.6 559.8L355.6 560.8L345.5 560.8ZM355.6 559.8L365.7 559.8L365.7 560.8L355.6 560.8ZM365.7 559.8L375.8 559.8L375.8 560.8L365.7 560.8ZM375.8 559.8L385.9 559.8L385.9 560.8L375.8 560.8ZM385.9 559.8L396 559.8L396 560.8L385.9 560.8ZM396 559.8L406.1 559.8L406.1 560.8L396 560.8ZM406.1 559.8L416.2 558L416.2 559L406.1 560.8ZM416.7 558.5L415.7 558.5L425.8 537.8L426.8 537.8ZM425.8 537.8L426.8 537.8L436.9 559.8L435.9 559.8ZM436.4 559.3L446.5 559.8L446.5 560.8L436.4 560.3ZM446.5 559.8L456.7 559.8L456.7 560.8L446.5 560.8ZM456.7 559.8L466.8 559.8L466.8 560.8L456.7 560.8ZM466.8 559.8L476.9 559.8L476.9 560.8L466.8 560.8ZM476.9 559.8L487 559.8L487 560.8L476.9 560.8ZM487 559.8L497.1 559.8L497.1 560.8L487 560.8ZM497.1 559.8L507.2 559.8L507.2 560.8L497.1 560.8ZM507.2 559.8L517.3 559.8L517.3 560.8L507.2 560.8ZM517.3 559.8L527.4 559.8L527.4 560.8L517.3 560.8ZM527.4 559.8L537.5 559.8L537.5 560.8L527.4 560.8ZM537.5 559.8L547.6 559.8L547.6 560.8L537.5 560.8ZM547.6 559.8L557.7 559.8L557.7 560.8L547.6 560.8ZM557.7 559.8L567.9 559.8L567.9 560.8L557.7 560.8ZM567.9 559.8L578 559.8L578 560.8L567.9 560.8ZM578 559.8L588.1 559.8L588.1 560.8L578 560.8ZM588.1 559.8L598.2 559.8L598.2 560.8L588.1 560.8ZM598.2 559.8L608.3 559.8L608.3 560.8L598.2 560.8ZM608.3 559.8L618.4 559.8L618.4 560.8L608.3 560.8ZM618.4 559.8L628.5 559.8L628.5 560.8L618.4 560.8ZM628.5 559.8L638.6 559.8L638.6 560.8L628.5 560.8ZM638.6 559.8L648.7 559.8L648.7 560.8L638.6 560.8ZM648.7 559.8L658.8 559.8L658.8 560.8L648.7 560.8ZM658.8 559.8L668.9 559.8L668.9 560.8L658.8 560.8ZM668.9 559.8L679 559.8L679 560.8L668.9 560.8ZM679 559.8L689.2 559.8L689.2 560.8L679 560.8ZM689.2 559.8L699.3 559.8L699.3 560.8L689.2 560.8ZM699.3 559.8L709.4 559.8L709.4 560.8L699.3 560.8ZM709.4 559.8L719.5 559.8L719.5 560.8L709.4 560.8ZM719.5 559.8L729.6 559.8L729.6 560.8L719.5 560.8ZM729.6 559.8L739.7 559.8L739.7 560.8L729.6 560.8ZM739.7 559.8L749.8 559.8L749.8 560.8L739.7 560.8ZM749.8 559.8L759.9 559.8L759.9 560.8L749.8 560.8ZM759.9 559.8L770 559.8L770 560.8L759.9 560.8ZM770 559.8L780.1 559.8L780.1 560.8L770 560.8ZM780.1 559.8L790.2 559.8L790.2 560.8L780.1 560.8ZM790.2 559.8L800.4 559.8L800.4 560.8L790.2 560.8ZM800.4 559.8L810.5 559.8L810.5 560.8L800.4 560.8ZM174.1 287L173.1 287L183.2 272.5L184.2 272.5ZM183.7 272L193.8 262.8L193.8 263.8L183.7 273ZM193.8 262.8L203.9 260.3L203.9 261.3L193.8 263.8ZM203.9 260.3L214 260.3L214 261.3L203.9 261.3ZM214 260.3L224.1 263.7L224.1 264.7L214 261.3ZM224.6 264.2L223.6 264.2L233.8 247L234.8 247ZM234.3 246.5L244.4 247L244.4 248L234.3 247.5ZM244.9 247.5L243.9 247.5L254 231.4L255 231.4ZM255 231.4L254 231.4L264.1 220L265.1 220ZM264.1 220L265.1 220L275.2 239L274.2 239ZM274.2 239L275.2 239L285.3 259L284.3 259ZM284.3 259L285.3 259L295.4 273L294.4 273ZM294.9 272.5L305 279.5L305 280.5L294.9 273.5ZM305 279.5L315.1 284.5L315.1 285.5L305 280.5ZM315.1 284.5L325.2 277.5L325.2 278.5L315.1 285.5ZM325.2 277.5L335.3 279.5L335.3 280.5L325.2 278.5ZM335.3 279.5L345.5 272.5L345.5 273.5L335.3 280.5ZM346 273L345 273L355.1 262L356.1 262ZM356.1 262L355.1 262L365.2 251L366.2 251ZM365.2 251L366.2 251L376.3 263L375.3 263ZM375.3 263L376.3 263L386.4 281L385.4 281ZM385.4 281L386.4 281L396.5 297L395.5 297ZM396 296.5L406.1 289.9L406.1 290.9L396 297.5ZM405.6 290.4L406.6 290.4L416.7 306.7L415.7 306.7ZM415.7 306.7L416.7 306.7L426.8 323.5L425.8 323.5ZM425.8 323.5L426.8 323.5L436.9 336L435.9 336ZM436.4 335.5L446.5 326.9L446.5 327.9L436.4 336.5ZM446.5 326.9L456.7 317.8L456.7 318.8L446.5 327.9ZM457.2 318.3L456.2 318.3L466.3 301.5L467.3 301.5ZM466.8 301L476.9 295.3L476.9 296.3L466.8 302ZM477.4 295.8L476.4 295.8L486.5 273L487.5 273ZM487 272.5L497.1 267.4L497.1 268.4L487 273.5ZM497.6 267.9L496.6 267.9L506.7 234.5L507.7 234.5ZM507.2 234L517.3 234L517.3 235L507.2 235ZM517.3 234L527.4 237.6L527.4 238.6L517.3 235ZM526.9 238.1L527.9 238.1L538 249.8L537 249.8ZM537 249.8L538 249.8L548.1 260.1L547.1 260.1ZM547.1 260.1L548.1 260.1L558.2 279.5L557.2 279.5ZM557.2 279.5L558.2 279.5L568.4 327.4L567.4 327.4Z"/>
<path fill="#00e800" d="M173.6 560.8L183.7 560.8L183.7 561.8L173.6 561.8ZM183.7 560.8L193.8 560.8L193.8 561.8L183.7 561.8ZM193.8 560.8L203.9 560.8L203.9 561.8L193.8 561.8ZM203.9 560.8L214 560.8L214 561.8L203.9 561.8ZM214 560.8L224.1 560.8L224.1 561.8L214 561.8ZM224.1 560.8L234.3 560.8L234.3 561.8L224.1 561.8ZM234.3 560.8L244.4 560.8L244.4 561.8L234.3 561.8ZM244.4 560.8L254.5 560.8L254.5 561.8L244.4 561.8ZM254.5 560.8L264.6 560.8L264.6 561.8L254.5 561.8ZM264.6 560.8L274.7 560.8L274.7 561.8L264.6 561.8ZM274.7 560.8L284.8 560.8L284.8 561.8L274.7 561.8ZM284.8 560.8L294.9 560.8L294.9 561.8L284.8 561.8ZM294.9 560.8L305 560.8L305 561.8L294.9 561.8ZM305 560.8L315.1 560.8L315.1 561.8L305 561.8ZM315.1 560.8L325.2 560.8L325.2 561.8L315.1 561.8ZM325.2 560.8L335.3 560.8L335.3 561.8L325.2 561.8ZM335.3 560.8L345.5 560.8L345.5 561.8L335.3 561.8ZM345.5 560.8L355.6 560.8L355.6 561.8L345.5 561.8ZM355.6 560.8L365.7 560.8L365.7 561.8L355.6 561.8ZM365.7 560.8L375.8 560.8L375.8 561.8L365.7 561.8ZM375.8 560.8L385.9 560.8L385.9 561.8L375.8 561.8ZM385.9 560.8L396 560.8L396 561.8L385.9 561.8ZM396 560.8L406.1 560.8L406.1 561.8L396 561.8ZM406.1 560.8L416.2 559L416.2 560L406.1 561.8ZM417.7 558.5L416.7 558.5L426.8 537.8L427.8 537.8ZM426.8 537.8L427.8 537.8L437.9 559.8L436.9 559.8ZM436.4 560.3L446.5 560.8L446.5 561.8L436.4 561.3ZM446.5 560.8L456.7 560.8L456.7 561.8L446.5 561.8ZM456.7 560.8L466.8 560.8L466.8 561.8L456.7 561.8ZM466.8 560.8L476.9 560.8L476.9 561.8L466.8 561.8ZM476.9 560.8L487 560.8L487 561.8L476.9 561.8ZM487 560.8L497.1 560.8L497.1 561.8L487 561.8ZM497.1 560.8L507.2 560.8L507.2 561.8L497.1 561.8ZM507.2 560.8L517.3 560.8L517.3 561.8L507.2 561.8ZM517.3 560.8L527.4 560.8L527.4 561.8L517.3 561.8ZM527.4 560.8L537.5 560.8L537.5 561.8L527.4 561.8ZM537.5 560.8L547.6 560.8L547.6 561.8L537.5 561.8ZM547.6 560.8L557.7 560.8L557.7 561.8L547.6 561.8ZM557.7 560.8L567.9 560.8L567.9 561.8L557.7 561.8ZM567.9 560.8L578 560.8L578 561.8L567.9 561.8ZM578 560.8L588.1 560.8L588.1 561.8L578 561.8ZM588.1 560.8L598.2 560.8L598.2 561.8L588.1 561.8ZM598.2 560.8L608.3 560.8L608.3 561.8L598.2 561.8ZM608.3 560.8L618.4 560.8L618.4 561.8L608.3 561.8ZM618.4 560.8L628.5 560.8L628.5 561.8L618.4 561.8ZM628.5 560.8L638.6 560.8L638.6 561.8L628.5 561.8ZM638.6 560.8L648.7 560.8L648.7 561.8L638.6 561.8ZM648.7 560.8L658.8 560.8L658.8 561.8L648.7 561.8ZM658.8 560.8L668.9 560.8L668.9 561.8L658.8 561.8ZM668.9 560.8L679 560.8L679 561.8L668.9 561.8ZM679 560.8L689.2 560.8L689.2 561.8L679 561.8ZM689.2 560.8L699.3 560.8L699.3 561.8L689.2 561.8ZM699.3 560.8L709.4 560.8L709.4 561.8L699.3 561.8ZM709.4 560.8L719.5 560.8L719.5 561.8L709.4 561.8ZM719.5 560.8L729.6 560.8L729.6 561.8L719.5 561.8ZM729.6 560.8L739.7 560.8L739.7 561.8L729.6 561.8ZM739.7 560.8L749.8 560.8L749.8 561.8L739.7 561.8ZM749.8 560.8L759.9 560.8L759.9 561.8L749.8 561.8ZM759.9 560.8L770 560.8L770 561.8L759.9 561.8ZM770 560.8L780.1 560.8L780.1 561.8L770 561.8ZM780.1 560.8L790.2 560.8L790.2 561.8L780.1 561.8ZM790.2 560.8L800.4 560.8L800.4 561.8L790.2 561.8ZM800.4 560.8L810.5 560.8L810.5 561.8L800.4 561.8ZM175.1 287L174.1 287L184.2 272.5L185.2 272.5ZM183.7 273L193.8 263.8L193.8 264.8L183.7 274ZM193.8 263.8L203.9 261.3L203.9 262.3L193.8 264.8ZM203.9 261.3L214 261.3L214 262.3L203.9 262.3ZM214 261.3L224.1 264.7L224.1 265.7L214 262.3ZM225.6 264.2L224.6 264.2L234.8 247L235.8 247ZM234.3 247.5L244.4 248L244.4 249L234.3 248.5ZM245.9 247.5L244.9 247.5L255 231.4L256 231.4ZM256 231.4L255 231.4L265.1 220L266.1 220ZM265.1 220L266.1 220L276.2 239L275.2 239ZM275.2 239L276.2 239L286.3 259L285.3 259ZM285.3 259L286.3 259L296.4 273L295.4 273ZM294.9 273.5L305 280.5L305 281.5L294.9 274.5ZM305 280.5L315.1 285.5L315.1 286.5L305 281.5ZM315.1 285.5L325.2 278.5L325.2 279.5L315.1 286.5ZM325.2 278.5L335.3 280.5L335.3 281.5L325.2 279.5ZM335.3 280.5L345.5 273.5L345.5 274.5L335.3 281.5ZM347 273L346 273L356.1 262L357.1 262ZM357.1 262L356.1 262L366.2 251L367.2 251ZM366.2 251L367.2 251L377.3 263L376.3 263ZM376.3 263L377.3 263L387.4 281L386.4 281ZM386.4 281L387.4 281L397.5 297L396.5 297ZM396 297.5L406.1 290.9L406.1 291.9L396 298.5ZM406.6 290.4L407.6 290.4L417.7 306.7L416.7 306.7ZM416.7 306.7L417.7 306.7L427.8 323.5L426.8 323.5ZM426.8 323.5L427.8 323.5L437.9 336L436.9 336ZM436.4 336.5L446.5 327.9L446.5 328.9L436.4 337.5ZM446.5 327.9L456.7 318.8L456.7 319.8L446.5 328.9ZM458.2 318.3L457.2 318.3L467.3 301.5L468.3 301.5ZM466.8 302L476.9 296.3L476.9 297.3L466.8 303ZM478.4 295.8L477.4 295.8L487.5 273L488.5 273ZM487 273.5L497.1 268.4L497.1 269.4L487 274.5ZM498.6 267.9L497.6 267.9L507.7 234.5L508.7 234.5ZM507.2 235L517.3 235L517.3 236L507.2 236ZM517.3 235L527.4 238.6L527.4 239.6L517.3 236ZM527.9 238.1L528.9 238.1L539 249.8L538 249.8ZM538 249.8L539 249.8L549.1 260.1L548.1 260.1ZM548.1 260.1L549.1 260.1L559.2 279.5L558.2 279.5ZM558.2 279.5L559.2 279.5L569.4 327.4L568.4 327.4Z"/>
</g>
<rect x="163.50" y="30.50" width="647.00" height="530.00" fill="none" stroke="#e8e8e8" stroke-width="1"/>
<path d="M810.50 547.50h-3.60M810.50 533.50h-5.60M810.50 520.50h-3.60M810.50 507.50h-5.60M810.50 494.50h-3.60M810.50 480.50h-5.60M810.50 467.50h-3.60M810.50 454.50h-5.60M810.50 441.50h-3.60M810.50 427.50h-5.60M810.50 414.50h-3.60M810.50 401.50h-5.60M810.50 388.50h-3.60M810.50 374.50h-5.60M810.50 361.50h-3.60M810.50 348.50h-5.60M810.50 335.50h-3.60M810.50 321.50h-5.60M810.50 308.50h-3.60M810.50 295.50h-5.60M810.50 282.50h-3.60M810.50 268.50h-5.60M810.50 255.50h-3.60M810.50 242.50h-5.60M810.50 229.50h-3.60M810.50 215.50h-5.60M810.50 202.50h-3.60M810.50 189.50h-5.60M810.50 176.50h-3.60M810.50 162.50h-5.60M810.50 149.50h-3.60M810.50 136.50h-5.60M810.50 123.50h-3.60M810.50 109.50h-5.60M810.50 96.50h-3.60M810.50 83.50h-5.60M810.50 70.50h-3.60M810.50 56.50h-5.60M810.50 43.50h-3.60" fill="none" stroke="#fff" stroke-width="1"/>
<text x="434.9" y="16.8" font-size="16" font-weight="bold" text-anchor="middle" xml:space="preserve" style="white-space:pre">Mosbach 74821 (DE)  850 hPa Temp. &amp; Niederschlag | Sun, 06Aug2023 00Z</text>
<text x="153.8" y="562.90" font-size="10.4" text-anchor="end">-20</text>
<text x="153.8" y="504.01" font-size="10.4" text-anchor="end">-15</text>
<text x="153.8" y="445.12" font-size="10.4" text-anchor="end">-10</text>
<text x="153.8" y="386.23" font-size="10.4" text-anchor="end">-5</text>
<text x="154.2" y="327.34" font-size="10.4" text-anchor="end">0</text>
<text x="154.2" y="268.46" font-size="10.4" text-anchor="end">5</text>
<text x="153.55" y="209.57" font-size="10.4" letter-spacing="-0.5" text-anchor="end">10</text>
<text x="153.55" y="150.68" font-size="10.4" letter-spacing="-0.5" text-anchor="end">15</text>
<text x="153.55" y="91.79" font-size="10.4" letter-spacing="-0.5" text-anchor="end">20</text>
<text x="153.55" y="32.90" font-size="10.4" letter-spacing="-0.5" text-anchor="end">25</text>
<text x="817.4" y="562.90" font-size="10.4" letter-spacing="-0.5">0</text>
<text x="817.4" y="430.40" font-size="10.4" letter-spacing="-0.5">10</text>
<text x="817.4" y="297.90" font-size="10.4" letter-spacing="-0.5">20</text>
<text x="817.4" y="165.40" font-size="10.4" letter-spacing="-0.5">30</text>
<text x="817.4" y="32.90" font-size="10.4" letter-spacing="-0.5">40</text>
<text x="162.60" y="577" font-size="10.4" letter-spacing="0.15" text-anchor="middle">14Dec 00z</text>
<text x="243.47" y="577" font-size="10.4" letter-spacing="0.15" text-anchor="middle">16Dec 00z</text>
<text x="324.35" y="577" font-size="10.4" letter-spacing="0.15" text-anchor="middle">18Dec 00z</text>
<text x="405.23" y="577" font-size="10.4" letter-spacing="0.15" text-anchor="middle">20Dec 00z</text>
<text x="486.10" y="577" font-size="10.4" letter-spacing="0.15" text-anchor="middle">22Dec 00z</text>
<text x="566.98" y="577" font-size="10.4" letter-spacing="0.15" text-anchor="middle">24Dec 00z</text>
<text x="647.85" y="577" font-size="10.4" letter-spacing="0.15" text-anchor="middle">26Dec 00z</text>
<text x="728.73" y="577" font-size="10.4" letter-spacing="0.15" text-anchor="middle">28Dec 00z</text>
<text x="809.60" y="577" font-size="10.4" letter-spacing="0.15" text-anchor="middle">30Dec 00z</text>
<text x="486.6" y="593" font-size="10.4" letter-spacing="0.1" text-anchor="middle">Date (UTC)</text>
<text transform="translate(134.9,296.8) rotate(-90)" font-size="10.4" letter-spacing="0.18" text-anchor="middle">850 hPa Temp. (°C)</text>
<text transform="translate(843.3,296.9) rotate(-90)" font-size="10.4" letter-spacing="0.16" text-anchor="middle">Niederschlag (mm)</text>
<text x="120" y="604" font-size="15.9">GEM Ensemble, 49.5N, 9E</text>
<text x="650" y="604" font-size="16">Wetterzentrale.de</text>
<path d="M-2.70 40.90h10.4" stroke="#0022cc" stroke-width="2.1" fill="none"/>
<text x="7.90" y="42.90" font-size="10.4">P1</text>
<path d="M53.20 40.90h10.4" stroke="#0055cc" stroke-width="2.1" fill="none"/>
<text x="64.60" y="42.90" font-size="10.4">P2</text>
<path d="M-2.70 55.87h10.4" stroke="#0077cc" stroke-width="2.1" fill="none"/>
<text x="7.90" y="57.87" font-size="10.4">P3</text>
<path d="M53.20 55.87h10.4" stroke="#0099cc" stroke-width="2.1" fill="none"/>
<text x="64.60" y="57.87" font-size="10.4">P4</text>
<path d="M-2.70 70.84h10.4" stroke="#00b4c0" stroke-width="2.1" fill="none"/>
<text x="7.90" y="72.84" font-size="10.4">P5</text>
<path d="M53.20 70.84h10.4" stroke="#00b48c" stroke-width="2.1" fill="none"/>
<text x="64.60" y="72.84" font-size="10.4">P6</text>
<path d="M-2.70 85.81h10.4" stroke="#00b45a" stroke-width="2.1" fill="none"/>
<text x="7.90" y="87.81" font-size="10.4">P7</text>
<path d="M53.20 85.81h10.4" stroke="#00b432" stroke-width="2.1" fill="none"/>
<text x="64.60" y="87.81" font-size="10.4">P8</text>
<path d="M-2.70 100.78h10.4" stroke="#00c814" stroke-width="2.1" fill="none"/>
<text x="7.90" y="102.78" font-size="10.4">P9</text>
<path d="M53.20 100.78h10.4" stroke="#00d200" stroke-width="2.1" fill="none"/>
<text x="64.60" y="102.78" font-size="10.4">P10</text>
<path d="M-2.70 115.75h10.4" stroke="#d2c800" stroke-width="2.1" fill="none"/>
<text x="7.90" y="117.75" font-size="10.4">P11</text>
<path d="M53.20 115.75h10.4" stroke="#d2aa00" stroke-width="2.1" fill="none"/>
<text x="64.60" y="117.75" font-size="10.4">P12</text>
<path d="M-2.70 130.72h10.4" stroke="#c89600" stroke-width="2.1" fill="none"/>
<text x="7.90" y="132.72" font-size="10.4">P13</text>
<path d="M53.20 130.72h10.4" stroke="#d28200" stroke-width="2.1" fill="none"/>
<text x="64.60" y="132.72" font-size="10.4">P14</text>
<path d="M-2.70 145.69h10.4" stroke="#d27814" stroke-width="2.1" fill="none"/>
<text x="7.90" y="147.69" font-size="10.4">P15</text>
<path d="M53.20 145.69h10.4" stroke="#c86400" stroke-width="2.1" fill="none"/>
<text x="64.60" y="147.69" font-size="10.4">P16</text>
<path d="M-2.70 160.66h10.4" stroke="#c85a14" stroke-width="2.1" fill="none"/>
<text x="7.90" y="162.66" font-size="10.4">P17</text>
<path d="M53.20 160.66h10.4" stroke="#be4628" stroke-width="2.1" fill="none"/>
<text x="64.60" y="162.66" font-size="10.4">P18</text>
<path d="M-2.70 175.63h10.4" stroke="#b43232" stroke-width="2.1" fill="none"/>
<text x="7.90" y="177.63" font-size="10.4">P19</text>
<path d="M53.20 175.63h10.4" stroke="#961e1e" stroke-width="2.1" fill="none"/>
<text x="64.60" y="177.63" font-size="10.4">P20</text>
<path d="M-2.7 191.9h10.4" stroke="#0000ff" stroke-width="2.1" fill="none"/>
<text x="8.0" y="194.4" font-size="10.4">Control</text>
<path d="M53.2 191.9h10.4" stroke="#fff" stroke-width="2.5" fill="none"/>
<text x="64.6" y="194.4" font-size="10.4">Ens. mean</text>
<path d="M53.2 217.9h10.4" stroke="#fc3d3d" stroke-width="2.1" fill="none"/>
<text x="64.6" y="222" font-size="10.4">1991-2020</text>
<text x="64.6" y="232.3" font-size="10.4">mean</text>
<path d="M-2.7 231.7h10.4" stroke="#00ff00" stroke-width="2.1" fill="none"/>
<text x="8.2" y="233.7" font-size="10.4">Oper</text>
</svg></body></html>
